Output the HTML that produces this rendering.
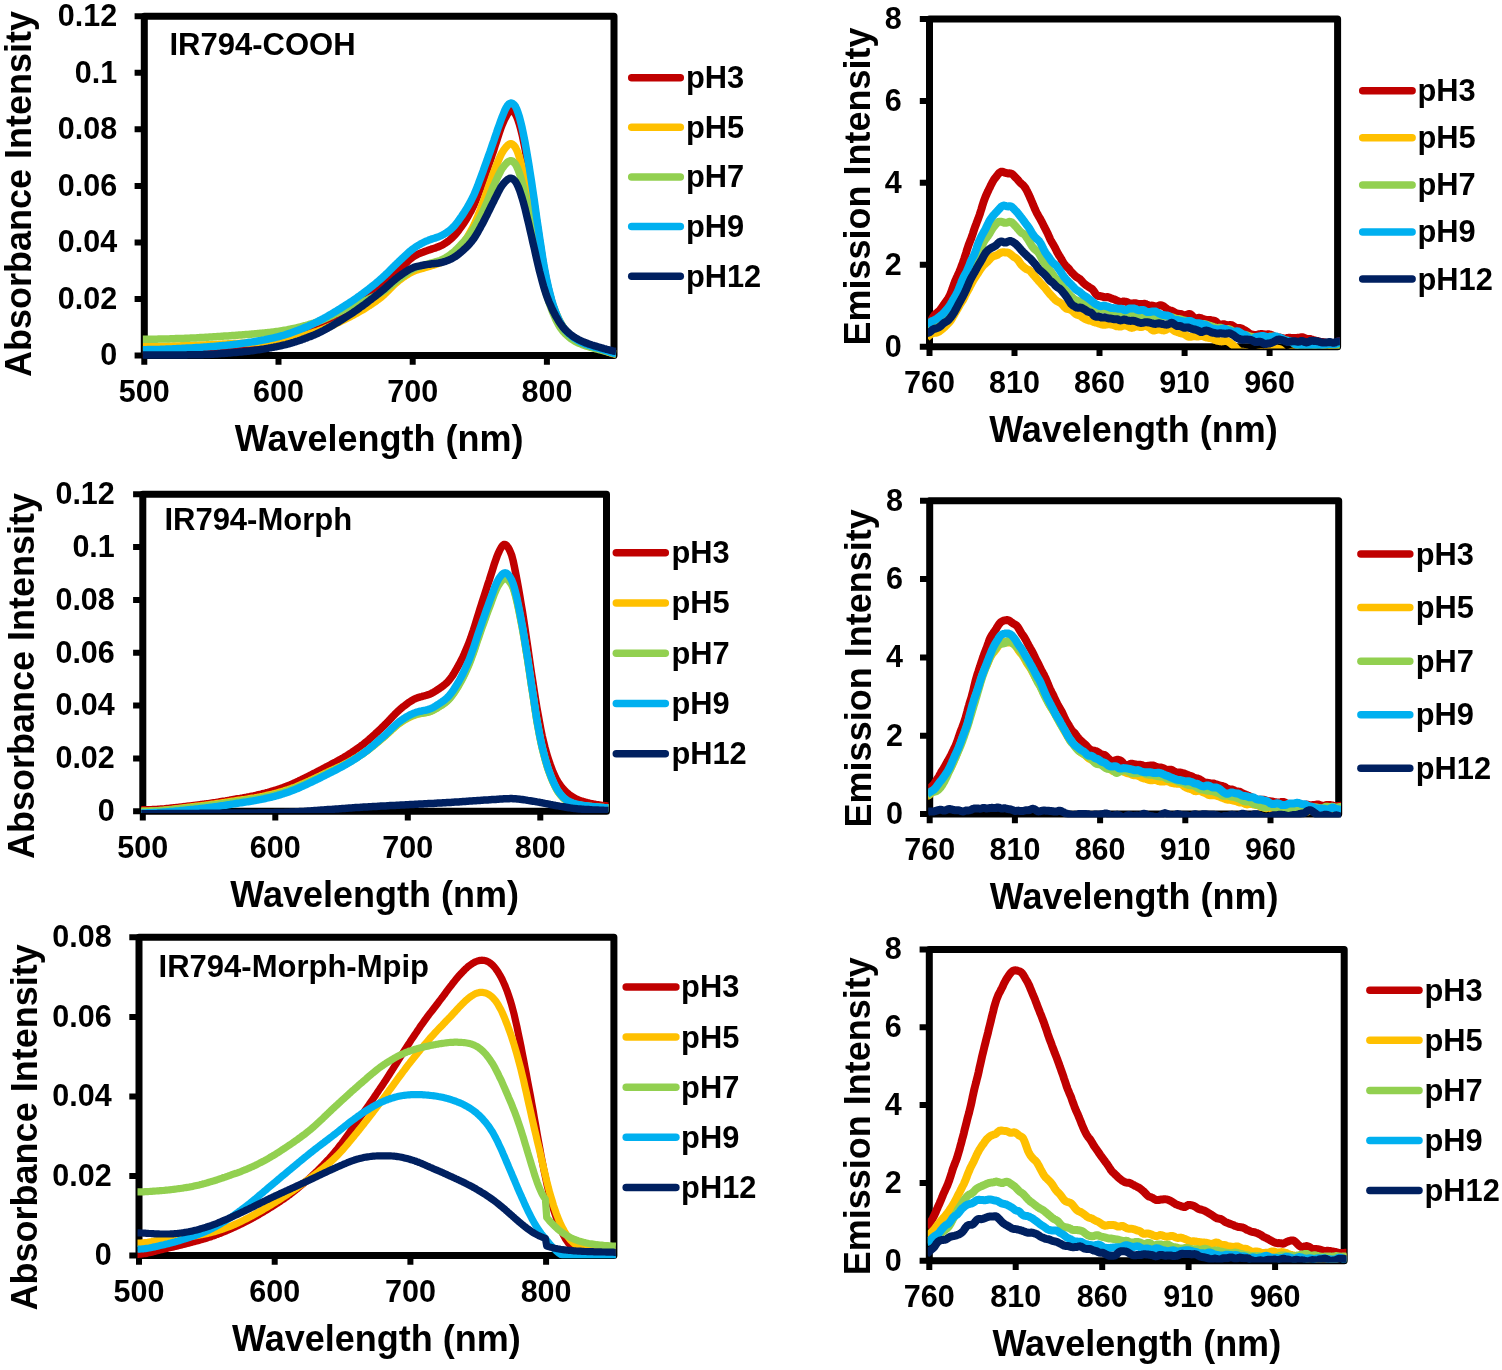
<!DOCTYPE html>
<html lang="en"><head><meta charset="utf-8"><title>Absorbance and emission spectra at different pH</title>
<style>html,body{margin:0;padding:0;background:#fff;}body{width:1502px;height:1370px;overflow:hidden;}svg{display:block;}text{font-family:"Liberation Sans", Arial, Helvetica, sans-serif;font-weight:700;fill:#000;}.tk{font-size:30.5px;}.lg{font-size:30.8px;}.ti{font-size:36px;}.c{fill:none;stroke-linejoin:round;stroke-linecap:butt;}.ax{stroke:#000;fill:none;}</style></head><body>
<svg width="1502" height="1370" viewBox="0 0 1502 1370">
<rect width="1502" height="1370" fill="#fff"/>
<g id="p1">
<rect class="ax" x="144.3" y="16.2" width="469.7" height="339.4" stroke-width="7" stroke-linejoin="round"/>
<path class="ax" stroke-width="6" d="M134.6 355.6H144.3M134.6 299H144.3M134.6 242.5H144.3M134.6 185.9H144.3M134.6 129.3H144.3M134.6 72.8H144.3M134.6 16.2H144.3M144.3 355.6V364.8M278.5 355.6V364.8M412.7 355.6V364.8M546.9 355.6V364.8"/>
<text class="tk" x="117.2" y="365.4" text-anchor="end">0</text>
<text class="tk" x="117.2" y="308.8" text-anchor="end">0.02</text>
<text class="tk" x="117.2" y="252.3" text-anchor="end">0.04</text>
<text class="tk" x="117.2" y="195.7" text-anchor="end">0.06</text>
<text class="tk" x="117.2" y="139.1" text-anchor="end">0.08</text>
<text class="tk" x="117.2" y="82.6" text-anchor="end">0.1</text>
<text class="tk" x="117.2" y="26" text-anchor="end">0.12</text>
<text class="tk" x="144.3" y="401.9" text-anchor="middle">500</text>
<text class="tk" x="278.5" y="401.9" text-anchor="middle">600</text>
<text class="tk" x="412.7" y="401.9" text-anchor="middle">700</text>
<text class="tk" x="546.9" y="401.9" text-anchor="middle">800</text>
<text class="ti" x="379.1" y="450.5" text-anchor="middle">Wavelength (nm)</text>
<text class="ti" transform="translate(31.2 377) rotate(-90)">Absorbance Intensity</text>
<text x="169.5" y="55" style="font-size:31px">IR794-COOH</text>
<clipPath id="clip_p1"><rect x="142.8" y="16.2" width="473.5" height="342.9"/></clipPath>
<g clip-path="url(#clip_p1)">
<path class="c" stroke="#C00000" stroke-width="7.5" d="M142.3,354.2L143.6,354.2 145,354.2 146.3,354.2 147.7,354.2 149,354.2 150.3,354.2 151.7,354.1 153,354.1 154.4,354.1 155.7,354.1 157,354.1 158.4,354 159.7,354 161.1,354 162.4,353.9 163.8,353.9 165.1,353.9 166.4,353.8 167.8,353.8 169.1,353.7 170.5,353.7 171.8,353.6 173.2,353.6 174.5,353.5 175.8,353.5 177.2,353.4 178.5,353.4 179.9,353.3 181.2,353.3 182.5,353.2 183.9,353.2 185.2,353.1 186.6,353 187.9,353 189.3,352.9 190.6,352.8 191.9,352.8 193.3,352.7 194.6,352.7 196,352.6 197.3,352.5 198.7,352.5 200,352.4 201.3,352.3 202.7,352.2 204,352.1 205.4,352 206.7,351.9 208,351.8 209.4,351.7 210.7,351.6 212.1,351.5 213.4,351.4 214.8,351.2 216.1,351.1 217.4,351 218.8,350.8 220.1,350.7 221.5,350.5 222.8,350.4 224.1,350.2 225.5,350.1 226.8,349.9 228.2,349.8 229.5,349.6 230.9,349.4 232.2,349.3 233.5,349.1 234.9,348.9 236.2,348.8 237.6,348.6 238.9,348.4 240.3,348.3 241.6,348.1 242.9,347.9 244.3,347.7 245.6,347.5 247,347.3 248.3,347.1 249.6,346.9 251,346.7 252.3,346.5 253.7,346.3 255,346.1 256.4,345.9 257.7,345.6 259,345.4 260.4,345.2 261.7,344.9 263.1,344.7 264.4,344.4 265.8,344.1 267.1,343.9 268.4,343.6 269.8,343.3 271.1,343.1 272.5,342.8 273.8,342.5 275.1,342.2 276.5,341.9 277.8,341.6 279.2,341.3 280.5,341 281.9,340.6 283.2,340.3 284.5,340 285.9,339.6 287.2,339.2 288.6,338.8 289.9,338.5 291.2,338.1 292.6,337.6 293.9,337.2 295.3,336.8 296.6,336.4 298,335.9 299.3,335.5 300.6,335 302,334.5 303.3,334 304.7,333.5 306,333 307.4,332.5 308.7,332 310,331.5 311.4,331 312.7,330.4 314.1,329.9 315.4,329.3 316.7,328.7 318.1,328.1 319.4,327.5 320.8,326.8 322.1,326.2 323.5,325.5 324.8,324.8 326.1,324.1 327.5,323.4 328.8,322.7 330.2,322 331.5,321.2 332.9,320.5 334.2,319.7 335.5,318.9 336.9,318.1 338.2,317.3 339.6,316.5 340.9,315.7 342.2,314.9 343.6,314.1 344.9,313.2 346.3,312.4 347.6,311.6 349,310.7 350.3,309.8 351.6,308.9 353,308 354.3,307.1 355.7,306.1 357,305.1 358.3,304.1 359.7,303.1 361,302.1 362.4,301.1 363.7,300.1 365.1,299 366.4,297.9 367.7,296.9 369.1,295.8 370.4,294.7 371.8,293.6 373.1,292.5 374.5,291.4 375.8,290.3 377.1,289.2 378.5,288.1 379.8,287 381.2,285.8 382.5,284.7 383.8,283.5 385.2,282.4 386.5,281.2 387.9,280 389.2,278.8 390.6,277.5 391.9,276.3 393.2,275.1 394.6,273.9 395.9,272.6 397.3,271.4 398.6,270.2 400,269 401.3,267.7 402.6,266.4 404,265.1 405.3,263.8 406.7,262.5 408,261.2 409.3,259.9 410.7,258.7 412,257.7 413.4,256.7 414.7,255.8 416.1,255.1 417.4,254.4 418.7,253.8 420.1,253.3 421.4,252.8 422.8,252.3 424.1,251.8 425.4,251.3 426.8,250.8 428.1,250.3 429.5,249.8 430.8,249.4 432.2,248.9 433.5,248.5 434.8,248.1 436.2,247.6 437.5,247.1 438.9,246.6 440.2,246 441.6,245.4 442.9,244.7 444.2,243.9 445.6,243 446.9,242.1 448.3,241.1 449.6,240.1 450.9,238.9 452.3,237.7 453.6,236.3 455,234.9 456.3,233.3 457.7,231.6 459,229.9 460.3,228.1 461.7,226.2 463,224.3 464.4,222.3 465.7,220.2 467.1,218 468.4,215.7 469.7,213.3 471.1,210.8 472.4,208.1 473.8,205.3 475.1,202.2 476.4,199 477.8,195.6 479.1,192 480.5,188.4 481.8,184.7 483.2,181 484.5,177.2 485.8,173.4 487.2,169.5 488.5,165.6 489.9,161.6 491.2,157.7 492.5,153.7 493.9,149.7 495.2,145.5 496.6,141.3 497.9,137.1 499.3,132.9 500.6,129 501.9,125.4 503.3,122.2 504.6,119.3 506,116.7 507.3,114.3 508.7,112.4 510,111.1 511.3,110.7 512.7,111.2 514,112.2 515.4,114 516.7,116.6 518,120 519.4,124.2 520.7,129 522.1,134.6 523.4,140.8 524.8,147.5 526.1,154.7 527.4,162.2 528.8,170.1 530.1,178.3 531.5,186.8 532.8,195.5 534.2,204.4 535.5,213.5 536.8,222.7 538.2,231.7 539.5,240.6 540.9,249.2 542.2,257.5 543.5,265.4 544.9,272.7 546.2,279.3 547.6,285.5 548.9,291.1 550.3,296.3 551.6,301 552.9,305.3 554.3,309.3 555.6,312.8 557,316.1 558.3,319 559.6,321.6 561,324.1 562.3,326.2 563.7,328.2 565,329.9 566.4,331.4 567.7,332.8 569,334.1 570.4,335.3 571.7,336.4 573.1,337.4 574.4,338.4 575.8,339.3 577.1,340.1 578.4,340.8 579.8,341.5 581.1,342.2 582.5,342.8 583.8,343.4 585.1,344 586.5,344.5 587.8,345 589.2,345.5 590.5,345.9 591.9,346.3 593.2,346.8 594.5,347.2 595.9,347.6 597.2,348 598.6,348.4 599.9,348.7 601.3,349.1 602.6,349.5 603.9,349.9 605.3,350.4 606.6,350.8 608,351.2 609.3,351.7 610.6,352.1 612,352.5 613.3,352.9 614.7,353.2 616,353.4"/>
<path class="c" stroke="#FFC000" stroke-width="7.5" d="M142.3,346.8L143.6,346.8 145,346.8 146.3,346.8 147.7,346.8 149,346.8 150.3,346.8 151.7,346.8 153,346.7 154.4,346.7 155.7,346.7 157,346.7 158.4,346.6 159.7,346.6 161.1,346.5 162.4,346.5 163.8,346.5 165.1,346.4 166.4,346.4 167.8,346.3 169.1,346.3 170.5,346.2 171.8,346.2 173.2,346.1 174.5,346.1 175.8,346 177.2,346 178.5,345.9 179.9,345.9 181.2,345.8 182.5,345.8 183.9,345.7 185.2,345.7 186.6,345.6 187.9,345.6 189.3,345.5 190.6,345.5 191.9,345.4 193.3,345.4 194.6,345.3 196,345.3 197.3,345.2 198.7,345.2 200,345.1 201.3,345.1 202.7,345 204,345 205.4,344.9 206.7,344.8 208,344.8 209.4,344.7 210.7,344.7 212.1,344.6 213.4,344.5 214.8,344.5 216.1,344.4 217.4,344.4 218.8,344.3 220.1,344.2 221.5,344.2 222.8,344.1 224.1,344 225.5,344 226.8,343.9 228.2,343.8 229.5,343.8 230.9,343.7 232.2,343.7 233.5,343.6 234.9,343.5 236.2,343.5 237.6,343.4 238.9,343.4 240.3,343.3 241.6,343.2 242.9,343.2 244.3,343.1 245.6,343.1 247,343 248.3,342.9 249.6,342.9 251,342.8 252.3,342.7 253.7,342.7 255,342.6 256.4,342.5 257.7,342.5 259,342.4 260.4,342.3 261.7,342.2 263.1,342.1 264.4,342 265.8,341.9 267.1,341.9 268.4,341.8 269.8,341.6 271.1,341.5 272.5,341.4 273.8,341.3 275.1,341.2 276.5,341.1 277.8,341 279.2,340.8 280.5,340.7 281.9,340.5 283.2,340.3 284.5,340.1 285.9,339.8 287.2,339.6 288.6,339.3 289.9,339 291.2,338.7 292.6,338.4 293.9,338.1 295.3,337.8 296.6,337.4 298,337.1 299.3,336.7 300.6,336.3 302,336 303.3,335.6 304.7,335.2 306,334.8 307.4,334.4 308.7,334 310,333.6 311.4,333.2 312.7,332.8 314.1,332.3 315.4,331.9 316.7,331.5 318.1,331 319.4,330.5 320.8,330 322.1,329.5 323.5,329 324.8,328.5 326.1,327.9 327.5,327.4 328.8,326.8 330.2,326.2 331.5,325.7 332.9,325.1 334.2,324.5 335.5,323.9 336.9,323.2 338.2,322.6 339.6,322 340.9,321.3 342.2,320.7 343.6,320 344.9,319.4 346.3,318.7 347.6,318 349,317.4 350.3,316.7 351.6,316 353,315.3 354.3,314.6 355.7,313.8 357,313.1 358.3,312.3 359.7,311.5 361,310.8 362.4,310 363.7,309.2 365.1,308.3 366.4,307.5 367.7,306.6 369.1,305.8 370.4,304.9 371.8,304 373.1,303.1 374.5,302.2 375.8,301.2 377.1,300.2 378.5,299.3 379.8,298.3 381.2,297.2 382.5,296.1 383.8,294.9 385.2,293.6 386.5,292.3 387.9,291 389.2,289.6 390.6,288.3 391.9,286.9 393.2,285.6 394.6,284.3 395.9,283.1 397.3,281.9 398.6,280.7 400,279.7 401.3,278.7 402.6,277.7 404,276.8 405.3,275.9 406.7,275 408,274.2 409.3,273.4 410.7,272.7 412,272 413.4,271.4 414.7,270.8 416.1,270.3 417.4,269.8 418.7,269.4 420.1,269 421.4,268.7 422.8,268.3 424.1,267.9 425.4,267.5 426.8,267.1 428.1,266.7 429.5,266.3 430.8,265.9 432.2,265.5 433.5,265.1 434.8,264.7 436.2,264.2 437.5,263.7 438.9,263.2 440.2,262.7 441.6,262.1 442.9,261.5 444.2,260.8 445.6,260 446.9,259.2 448.3,258.3 449.6,257.4 450.9,256.4 452.3,255.3 453.6,254.2 455,252.9 456.3,251.6 457.7,250.2 459,248.7 460.3,247.1 461.7,245.4 463,243.6 464.4,241.8 465.7,239.8 467.1,237.7 468.4,235.5 469.7,233.1 471.1,230.7 472.4,228.1 473.8,225.4 475.1,222.5 476.4,219.4 477.8,216.2 479.1,212.8 480.5,209.3 481.8,205.7 483.2,202.1 484.5,198.4 485.8,194.7 487.2,190.8 488.5,186.9 489.9,183 491.2,179.2 492.5,175.5 493.9,172 495.2,168.5 496.6,165 497.9,161.7 499.3,158.5 500.6,155.5 501.9,152.9 503.3,150.7 504.6,148.8 506,147.1 507.3,145.7 508.7,144.5 510,143.8 511.3,143.8 512.7,144.4 514,145.6 515.4,147.4 516.7,149.9 518,153.2 519.4,157.3 520.7,162.1 522.1,167.3 523.4,173 524.8,179.2 526.1,185.9 527.4,192.8 528.8,199.8 530.1,206.8 531.5,213.9 532.8,221 534.2,228.2 535.5,235.3 536.8,242.4 538.2,249.4 539.5,256.2 540.9,262.6 542.2,268.7 543.5,274.5 544.9,280 546.2,285 547.6,289.8 548.9,294.1 550.3,298.2 551.6,302 552.9,305.6 554.3,309 555.6,312.2 557,315.2 558.3,318.1 559.6,320.8 561,323.4 562.3,325.7 563.7,327.8 565,329.6 566.4,331.1 567.7,332.5 569,333.8 570.4,335 571.7,336.1 573.1,337.2 574.4,338.1 575.8,339 577.1,339.9 578.4,340.7 579.8,341.4 581.1,342.1 582.5,342.8 583.8,343.4 585.1,344 586.5,344.6 587.8,345.1 589.2,345.6 590.5,346.1 591.9,346.6 593.2,347 594.5,347.5 595.9,347.9 597.2,348.3 598.6,348.8 599.9,349.2 601.3,349.6 602.6,350 603.9,350.5 605.3,350.9 606.6,351.4 608,351.9 609.3,352.4 610.6,352.8 612,353.3 613.3,353.7 614.7,354 616,354.2"/>
<path class="c" stroke="#92D050" stroke-width="7.5" d="M142.3,339.3L143.6,339.3 145,339.3 146.3,339.3 147.7,339.3 149,339.3 150.3,339.3 151.7,339.3 153,339.2 154.4,339.2 155.7,339.2 157,339.2 158.4,339.1 159.7,339.1 161.1,339.1 162.4,339 163.8,339 165.1,339 166.4,338.9 167.8,338.9 169.1,338.9 170.5,338.8 171.8,338.8 173.2,338.7 174.5,338.7 175.8,338.6 177.2,338.6 178.5,338.6 179.9,338.5 181.2,338.5 182.5,338.4 183.9,338.4 185.2,338.3 186.6,338.3 187.9,338.2 189.3,338.2 190.6,338.1 191.9,338.1 193.3,338 194.6,337.9 196,337.9 197.3,337.8 198.7,337.7 200,337.6 201.3,337.6 202.7,337.5 204,337.4 205.4,337.3 206.7,337.2 208,337.2 209.4,337.1 210.7,337 212.1,336.9 213.4,336.8 214.8,336.7 216.1,336.7 217.4,336.6 218.8,336.5 220.1,336.4 221.5,336.3 222.8,336.2 224.1,336.1 225.5,336 226.8,336 228.2,335.9 229.5,335.8 230.9,335.7 232.2,335.6 233.5,335.5 234.9,335.4 236.2,335.3 237.6,335.2 238.9,335.1 240.3,335 241.6,334.9 242.9,334.8 244.3,334.7 245.6,334.6 247,334.5 248.3,334.4 249.6,334.3 251,334.2 252.3,334 253.7,333.9 255,333.8 256.4,333.7 257.7,333.6 259,333.5 260.4,333.3 261.7,333.2 263.1,333.1 264.4,332.9 265.8,332.8 267.1,332.7 268.4,332.5 269.8,332.4 271.1,332.2 272.5,332.1 273.8,331.9 275.1,331.7 276.5,331.5 277.8,331.4 279.2,331.2 280.5,331 281.9,330.8 283.2,330.5 284.5,330.3 285.9,330.1 287.2,329.8 288.6,329.5 289.9,329.3 291.2,329 292.6,328.7 293.9,328.4 295.3,328.1 296.6,327.8 298,327.5 299.3,327.1 300.6,326.8 302,326.5 303.3,326.1 304.7,325.7 306,325.4 307.4,325 308.7,324.6 310,324.2 311.4,323.8 312.7,323.4 314.1,323 315.4,322.5 316.7,322.1 318.1,321.6 319.4,321.1 320.8,320.5 322.1,320 323.5,319.4 324.8,318.8 326.1,318.2 327.5,317.6 328.8,317 330.2,316.4 331.5,315.8 332.9,315.1 334.2,314.5 335.5,313.8 336.9,313.2 338.2,312.5 339.6,311.9 340.9,311.3 342.2,310.6 343.6,310 344.9,309.4 346.3,308.8 347.6,308.2 349,307.6 350.3,307 351.6,306.4 353,305.8 354.3,305.3 355.7,304.7 357,304.1 358.3,303.6 359.7,303 361,302.5 362.4,301.9 363.7,301.3 365.1,300.7 366.4,300.2 367.7,299.6 369.1,298.9 370.4,298.3 371.8,297.7 373.1,297 374.5,296.4 375.8,295.7 377.1,294.9 378.5,294.2 379.8,293.4 381.2,292.6 382.5,291.7 383.8,290.8 385.2,289.9 386.5,288.8 387.9,287.8 389.2,286.7 390.6,285.7 391.9,284.6 393.2,283.5 394.6,282.4 395.9,281.3 397.3,280.3 398.6,279.2 400,278.2 401.3,277.2 402.6,276.2 404,275.2 405.3,274.2 406.7,273.2 408,272.3 409.3,271.3 410.7,270.4 412,269.6 413.4,268.9 414.7,268.3 416.1,267.7 417.4,267.2 418.7,266.7 420.1,266.3 421.4,265.9 422.8,265.5 424.1,265.1 425.4,264.7 426.8,264.3 428.1,263.9 429.5,263.6 430.8,263.2 432.2,262.8 433.5,262.5 434.8,262.1 436.2,261.7 437.5,261.3 438.9,260.9 440.2,260.4 441.6,259.8 442.9,259.2 444.2,258.5 445.6,257.8 446.9,256.9 448.3,256.1 449.6,255.1 450.9,254.1 452.3,253.1 453.6,252 455,250.8 456.3,249.6 457.7,248.2 459,246.9 460.3,245.4 461.7,244 463,242.5 464.4,241 465.7,239.5 467.1,237.9 468.4,236.2 469.7,234.4 471.1,232.6 472.4,230.7 473.8,228.6 475.1,226.5 476.4,224.1 477.8,221.7 479.1,219.2 480.5,216.5 481.8,213.8 483.2,211 484.5,208 485.8,204.9 487.2,201.6 488.5,198.3 489.9,194.9 491.2,191.6 492.5,188.4 493.9,185.4 495.2,182.4 496.6,179.4 497.9,176.5 499.3,173.7 500.6,171.2 501.9,168.9 503.3,167 504.6,165.3 506,163.8 507.3,162.4 508.7,161.4 510,160.8 511.3,160.7 512.7,161.3 514,162.5 515.4,164.2 516.7,166.5 518,169.5 519.4,173.2 520.7,177.6 522.1,182.4 523.4,187.6 524.8,193.3 526.1,199.3 527.4,205.7 528.8,212.2 530.1,218.8 531.5,225.5 532.8,232.3 534.2,239 535.5,245.7 536.8,252.3 538.2,258.7 539.5,265.1 540.9,271.2 542.2,277.2 543.5,283 544.9,288.5 546.2,293.5 547.6,298 548.9,302.2 550.3,305.9 551.6,309.4 552.9,312.8 554.3,315.9 555.6,319 557,321.8 558.3,324.3 559.6,326.5 561,328.5 562.3,330.3 563.7,332 565,333.4 566.4,334.7 567.7,336 569,337.1 570.4,338.2 571.7,339.2 573.1,340.1 574.4,340.9 575.8,341.7 577.1,342.4 578.4,343 579.8,343.6 581.1,344.1 582.5,344.7 583.8,345.2 585.1,345.6 586.5,346.1 587.8,346.5 589.2,346.9 590.5,347.3 591.9,347.7 593.2,348.1 594.5,348.4 595.9,348.8 597.2,349.1 598.6,349.5 599.9,349.8 601.3,350.1 602.6,350.5 603.9,350.8 605.3,351.2 606.6,351.5 608,351.9 609.3,352.2 610.6,352.6 612,352.9 613.3,353.2 614.7,353.5 616,353.7"/>
<path class="c" stroke="#00B0F0" stroke-width="7.5" d="M142.3,349.7L143.6,349.7 145,349.7 146.3,349.7 147.7,349.6 149,349.6 150.3,349.6 151.7,349.6 153,349.6 154.4,349.5 155.7,349.5 157,349.5 158.4,349.4 159.7,349.4 161.1,349.3 162.4,349.3 163.8,349.2 165.1,349.2 166.4,349.1 167.8,349 169.1,349 170.5,348.9 171.8,348.9 173.2,348.8 174.5,348.7 175.8,348.7 177.2,348.6 178.5,348.5 179.9,348.5 181.2,348.4 182.5,348.3 183.9,348.3 185.2,348.2 186.6,348.1 187.9,348.1 189.3,348 190.6,347.9 191.9,347.9 193.3,347.8 194.6,347.7 196,347.6 197.3,347.5 198.7,347.5 200,347.4 201.3,347.3 202.7,347.2 204,347.1 205.4,347 206.7,346.9 208,346.8 209.4,346.7 210.7,346.6 212.1,346.5 213.4,346.4 214.8,346.3 216.1,346.2 217.4,346.1 218.8,346 220.1,345.8 221.5,345.7 222.8,345.6 224.1,345.5 225.5,345.4 226.8,345.2 228.2,345.1 229.5,344.9 230.9,344.8 232.2,344.7 233.5,344.5 234.9,344.3 236.2,344.2 237.6,344 238.9,343.8 240.3,343.7 241.6,343.5 242.9,343.3 244.3,343.1 245.6,342.9 247,342.7 248.3,342.5 249.6,342.3 251,342.1 252.3,341.9 253.7,341.7 255,341.5 256.4,341.3 257.7,341 259,340.8 260.4,340.6 261.7,340.3 263.1,340.1 264.4,339.8 265.8,339.5 267.1,339.3 268.4,339 269.8,338.7 271.1,338.4 272.5,338.1 273.8,337.8 275.1,337.5 276.5,337.1 277.8,336.8 279.2,336.5 280.5,336.1 281.9,335.7 283.2,335.4 284.5,335 285.9,334.5 287.2,334.1 288.6,333.7 289.9,333.2 291.2,332.8 292.6,332.3 293.9,331.8 295.3,331.3 296.6,330.8 298,330.3 299.3,329.8 300.6,329.2 302,328.7 303.3,328.1 304.7,327.6 306,327 307.4,326.4 308.7,325.9 310,325.2 311.4,324.6 312.7,324 314.1,323.3 315.4,322.7 316.7,322 318.1,321.3 319.4,320.6 320.8,319.9 322.1,319.2 323.5,318.5 324.8,317.7 326.1,317 327.5,316.2 328.8,315.4 330.2,314.7 331.5,313.9 332.9,313.1 334.2,312.3 335.5,311.5 336.9,310.7 338.2,309.8 339.6,309 340.9,308.2 342.2,307.3 343.6,306.5 344.9,305.6 346.3,304.8 347.6,303.9 349,303.1 350.3,302.2 351.6,301.3 353,300.4 354.3,299.5 355.7,298.6 357,297.6 358.3,296.7 359.7,295.7 361,294.7 362.4,293.8 363.7,292.8 365.1,291.7 366.4,290.7 367.7,289.7 369.1,288.7 370.4,287.6 371.8,286.5 373.1,285.5 374.5,284.4 375.8,283.3 377.1,282.2 378.5,281 379.8,279.9 381.2,278.7 382.5,277.5 383.8,276.3 385.2,275 386.5,273.7 387.9,272.4 389.2,271.1 390.6,269.7 391.9,268.4 393.2,267 394.6,265.7 395.9,264.4 397.3,263.1 398.6,261.8 400,260.5 401.3,259.3 402.6,258 404,256.7 405.3,255.5 406.7,254.2 408,253 409.3,251.8 410.7,250.7 412,249.6 413.4,248.6 414.7,247.6 416.1,246.7 417.4,245.9 418.7,245 420.1,244.3 421.4,243.5 422.8,242.8 424.1,242.2 425.4,241.5 426.8,240.9 428.1,240.4 429.5,239.8 430.8,239.4 432.2,238.9 433.5,238.5 434.8,238.1 436.2,237.6 437.5,237.2 438.9,236.7 440.2,236.1 441.6,235.5 442.9,234.8 444.2,234.1 445.6,233.3 446.9,232.4 448.3,231.4 449.6,230.4 450.9,229.3 452.3,228 453.6,226.7 455,225.1 456.3,223.5 457.7,221.7 459,219.9 460.3,218 461.7,216.1 463,214.1 464.4,212 465.7,209.9 467.1,207.7 468.4,205.5 469.7,203.1 471.1,200.6 472.4,197.9 473.8,195.1 475.1,192 476.4,188.8 477.8,185.4 479.1,181.8 480.5,178.1 481.8,174.5 483.2,170.8 484.5,167.1 485.8,163.4 487.2,159.6 488.5,155.8 489.9,152 491.2,148.1 492.5,144.3 493.9,140.4 495.2,136.5 496.6,132.5 497.9,128.5 499.3,124.7 500.6,121 501.9,117.5 503.3,114.1 504.6,110.8 506,108 507.3,105.8 508.7,104.2 510,103.3 511.3,103 512.7,103.5 514,104.6 515.4,106.4 516.7,109.1 518,112.6 519.4,117 520.7,122 522.1,127.7 523.4,134 524.8,140.9 526.1,148.2 527.4,155.9 528.8,164.1 530.1,172.6 531.5,181.4 532.8,190.4 534.2,199.6 535.5,209 536.8,218.4 538.2,227.7 539.5,236.8 540.9,245.9 542.2,254.6 543.5,262.8 544.9,270.4 546.2,277.3 547.6,283.6 548.9,289.5 550.3,294.8 551.6,299.7 552.9,304.1 554.3,308.2 555.6,311.9 557,315.2 558.3,318.3 559.6,321.1 561,323.6 562.3,325.9 563.7,327.8 565,329.6 566.4,331.1 567.7,332.5 569,333.8 570.4,335 571.7,336.1 573.1,337.2 574.4,338.1 575.8,339 577.1,339.9 578.4,340.7 579.8,341.4 581.1,342.1 582.5,342.8 583.8,343.4 585.1,344 586.5,344.5 587.8,345 589.2,345.5 590.5,345.9 591.9,346.3 593.2,346.8 594.5,347.2 595.9,347.6 597.2,347.9 598.6,348.3 599.9,348.7 601.3,349.1 602.6,349.5 603.9,349.9 605.3,350.4 606.6,350.8 608,351.3 609.3,351.8 610.6,352.3 612,352.7 613.3,353.1 614.7,353.5 616,353.7"/>
<path class="c" stroke="#002060" stroke-width="7.5" d="M142.3,355L143.6,355 145,355 146.3,355 147.7,355 149,355 150.3,355 151.7,355 153,355 154.4,355 155.7,355 157,355 158.4,355 159.7,355 161.1,355 162.4,355 163.8,355 165.1,355 166.4,355 167.8,355 169.1,355 170.5,355 171.8,355 173.2,354.9 174.5,354.9 175.8,354.9 177.2,354.9 178.5,354.9 179.9,354.9 181.2,354.9 182.5,354.9 183.9,354.9 185.2,354.9 186.6,354.9 187.9,354.8 189.3,354.8 190.6,354.8 191.9,354.8 193.3,354.8 194.6,354.8 196,354.8 197.3,354.8 198.7,354.7 200,354.7 201.3,354.7 202.7,354.7 204,354.6 205.4,354.6 206.7,354.5 208,354.5 209.4,354.4 210.7,354.3 212.1,354.3 213.4,354.2 214.8,354.1 216.1,354 217.4,353.9 218.8,353.8 220.1,353.7 221.5,353.6 222.8,353.5 224.1,353.4 225.5,353.3 226.8,353.2 228.2,353.1 229.5,353 230.9,352.9 232.2,352.7 233.5,352.6 234.9,352.5 236.2,352.4 237.6,352.3 238.9,352.1 240.3,352 241.6,351.9 242.9,351.8 244.3,351.6 245.6,351.5 247,351.3 248.3,351.2 249.6,351 251,350.8 252.3,350.7 253.7,350.5 255,350.3 256.4,350.1 257.7,349.9 259,349.7 260.4,349.5 261.7,349.3 263.1,349.1 264.4,348.9 265.8,348.6 267.1,348.4 268.4,348.2 269.8,347.9 271.1,347.7 272.5,347.4 273.8,347.2 275.1,346.9 276.5,346.7 277.8,346.4 279.2,346.1 280.5,345.8 281.9,345.5 283.2,345.2 284.5,344.9 285.9,344.6 287.2,344.2 288.6,343.8 289.9,343.5 291.2,343.1 292.6,342.7 293.9,342.3 295.3,341.8 296.6,341.4 298,341 299.3,340.5 300.6,340.1 302,339.6 303.3,339.1 304.7,338.6 306,338.1 307.4,337.6 308.7,337.1 310,336.6 311.4,336.1 312.7,335.5 314.1,335 315.4,334.4 316.7,333.8 318.1,333.2 319.4,332.5 320.8,331.9 322.1,331.2 323.5,330.5 324.8,329.8 326.1,329 327.5,328.3 328.8,327.5 330.2,326.8 331.5,326 332.9,325.2 334.2,324.4 335.5,323.6 336.9,322.8 338.2,322 339.6,321.1 340.9,320.3 342.2,319.5 343.6,318.6 344.9,317.8 346.3,316.9 347.6,316.1 349,315.2 350.3,314.4 351.6,313.5 353,312.6 354.3,311.7 355.7,310.7 357,309.8 358.3,308.9 359.7,307.9 361,306.9 362.4,306 363.7,305 365.1,304 366.4,303 367.7,302 369.1,300.9 370.4,299.9 371.8,298.9 373.1,297.9 374.5,296.8 375.8,295.8 377.1,294.7 378.5,293.7 379.8,292.6 381.2,291.5 382.5,290.4 383.8,289.3 385.2,288.1 386.5,286.9 387.9,285.7 389.2,284.5 390.6,283.3 391.9,282.1 393.2,281 394.6,279.8 395.9,278.7 397.3,277.7 398.6,276.6 400,275.7 401.3,274.7 402.6,273.8 404,272.9 405.3,272 406.7,271.1 408,270.3 409.3,269.5 410.7,268.8 412,268.2 413.4,267.6 414.7,267.1 416.1,266.7 417.4,266.4 418.7,266.1 420.1,265.8 421.4,265.5 422.8,265.3 424.1,265 425.4,264.8 426.8,264.6 428.1,264.4 429.5,264.2 430.8,264 432.2,263.8 433.5,263.7 434.8,263.5 436.2,263.4 437.5,263.2 438.9,263 440.2,262.7 441.6,262.5 442.9,262.1 444.2,261.7 445.6,261.3 446.9,260.8 448.3,260.3 449.6,259.7 450.9,259.1 452.3,258.4 453.6,257.6 455,256.8 456.3,255.9 457.7,254.9 459,253.8 460.3,252.7 461.7,251.6 463,250.4 464.4,249.2 465.7,247.9 467.1,246.6 468.4,245.2 469.7,243.7 471.1,242.1 472.4,240.4 473.8,238.6 475.1,236.6 476.4,234.5 477.8,232.2 479.1,229.8 480.5,227.3 481.8,224.8 483.2,222.3 484.5,219.7 485.8,217.1 487.2,214.4 488.5,211.7 489.9,209 491.2,206.2 492.5,203.6 493.9,200.9 495.2,198.2 496.6,195.5 497.9,192.8 499.3,190.2 500.6,187.8 501.9,185.7 503.3,183.9 504.6,182.3 506,180.9 507.3,179.7 508.7,178.8 510,178.2 511.3,178.2 512.7,178.7 514,179.9 515.4,181.5 516.7,183.6 518,186.3 519.4,189.7 520.7,193.7 522.1,198 523.4,202.6 524.8,207.7 526.1,213.1 527.4,218.7 528.8,224.4 530.1,230.2 531.5,236.2 532.8,242.1 534.2,248 535.5,253.9 536.8,259.8 538.2,265.6 539.5,271.1 540.9,276.4 542.2,281.4 543.5,286.1 544.9,290.5 546.2,294.6 547.6,298.3 548.9,301.7 550.3,304.8 551.6,307.8 552.9,310.6 554.3,313.2 555.6,315.8 557,318.2 558.3,320.5 559.6,322.6 561,324.5 562.3,326.3 563.7,328 565,329.5 566.4,330.8 567.7,332.1 569,333.3 570.4,334.4 571.7,335.4 573.1,336.4 574.4,337.3 575.8,338.1 577.1,338.8 578.4,339.6 579.8,340.2 581.1,340.9 582.5,341.5 583.8,342 585.1,342.6 586.5,343.1 587.8,343.6 589.2,344.1 590.5,344.5 591.9,345 593.2,345.4 594.5,345.8 595.9,346.2 597.2,346.6 598.6,347 599.9,347.4 601.3,347.8 602.6,348.2 603.9,348.6 605.3,348.9 606.6,349.3 608,349.6 609.3,350 610.6,350.3 612,350.7 613.3,351 614.7,351.2 616,351.4"/>
</g>
<path d="M631.7 77.7H680.3" stroke="#C00000" stroke-width="7.5" stroke-linecap="round" fill="none"/>
<text class="lg" x="685.9" y="88.1">pH3</text>
<path d="M631.7 127.3H680.3" stroke="#FFC000" stroke-width="7.5" stroke-linecap="round" fill="none"/>
<text class="lg" x="685.9" y="137.8">pH5</text>
<path d="M631.7 177H680.3" stroke="#92D050" stroke-width="7.5" stroke-linecap="round" fill="none"/>
<text class="lg" x="685.9" y="187.4">pH7</text>
<path d="M631.7 226.6H680.3" stroke="#00B0F0" stroke-width="7.5" stroke-linecap="round" fill="none"/>
<text class="lg" x="685.9" y="237">pH9</text>
<path d="M631.7 276.3H680.3" stroke="#002060" stroke-width="7.5" stroke-linecap="round" fill="none"/>
<text class="lg" x="685.9" y="286.7">pH12</text>
</g>
<g id="p2">
<rect class="ax" x="929.5" y="19" width="408.1" height="327.7" stroke-width="7" stroke-linejoin="round"/>
<path class="ax" stroke-width="6" d="M919.8 346.7H929.5M919.8 264.8H929.5M919.8 182.8H929.5M919.8 100.9H929.5M919.8 19H929.5M929.5 346.7V355.9M1014.5 346.7V355.9M1099.5 346.7V355.9M1184.6 346.7V355.9M1269.6 346.7V355.9"/>
<text class="tk" x="901.7" y="356.5" text-anchor="end">0</text>
<text class="tk" x="901.7" y="274.6" text-anchor="end">2</text>
<text class="tk" x="901.7" y="192.7" text-anchor="end">4</text>
<text class="tk" x="901.7" y="110.7" text-anchor="end">6</text>
<text class="tk" x="901.7" y="28.8" text-anchor="end">8</text>
<text class="tk" x="929.5" y="392.8" text-anchor="middle">760</text>
<text class="tk" x="1014.5" y="392.8" text-anchor="middle">810</text>
<text class="tk" x="1099.5" y="392.8" text-anchor="middle">860</text>
<text class="tk" x="1184.6" y="392.8" text-anchor="middle">910</text>
<text class="tk" x="1269.6" y="392.8" text-anchor="middle">960</text>
<text class="ti" x="1133.5" y="441.8" text-anchor="middle">Wavelength (nm)</text>
<text class="ti" transform="translate(869.9 345.5) rotate(-90)">Emission Intensity</text>
<clipPath id="clip_p2"><rect x="928" y="19" width="411.9" height="329.5"/></clipPath>
<g clip-path="url(#clip_p2)">
<path class="c" stroke="#C00000" stroke-width="8.0" d="M926.9,322.9L927.8,322.6 928.6,322.4 929.5,321.9 930.4,321.2 931.2,320.1 932.1,318.8 932.9,317.3 933.8,316 934.6,314.9 935.5,314 936.3,313.3 937.2,312.6 938,311.9 938.9,311.2 939.7,310.3 940.6,309.2 941.4,308.1 942.3,306.9 943.1,305.7 944,304.5 944.8,303.3 945.7,302 946.5,300.8 947.4,299.6 948.2,298.4 949.1,296.9 949.9,295.2 950.8,293.2 951.6,290.9 952.5,288.5 953.3,286.1 954.2,283.7 955,281.4 955.9,279.4 956.7,277.5 957.6,275.7 958.4,273.9 959.3,272 960.1,269.9 961,267.7 961.8,265.4 962.7,263.1 963.5,260.8 964.4,258.3 965.2,255.7 966.1,252.9 966.9,250.1 967.8,247.4 968.6,245 969.5,242.7 970.3,240.6 971.2,238.4 972,236 972.9,233.5 973.7,230.9 974.6,228.3 975.4,225.9 976.3,223.7 977.1,221.5 978,219.3 978.8,217 979.7,214.5 980.5,211.9 981.4,209.1 982.2,206.3 983.1,203.5 983.9,201 984.8,198.6 985.6,196.5 986.5,194.5 987.3,192.7 988.2,190.8 989,189 989.9,187.3 990.7,185.5 991.6,183.9 992.4,182.2 993.3,180.7 994.1,179.4 995,178.3 995.8,177.2 996.7,176.1 997.5,175 998.4,173.9 999.2,173 1000.1,172.3 1000.9,171.8 1001.8,171.7 1002.6,171.8 1003.5,172.1 1004.3,172.5 1005.2,172.7 1006,173 1006.9,173.2 1007.7,173.4 1008.6,173.4 1009.4,173.3 1010.3,173.4 1011.1,173.6 1012,174 1012.8,174.6 1013.7,175.4 1014.5,176.4 1015.4,177.3 1016.2,178.1 1017.1,179 1017.9,180 1018.8,181 1019.6,182 1020.5,182.9 1021.3,183.7 1022.2,184.4 1023,185.1 1023.9,186 1024.7,187.1 1025.6,188.4 1026.4,189.9 1027.3,191.5 1028.1,193.3 1029,195.1 1029.8,197 1030.7,199 1031.5,200.9 1032.4,202.9 1033.2,204.9 1034.1,207 1034.9,209 1035.8,210.9 1036.6,212.6 1037.5,214.2 1038.3,215.7 1039.2,217.2 1040,218.6 1040.9,220.2 1041.7,221.8 1042.6,223.4 1043.4,225.1 1044.3,226.8 1045.1,228.4 1046,230.1 1046.8,231.7 1047.7,233.5 1048.5,235.4 1049.4,237.4 1050.2,239.3 1051.1,241 1051.9,242.4 1052.8,243.8 1053.6,245.2 1054.5,246.7 1055.3,248.4 1056.2,250.1 1057,251.9 1057.9,253.4 1058.7,254.9 1059.6,256.2 1060.4,257.5 1061.3,259 1062.1,260.5 1063,262 1063.8,263.4 1064.7,264.6 1065.5,265.6 1066.4,266.4 1067.2,267.2 1068.1,268 1068.9,268.9 1069.8,270 1070.6,271.1 1071.5,272.1 1072.3,273 1073.2,273.8 1074,274.7 1074.9,275.5 1075.7,276.3 1076.6,277 1077.4,277.6 1078.3,278.1 1079.1,278.6 1080,279.2 1080.8,280 1081.7,281 1082.5,281.9 1083.4,282.9 1084.2,283.6 1085.1,284.3 1085.9,285 1086.8,285.6 1087.6,286.1 1088.5,286.7 1089.3,287.3 1090.2,287.8 1091,288.3 1091.9,288.9 1092.7,289.7 1093.6,290.8 1094.4,292 1095.3,293.3 1096.1,294.4 1097,295.3 1097.8,295.8 1098.7,296 1099.5,296.1 1100.4,296.1 1101.2,296.3 1102.1,296.5 1102.9,296.8 1103.8,297 1104.6,297.2 1105.5,297.2 1106.3,297.2 1107.2,297.1 1108,297.1 1108.9,297.3 1109.7,297.7 1110.6,298.1 1111.4,298.5 1112.3,298.7 1113.1,299 1114,299.3 1114.8,299.6 1115.7,300 1116.5,300.4 1117.4,300.8 1118.2,301.2 1119.1,301.6 1119.9,301.9 1120.8,302 1121.6,301.9 1122.5,301.7 1123.3,301.5 1124.2,301.5 1125,301.6 1125.9,301.7 1126.7,302 1127.6,302.4 1128.4,302.8 1129.3,303.1 1130.1,303.3 1131,303.5 1131.8,303.5 1132.7,303.4 1133.5,303.3 1134.4,303.2 1135.3,303.2 1136.1,303.4 1137,303.7 1137.8,303.8 1138.7,304 1139.5,304 1140.4,304.1 1141.2,304.1 1142.1,304.1 1142.9,304 1143.8,303.8 1144.6,303.8 1145.5,303.9 1146.3,304.3 1147.2,304.7 1148,305.2 1148.9,305.5 1149.7,305.7 1150.6,305.7 1151.4,305.6 1152.3,305.6 1153.1,305.7 1154,306 1154.8,306.3 1155.7,306.5 1156.5,306.5 1157.4,306.2 1158.2,305.9 1159.1,305.6 1159.9,305.3 1160.8,305.3 1161.6,305.4 1162.5,305.7 1163.3,306.2 1164.2,306.8 1165,307.4 1165.9,308.1 1166.7,308.8 1167.6,309.4 1168.4,309.9 1169.3,310.2 1170.1,310.4 1171,310.6 1171.8,310.9 1172.7,311.2 1173.5,311.7 1174.4,312.2 1175.2,312.8 1176.1,313.2 1176.9,313.5 1177.8,313.7 1178.6,313.8 1179.5,313.9 1180.3,313.9 1181.2,314.1 1182,314.4 1182.9,314.8 1183.7,315.2 1184.6,315.5 1185.4,315.4 1186.3,315.1 1187.1,314.7 1188,314.3 1188.8,314 1189.7,314 1190.5,314.3 1191.4,315 1192.2,315.9 1193.1,316.8 1193.9,317.6 1194.8,318 1195.6,318.3 1196.5,318.2 1197.3,318.1 1198.2,317.9 1199,317.8 1199.9,317.9 1200.7,318.1 1201.6,318.4 1202.4,318.7 1203.3,319 1204.1,319.3 1205,319.6 1205.8,319.9 1206.7,320.1 1207.5,320.1 1208.4,320.1 1209.2,320 1210.1,320 1210.9,320.2 1211.8,320.4 1212.6,320.6 1213.5,320.7 1214.3,320.8 1215.2,321.1 1216,321.6 1216.9,322.4 1217.7,323.3 1218.6,324.2 1219.4,324.7 1220.3,324.9 1221.1,324.8 1222,324.5 1222.8,324.3 1223.7,324.2 1224.5,324.4 1225.4,324.7 1226.2,325.1 1227.1,325.3 1227.9,325.4 1228.8,325.3 1229.6,325.1 1230.5,325 1231.3,325.1 1232.2,325.4 1233,325.9 1233.9,326.5 1234.7,327.1 1235.6,327.6 1236.4,327.9 1237.3,328 1238.1,328.1 1239,328.1 1239.8,328.1 1240.7,328.2 1241.5,328.5 1242.4,328.9 1243.2,329.4 1244.1,329.9 1244.9,330.3 1245.8,330.8 1246.6,331.3 1247.5,332 1248.3,332.7 1249.2,333.4 1250,333.8 1250.9,334.2 1251.7,334.4 1252.6,334.6 1253.4,334.8 1254.3,334.9 1255.1,335 1256,334.9 1256.8,334.8 1257.7,334.6 1258.5,334.4 1259.4,334.2 1260.2,334.1 1261.1,334.1 1261.9,334.1 1262.8,334.2 1263.6,334.3 1264.5,334.4 1265.3,334.4 1266.2,334.4 1267,334.4 1267.9,334.3 1268.7,334.3 1269.6,334.4 1270.4,334.7 1271.3,334.9 1272.1,335.3 1273,335.8 1273.8,336.4 1274.7,337 1275.5,337.4 1276.4,337.6 1277.2,337.6 1278.1,337.5 1278.9,337.4 1279.8,337.4 1280.6,337.6 1281.5,337.8 1282.3,338.1 1283.2,338.3 1284,338.4 1284.9,338.5 1285.7,338.4 1286.6,338.2 1287.4,338 1288.3,337.8 1289.1,337.8 1290,337.8 1290.8,337.9 1291.7,337.9 1292.5,338 1293.4,338 1294.2,338.1 1295.1,338 1295.9,338 1296.8,337.9 1297.6,337.8 1298.5,337.7 1299.3,337.6 1300.2,337.5 1301,337.3 1301.9,337.2 1302.7,337.3 1303.6,337.6 1304.4,338 1305.3,338.4 1306.1,338.6 1307,338.8 1307.8,338.9 1308.7,338.9 1309.5,339 1310.4,339.1 1311.2,339.4 1312.1,339.6 1312.9,339.9 1313.8,340.1 1314.6,340.3 1315.5,340.6 1316.3,340.8 1317.2,341 1318,341.2 1318.9,341.5 1319.7,341.7 1320.6,341.9 1321.4,342 1322.3,342.1 1323.1,342.1 1324,342.3 1324.8,342.5 1325.7,343 1326.5,343.6 1327.4,344 1328.2,344.2 1329.1,344.2 1329.9,344.2 1330.8,344.1 1331.6,344.1 1332.5,344.1 1333.3,344 1334.2,343.6 1335,343.2 1335.9,342.7 1336.7,342.2 1337.6,341.8 1338.5,341.3 1339.3,341 1340.2,340.9"/>
<path class="c" stroke="#FFC000" stroke-width="8.0" d="M926.9,337.4L927.8,336.7 928.6,335.9 929.5,335.2 930.4,334.6 931.2,334 932.1,333.5 932.9,333.2 933.8,332.9 934.6,332.8 935.5,332.8 936.3,332.7 937.2,332.4 938,332.1 938.9,331.7 939.7,331.1 940.6,330.4 941.4,329.8 942.3,329.1 943.1,328.4 944,327.6 944.8,326.8 945.7,325.9 946.5,325.1 947.4,324.2 948.2,323.4 949.1,322.5 949.9,321.5 950.8,320.4 951.6,319.1 952.5,317.7 953.3,316.2 954.2,314.7 955,313.3 955.9,311.8 956.7,310.3 957.6,308.9 958.4,307.4 959.3,305.9 960.1,304.4 961,303 961.8,301.7 962.7,300.4 963.5,299 964.4,297.3 965.2,295.5 966.1,293.8 966.9,292.1 967.8,290.6 968.6,289.1 969.5,287.6 970.3,285.9 971.2,284.3 972,282.6 972.9,281.1 973.7,279.6 974.6,278.3 975.4,277 976.3,275.7 977.1,274.4 978,273.1 978.8,271.8 979.7,270.5 980.5,269.2 981.4,267.9 982.2,266.8 983.1,265.8 983.9,264.9 984.8,264.2 985.6,263.4 986.5,262.7 987.3,261.8 988.2,260.9 989,260 989.9,259 990.7,258.1 991.6,257.4 992.4,256.8 993.3,256.3 994.1,256 995,255.7 995.8,255.5 996.7,255.2 997.5,254.8 998.4,254.2 999.2,253.7 1000.1,253.1 1000.9,252.7 1001.8,252.4 1002.6,252.3 1003.5,252.3 1004.3,252.3 1005.2,252.4 1006,252.4 1006.9,252.5 1007.7,252.5 1008.6,252.8 1009.4,253.3 1010.3,254 1011.1,254.7 1012,255.4 1012.8,256.1 1013.7,256.8 1014.5,257.3 1015.4,257.8 1016.2,258.4 1017.1,259.1 1017.9,260 1018.8,261.2 1019.6,262.5 1020.5,263.8 1021.3,264.8 1022.2,265.7 1023,266.5 1023.9,267.2 1024.7,267.9 1025.6,268.5 1026.4,269 1027.3,269.4 1028.1,269.7 1029,270 1029.8,270.7 1030.7,271.5 1031.5,272.6 1032.4,273.6 1033.2,274.7 1034.1,275.6 1034.9,276.6 1035.8,277.6 1036.6,278.6 1037.5,279.5 1038.3,280.5 1039.2,281.5 1040,282.4 1040.9,283.4 1041.7,284.3 1042.6,285.2 1043.4,286.2 1044.3,287.1 1045.1,288.1 1046,289.2 1046.8,290.3 1047.7,291.4 1048.5,292.5 1049.4,293.4 1050.2,294.4 1051.1,295.3 1051.9,296.2 1052.8,297.2 1053.6,298.1 1054.5,299 1055.3,299.8 1056.2,300.5 1057,301.2 1057.9,301.6 1058.7,302 1059.6,302.4 1060.4,302.8 1061.3,303.5 1062.1,304.3 1063,305.3 1063.8,306.3 1064.7,307.2 1065.5,308 1066.4,308.6 1067.2,308.9 1068.1,309.1 1068.9,309.2 1069.8,309.4 1070.6,309.7 1071.5,310.2 1072.3,310.9 1073.2,311.6 1074,312.4 1074.9,313.2 1075.7,313.9 1076.6,314.4 1077.4,314.8 1078.3,315.1 1079.1,315.3 1080,315.6 1080.8,316.1 1081.7,316.7 1082.5,317.4 1083.4,318 1084.2,318.4 1085.1,318.9 1085.9,319.3 1086.8,319.7 1087.6,320 1088.5,320.3 1089.3,320.5 1090.2,320.6 1091,320.8 1091.9,321.1 1092.7,321.5 1093.6,321.9 1094.4,322.2 1095.3,322.5 1096.1,322.7 1097,322.9 1097.8,323.1 1098.7,323.4 1099.5,323.7 1100.4,324 1101.2,324.3 1102.1,324.5 1102.9,324.7 1103.8,324.8 1104.6,324.8 1105.5,324.7 1106.3,324.5 1107.2,324.3 1108,324.1 1108.9,324.1 1109.7,324.3 1110.6,324.4 1111.4,324.6 1112.3,324.7 1113.1,324.9 1114,325.2 1114.8,325.5 1115.7,325.9 1116.5,326.2 1117.4,326.3 1118.2,326.4 1119.1,326.4 1119.9,326.5 1120.8,326.5 1121.6,326.3 1122.5,326 1123.3,325.7 1124.2,325.5 1125,325.5 1125.9,325.6 1126.7,325.8 1127.6,326.1 1128.4,326.5 1129.3,327 1130.1,327.4 1131,327.7 1131.8,327.9 1132.7,327.7 1133.5,327.4 1134.4,327 1135.3,326.7 1136.1,326.5 1137,326.4 1137.8,326.4 1138.7,326.6 1139.5,326.8 1140.4,327 1141.2,327.1 1142.1,326.9 1142.9,326.5 1143.8,326.1 1144.6,325.9 1145.5,326 1146.3,326.2 1147.2,326.6 1148,326.9 1148.9,327.2 1149.7,327.7 1150.6,328.5 1151.4,329.3 1152.3,330 1153.1,330.4 1154,330.5 1154.8,330.3 1155.7,330 1156.5,329.8 1157.4,329.6 1158.2,329.5 1159.1,329.5 1159.9,329.6 1160.8,329.8 1161.6,330.1 1162.5,330.3 1163.3,330.4 1164.2,330.4 1165,330.2 1165.9,329.8 1166.7,329.3 1167.6,328.8 1168.4,328.5 1169.3,328.3 1170.1,328.3 1171,328.6 1171.8,329.1 1172.7,329.6 1173.5,330.2 1174.4,330.8 1175.2,331.3 1176.1,331.7 1176.9,331.9 1177.8,332.2 1178.6,332.5 1179.5,332.8 1180.3,333.2 1181.2,333.4 1182,333.6 1182.9,333.7 1183.7,333.9 1184.6,334.3 1185.4,334.8 1186.3,335.4 1187.1,336 1188,336.5 1188.8,336.8 1189.7,336.8 1190.5,336.8 1191.4,336.6 1192.2,336.4 1193.1,336.3 1193.9,336.3 1194.8,336.3 1195.6,336.4 1196.5,336.5 1197.3,336.5 1198.2,336.5 1199,336.4 1199.9,336.2 1200.7,336 1201.6,335.9 1202.4,335.9 1203.3,336.2 1204.1,336.6 1205,337 1205.8,337.3 1206.7,337.5 1207.5,337.7 1208.4,337.9 1209.2,338 1210.1,338.1 1210.9,338.2 1211.8,338.4 1212.6,338.7 1213.5,339.1 1214.3,339.6 1215.2,340 1216,340.3 1216.9,340.6 1217.7,340.8 1218.6,340.9 1219.4,341.1 1220.3,341.3 1221.1,341.4 1222,341.4 1222.8,341.3 1223.7,341.1 1224.5,341 1225.4,340.9 1226.2,340.9 1227.1,341.1 1227.9,341.4 1228.8,341.9 1229.6,342.5 1230.5,343.2 1231.3,343.8 1232.2,344.5 1233,345.1 1233.9,345.9 1234.7,346.7 1235.6,347.5 1236.4,348.5 1237.3,349.4 1238.1,350.2 1239,350.8 1239.8,351.2 1240.7,351.5 1241.5,351.6 1242.4,351.7 1243.2,351.8 1244.1,351.9 1244.9,352.1 1245.8,352.2 1246.6,352.4 1247.5,352.7 1248.3,353.1 1249.2,353.4 1250,353.8 1250.9,354.1 1251.7,354.4 1252.6,354.5 1253.4,354.4 1254.3,354.1 1255.1,353.8 1256,353.4 1256.8,353.1 1257.7,352.7 1258.5,352.5 1259.4,352.2 1260.2,352.1 1261.1,352.1 1261.9,352.1 1262.8,352.2 1263.6,352.2 1264.5,352.2 1265.3,352 1266.2,351.8 1267,351.6 1267.9,351.4 1268.7,351.2 1269.6,351.2 1270.4,351.2 1271.3,351.2 1272.1,351.1 1273,350.8 1273.8,350.2 1274.7,349.5 1275.5,349 1276.4,348.7 1277.2,348.6 1278.1,348.8 1278.9,349 1279.8,349.2 1280.6,349.7 1281.5,350.4 1282.3,351.2 1283.2,352.1 1284,352.9 1284.9,353.5 1285.7,353.7 1286.6,353.6 1287.4,353.3 1288.3,352.9 1289.1,352.6 1290,352.4 1290.8,352.2 1291.7,352 1292.5,351.7 1293.4,351.5 1294.2,351.3 1295.1,351.4 1295.9,351.7 1296.8,352.1 1297.6,352.5 1298.5,353 1299.3,353.3 1300.2,353.6 1301,353.8 1301.9,353.7 1302.7,353.4 1303.6,353 1304.4,352.8 1305.3,352.8 1306.1,353.1 1307,353.6 1307.8,354 1308.7,354.2 1309.5,354.2 1310.4,354 1311.2,353.6 1312.1,353.2 1312.9,352.8 1313.8,352.5 1314.6,352.5 1315.5,352.6 1316.3,352.9 1317.2,353.2 1318,353.4 1318.9,353.5 1319.7,353.4 1320.6,353.2 1321.4,352.9 1322.3,352.5 1323.1,352.3 1324,352.2 1324.8,352.2 1325.7,352.3 1326.5,352.5 1327.4,352.5 1328.2,352.4 1329.1,352.2 1329.9,351.8 1330.8,351.4 1331.6,351 1332.5,350.9 1333.3,351 1334.2,351.3 1335,351.6 1335.9,352 1336.7,352.1 1337.6,352.1 1338.5,351.8 1339.3,351.5 1340.2,351.2"/>
<path class="c" stroke="#92D050" stroke-width="8.0" d="M926.9,331.3L927.8,330.8 928.6,330 929.5,329.1 930.4,328.2 931.2,327.3 932.1,326.5 932.9,325.9 933.8,325.2 934.6,324.6 935.5,324 936.3,323.5 937.2,323.1 938,322.8 938.9,322.6 939.7,322.4 940.6,322.1 941.4,321.6 942.3,320.9 943.1,320.2 944,319.4 944.8,318.7 945.7,317.9 946.5,317.3 947.4,316.6 948.2,315.8 949.1,314.8 949.9,313.6 950.8,312 951.6,310.3 952.5,308.5 953.3,306.7 954.2,305.1 955,303.6 955.9,302.2 956.7,300.8 957.6,299.3 958.4,297.7 959.3,296 960.1,294.1 961,292.1 961.8,290.1 962.7,287.9 963.5,285.5 964.4,282.9 965.2,280.3 966.1,277.7 966.9,275.5 967.8,273.5 968.6,271.8 969.5,270.2 970.3,268.5 971.2,266.7 972,264.9 972.9,263.2 973.7,261.4 974.6,259.7 975.4,258.2 976.3,256.8 977.1,255.5 978,254.1 978.8,252.7 979.7,251.1 980.5,249.2 981.4,247.3 982.2,245.2 983.1,243.3 983.9,241.6 984.8,240.1 985.6,238.8 986.5,237.8 987.3,236.7 988.2,235.6 989,234.4 989.9,232.9 990.7,231.4 991.6,229.9 992.4,228.6 993.3,227.4 994.1,226.3 995,225.3 995.8,224.3 996.7,223.3 997.5,222.6 998.4,222 999.2,221.8 1000.1,221.7 1000.9,221.7 1001.8,221.9 1002.6,222.1 1003.5,222.4 1004.3,222.7 1005.2,222.8 1006,222.8 1006.9,222.6 1007.7,222.4 1008.6,222.1 1009.4,221.8 1010.3,221.9 1011.1,222.1 1012,222.6 1012.8,223.3 1013.7,224.2 1014.5,225.1 1015.4,226 1016.2,226.9 1017.1,227.9 1017.9,228.9 1018.8,229.9 1019.6,230.9 1020.5,231.9 1021.3,232.7 1022.2,233.2 1023,233.6 1023.9,234.1 1024.7,234.8 1025.6,235.8 1026.4,237.1 1027.3,238.4 1028.1,239.7 1029,241.1 1029.8,242.5 1030.7,243.9 1031.5,245.3 1032.4,246.6 1033.2,247.7 1034.1,248.6 1034.9,249.4 1035.8,250.1 1036.6,250.7 1037.5,251.5 1038.3,252.5 1039.2,253.8 1040,255.2 1040.9,256.9 1041.7,258.6 1042.6,260.3 1043.4,261.8 1044.3,263.1 1045.1,264.2 1046,265.3 1046.8,266.3 1047.7,267.4 1048.5,268.5 1049.4,269.6 1050.2,270.8 1051.1,272 1051.9,273.2 1052.8,274.6 1053.6,275.9 1054.5,277.2 1055.3,278.3 1056.2,279.1 1057,279.9 1057.9,280.7 1058.7,281.6 1059.6,282.8 1060.4,284.1 1061.3,285.2 1062.1,286.3 1063,287.2 1063.8,288.1 1064.7,289 1065.5,290 1066.4,291.1 1067.2,292.2 1068.1,293.3 1068.9,294.2 1069.8,295.1 1070.6,295.9 1071.5,296.7 1072.3,297.5 1073.2,298.3 1074,299 1074.9,299.6 1075.7,300 1076.6,300.4 1077.4,300.7 1078.3,301.1 1079.1,301.5 1080,301.8 1080.8,302.1 1081.7,302.2 1082.5,302.5 1083.4,302.8 1084.2,303.2 1085.1,303.7 1085.9,304.1 1086.8,304.5 1087.6,304.9 1088.5,305.4 1089.3,306 1090.2,306.7 1091,307.4 1091.9,308 1092.7,308.5 1093.6,308.9 1094.4,309.2 1095.3,309.5 1096.1,309.7 1097,309.8 1097.8,309.9 1098.7,309.9 1099.5,309.9 1100.4,309.8 1101.2,309.7 1102.1,309.5 1102.9,309.3 1103.8,309.3 1104.6,309.3 1105.5,309.4 1106.3,309.6 1107.2,309.7 1108,309.9 1108.9,310.2 1109.7,310.7 1110.6,311.4 1111.4,312.2 1112.3,313 1113.1,313.7 1114,314.2 1114.8,314.5 1115.7,314.7 1116.5,314.7 1117.4,314.6 1118.2,314.5 1119.1,314.3 1119.9,314.2 1120.8,314.3 1121.6,314.4 1122.5,314.5 1123.3,314.7 1124.2,314.9 1125,315 1125.9,315 1126.7,314.9 1127.6,314.8 1128.4,314.7 1129.3,314.7 1130.1,314.6 1131,314.4 1131.8,314.3 1132.7,314.2 1133.5,314.1 1134.4,314.3 1135.3,314.6 1136.1,315.1 1137,315.6 1137.8,316.1 1138.7,316.5 1139.5,316.7 1140.4,316.9 1141.2,317 1142.1,316.9 1142.9,316.7 1143.8,316.3 1144.6,315.7 1145.5,315.3 1146.3,315 1147.2,314.9 1148,315.1 1148.9,315.3 1149.7,315.6 1150.6,315.8 1151.4,316.1 1152.3,316.3 1153.1,316.5 1154,316.6 1154.8,316.6 1155.7,316.6 1156.5,316.6 1157.4,316.6 1158.2,316.6 1159.1,316.6 1159.9,316.7 1160.8,316.8 1161.6,316.8 1162.5,316.8 1163.3,316.6 1164.2,316.3 1165,316 1165.9,315.9 1166.7,316 1167.6,316.3 1168.4,316.8 1169.3,317.1 1170.1,317.2 1171,317.2 1171.8,317.2 1172.7,317.4 1173.5,317.7 1174.4,318.1 1175.2,318.5 1176.1,318.7 1176.9,318.9 1177.8,318.9 1178.6,319 1179.5,319.1 1180.3,319.3 1181.2,319.6 1182,319.9 1182.9,320.1 1183.7,320.3 1184.6,320.5 1185.4,320.6 1186.3,320.8 1187.1,321 1188,321.2 1188.8,321.4 1189.7,321.7 1190.5,322.1 1191.4,322.6 1192.2,323.1 1193.1,323.6 1193.9,323.9 1194.8,324.1 1195.6,324.1 1196.5,324.2 1197.3,324.2 1198.2,324.2 1199,324.3 1199.9,324.3 1200.7,324.4 1201.6,324.3 1202.4,324.2 1203.3,324.1 1204.1,324.1 1205,324.2 1205.8,324.5 1206.7,324.7 1207.5,324.9 1208.4,325.2 1209.2,325.5 1210.1,325.8 1210.9,326.1 1211.8,326.4 1212.6,326.6 1213.5,326.9 1214.3,327.2 1215.2,327.5 1216,327.7 1216.9,327.9 1217.7,328 1218.6,327.9 1219.4,327.7 1220.3,327.7 1221.1,327.9 1222,328.3 1222.8,328.9 1223.7,329.4 1224.5,329.7 1225.4,329.7 1226.2,329.5 1227.1,329.3 1227.9,329.1 1228.8,329.1 1229.6,329.3 1230.5,329.7 1231.3,330.3 1232.2,330.9 1233,331.5 1233.9,332.2 1234.7,332.7 1235.6,332.9 1236.4,333 1237.3,332.9 1238.1,332.8 1239,332.9 1239.8,333.1 1240.7,333.4 1241.5,333.9 1242.4,334.4 1243.2,334.8 1244.1,335 1244.9,335.1 1245.8,335.1 1246.6,335.2 1247.5,335.5 1248.3,335.9 1249.2,336.3 1250,336.6 1250.9,336.7 1251.7,336.8 1252.6,337 1253.4,337.2 1254.3,337.5 1255.1,337.7 1256,337.8 1256.8,337.9 1257.7,338 1258.5,338.2 1259.4,338.2 1260.2,338.2 1261.1,338 1261.9,337.9 1262.8,337.9 1263.6,338.1 1264.5,338.3 1265.3,338.4 1266.2,338.3 1267,337.9 1267.9,337.4 1268.7,337 1269.6,336.7 1270.4,336.5 1271.3,336.6 1272.1,336.6 1273,336.8 1273.8,336.9 1274.7,337.1 1275.5,337.3 1276.4,337.6 1277.2,337.9 1278.1,338.3 1278.9,338.8 1279.8,339.3 1280.6,339.7 1281.5,339.9 1282.3,339.9 1283.2,340 1284,340.1 1284.9,340.2 1285.7,340.4 1286.6,340.6 1287.4,340.8 1288.3,340.9 1289.1,341 1290,341.1 1290.8,341.4 1291.7,341.8 1292.5,342.4 1293.4,342.9 1294.2,343.5 1295.1,343.9 1295.9,344.3 1296.8,344.5 1297.6,344.7 1298.5,345 1299.3,345.3 1300.2,345.6 1301,345.8 1301.9,345.9 1302.7,345.8 1303.6,345.6 1304.4,345.5 1305.3,345.6 1306.1,345.7 1307,345.9 1307.8,346.1 1308.7,346.3 1309.5,346.5 1310.4,346.8 1311.2,347.2 1312.1,347.3 1312.9,347.3 1313.8,347.2 1314.6,347 1315.5,347 1316.3,347.2 1317.2,347.7 1318,348.3 1318.9,348.8 1319.7,349.1 1320.6,349.2 1321.4,349 1322.3,348.8 1323.1,348.6 1324,348.7 1324.8,348.9 1325.7,349.3 1326.5,349.7 1327.4,350.1 1328.2,350.3 1329.1,350.5 1329.9,350.5 1330.8,350.4 1331.6,350.2 1332.5,349.9 1333.3,349.6 1334.2,349.3 1335,349 1335.9,348.8 1336.7,348.8 1337.6,348.9 1338.5,349.2 1339.3,349.6 1340.2,350"/>
<path class="c" stroke="#00B0F0" stroke-width="8.0" d="M926.9,325L927.8,324.3 928.6,323.6 929.5,322.8 930.4,322.1 931.2,321.6 932.1,321.1 932.9,320.8 933.8,320.4 934.6,319.9 935.5,319.4 936.3,318.9 937.2,318.4 938,317.8 938.9,317.2 939.7,316.5 940.6,315.8 941.4,315.1 942.3,314.4 943.1,313.6 944,312.7 944.8,311.8 945.7,310.8 946.5,309.8 947.4,308.7 948.2,307.7 949.1,306.6 949.9,305.3 950.8,304 951.6,302.5 952.5,301 953.3,299.5 954.2,298.1 955,296.7 955.9,295.2 956.7,293.6 957.6,291.9 958.4,290 959.3,287.8 960.1,285.6 961,283.4 961.8,281.2 962.7,279.2 963.5,277.4 964.4,275.7 965.2,274.2 966.1,272.6 966.9,271 967.8,269 968.6,266.9 969.5,264.7 970.3,262.5 971.2,260.5 972,258.8 972.9,257.3 973.7,255.7 974.6,253.8 975.4,251.5 976.3,249 977.1,246.4 978,244 978.8,241.8 979.7,239.9 980.5,238.1 981.4,236.3 982.2,234.7 983.1,233.2 983.9,231.8 984.8,230.3 985.6,228.7 986.5,226.9 987.3,225.1 988.2,223.3 989,221.6 989.9,220.2 990.7,218.8 991.6,217.6 992.4,216.5 993.3,215.5 994.1,214.5 995,213.6 995.8,212.7 996.7,211.8 997.5,210.8 998.4,209.9 999.2,209 1000.1,208 1000.9,207.1 1001.8,206.3 1002.6,205.8 1003.5,205.6 1004.3,205.6 1005.2,205.8 1006,206.1 1006.9,206.3 1007.7,206.4 1008.6,206.4 1009.4,206.2 1010.3,206.2 1011.1,206.5 1012,207 1012.8,207.8 1013.7,208.7 1014.5,209.6 1015.4,210.5 1016.2,211.3 1017.1,212.3 1017.9,213.3 1018.8,214.4 1019.6,215.5 1020.5,216.5 1021.3,217.6 1022.2,218.7 1023,219.8 1023.9,221 1024.7,222.2 1025.6,223.4 1026.4,224.5 1027.3,225.6 1028.1,226.6 1029,227.8 1029.8,229.1 1030.7,230.7 1031.5,232.2 1032.4,233.6 1033.2,234.9 1034.1,236 1034.9,237 1035.8,237.9 1036.6,238.8 1037.5,239.6 1038.3,240.3 1039.2,241.2 1040,242.4 1040.9,243.7 1041.7,245.4 1042.6,247.1 1043.4,248.8 1044.3,250.5 1045.1,252 1046,253.4 1046.8,254.6 1047.7,255.7 1048.5,256.8 1049.4,258 1050.2,259.3 1051.1,260.5 1051.9,261.6 1052.8,262.6 1053.6,263.3 1054.5,264 1055.3,264.8 1056.2,265.6 1057,266.6 1057.9,267.7 1058.7,268.9 1059.6,270.1 1060.4,271.3 1061.3,272.6 1062.1,274 1063,275.3 1063.8,276.5 1064.7,277.6 1065.5,278.6 1066.4,279.5 1067.2,280.5 1068.1,281.4 1068.9,282.4 1069.8,283.2 1070.6,284 1071.5,284.9 1072.3,285.8 1073.2,286.8 1074,287.7 1074.9,288.6 1075.7,289.4 1076.6,290 1077.4,290.5 1078.3,291 1079.1,291.5 1080,292.1 1080.8,292.9 1081.7,293.7 1082.5,294.5 1083.4,295.2 1084.2,295.8 1085.1,296.2 1085.9,296.7 1086.8,297.3 1087.6,297.9 1088.5,298.5 1089.3,299.2 1090.2,299.9 1091,300.5 1091.9,301.2 1092.7,301.9 1093.6,302.6 1094.4,303.3 1095.3,303.8 1096.1,304.3 1097,304.7 1097.8,305.1 1098.7,305.6 1099.5,306 1100.4,306.2 1101.2,306.2 1102.1,306 1102.9,305.7 1103.8,305.6 1104.6,305.7 1105.5,306 1106.3,306.2 1107.2,306.5 1108,306.7 1108.9,307.1 1109.7,307.4 1110.6,307.7 1111.4,308 1112.3,308.1 1113.1,308.1 1114,308.2 1114.8,308.2 1115.7,308.3 1116.5,308.4 1117.4,308.6 1118.2,308.7 1119.1,308.7 1119.9,308.7 1120.8,308.7 1121.6,308.8 1122.5,309 1123.3,309.4 1124.2,309.9 1125,310.2 1125.9,310.2 1126.7,309.8 1127.6,309.3 1128.4,308.8 1129.3,308.5 1130.1,308.4 1131,308.4 1131.8,308.5 1132.7,308.5 1133.5,308.5 1134.4,308.6 1135.3,308.8 1136.1,309.2 1137,309.7 1137.8,310 1138.7,310.3 1139.5,310.3 1140.4,310.2 1141.2,310 1142.1,309.9 1142.9,309.9 1143.8,310.1 1144.6,310.5 1145.5,311.1 1146.3,311.6 1147.2,312 1148,312.1 1148.9,312.1 1149.7,312 1150.6,311.9 1151.4,311.7 1152.3,311.6 1153.1,311.5 1154,311.5 1154.8,311.5 1155.7,311.6 1156.5,311.9 1157.4,312.4 1158.2,312.9 1159.1,313.4 1159.9,313.8 1160.8,314.2 1161.6,314.5 1162.5,314.8 1163.3,315 1164.2,315.2 1165,315.3 1165.9,315.4 1166.7,315.5 1167.6,315.6 1168.4,315.8 1169.3,316.2 1170.1,316.8 1171,317.4 1171.8,318.1 1172.7,318.8 1173.5,319.4 1174.4,319.8 1175.2,320 1176.1,320 1176.9,320 1177.8,320.1 1178.6,320.4 1179.5,320.6 1180.3,320.9 1181.2,321 1182,321.2 1182.9,321.3 1183.7,321.4 1184.6,321.5 1185.4,321.5 1186.3,321.4 1187.1,321.3 1188,321.2 1188.8,321 1189.7,320.9 1190.5,321 1191.4,321.3 1192.2,321.8 1193.1,322.3 1193.9,322.7 1194.8,323 1195.6,323.2 1196.5,323.2 1197.3,323.2 1198.2,323.2 1199,323.3 1199.9,323.4 1200.7,323.6 1201.6,323.9 1202.4,324.2 1203.3,324.4 1204.1,324.5 1205,324.7 1205.8,325 1206.7,325.4 1207.5,325.9 1208.4,326.4 1209.2,327 1210.1,327.6 1210.9,328 1211.8,328.4 1212.6,328.7 1213.5,328.8 1214.3,328.9 1215.2,329.1 1216,329.2 1216.9,329.3 1217.7,329.4 1218.6,329.4 1219.4,329.3 1220.3,329.1 1221.1,328.9 1222,328.7 1222.8,328.6 1223.7,328.6 1224.5,328.8 1225.4,329.1 1226.2,329.4 1227.1,329.7 1227.9,330 1228.8,330.3 1229.6,330.5 1230.5,330.9 1231.3,331.3 1232.2,331.7 1233,331.9 1233.9,331.9 1234.7,331.7 1235.6,331.5 1236.4,331.3 1237.3,331.3 1238.1,331.5 1239,331.9 1239.8,332.4 1240.7,333 1241.5,333.6 1242.4,334 1243.2,334.3 1244.1,334.6 1244.9,334.9 1245.8,335.4 1246.6,336.1 1247.5,336.9 1248.3,337.7 1249.2,338.3 1250,338.7 1250.9,338.9 1251.7,338.9 1252.6,338.7 1253.4,338.3 1254.3,337.8 1255.1,337.4 1256,337 1256.8,336.8 1257.7,336.6 1258.5,336.5 1259.4,336.4 1260.2,336.3 1261.1,336.2 1261.9,336 1262.8,336 1263.6,336 1264.5,336.3 1265.3,336.5 1266.2,336.8 1267,337 1267.9,337 1268.7,337.1 1269.6,337.1 1270.4,337 1271.3,337 1272.1,336.8 1273,336.6 1273.8,336.4 1274.7,336.3 1275.5,336.3 1276.4,336.5 1277.2,336.8 1278.1,337.2 1278.9,337.5 1279.8,337.7 1280.6,337.9 1281.5,338.2 1282.3,338.7 1283.2,339.3 1284,339.8 1284.9,340.2 1285.7,340.5 1286.6,340.6 1287.4,340.7 1288.3,340.8 1289.1,341 1290,341.3 1290.8,341.7 1291.7,342.1 1292.5,342.6 1293.4,343.1 1294.2,343.6 1295.1,344.1 1295.9,344.6 1296.8,345.1 1297.6,345.6 1298.5,346.1 1299.3,346.6 1300.2,347 1301,347.4 1301.9,347.6 1302.7,347.8 1303.6,347.8 1304.4,347.8 1305.3,347.8 1306.1,347.7 1307,347.8 1307.8,347.8 1308.7,347.8 1309.5,347.8 1310.4,347.7 1311.2,347.7 1312.1,347.8 1312.9,348 1313.8,348.2 1314.6,348.3 1315.5,348.2 1316.3,347.9 1317.2,347.4 1318,346.9 1318.9,346.4 1319.7,346 1320.6,345.6 1321.4,345.3 1322.3,345 1323.1,344.8 1324,344.7 1324.8,344.6 1325.7,344.5 1326.5,344.4 1327.4,344.2 1328.2,344.1 1329.1,344 1329.9,344 1330.8,344 1331.6,344.1 1332.5,344.1 1333.3,344.2 1334.2,344.2 1335,344.1 1335.9,343.9 1336.7,343.6 1337.6,343.3 1338.5,343 1339.3,342.8 1340.2,342.6"/>
<path class="c" stroke="#002060" stroke-width="8.0" d="M926.9,333L927.8,332.9 928.6,332.7 929.5,332.3 930.4,331.6 931.2,330.8 932.1,330.1 932.9,329.5 933.8,329.1 934.6,328.7 935.5,328.5 936.3,328.3 937.2,328 938,327.7 938.9,327.3 939.7,326.7 940.6,326.1 941.4,325.3 942.3,324.5 943.1,323.7 944,322.9 944.8,322.4 945.7,321.9 946.5,321.5 947.4,320.9 948.2,320.2 949.1,319.2 949.9,318.3 950.8,317.3 951.6,316.2 952.5,315 953.3,313.7 954.2,312.3 955,310.8 955.9,309.2 956.7,307.6 957.6,306 958.4,304.4 959.3,302.8 960.1,301.3 961,299.7 961.8,298.2 962.7,296.6 963.5,295 964.4,293.3 965.2,291.6 966.1,289.7 966.9,287.8 967.8,285.7 968.6,283.7 969.5,281.7 970.3,279.9 971.2,278.2 972,276.6 972.9,275.2 973.7,273.7 974.6,272.3 975.4,270.7 976.3,269.1 977.1,267.5 978,266 978.8,264.6 979.7,263.2 980.5,261.8 981.4,260.3 982.2,258.8 983.1,257.1 983.9,255.6 984.8,254.2 985.6,252.9 986.5,251.8 987.3,250.9 988.2,250.1 989,249.4 989.9,248.8 990.7,248.3 991.6,247.8 992.4,247.4 993.3,247 994.1,246.6 995,246.1 995.8,245.5 996.7,244.7 997.5,243.8 998.4,242.9 999.2,242.2 1000.1,241.8 1000.9,241.5 1001.8,241.5 1002.6,241.8 1003.5,242.2 1004.3,242.5 1005.2,242.6 1006,242.5 1006.9,242.1 1007.7,241.7 1008.6,241.3 1009.4,241.1 1010.3,241 1011.1,241.2 1012,241.5 1012.8,241.9 1013.7,242.4 1014.5,243.1 1015.4,243.7 1016.2,244.5 1017.1,245.3 1017.9,246.1 1018.8,247.1 1019.6,248.1 1020.5,249.1 1021.3,250.1 1022.2,251 1023,251.9 1023.9,252.7 1024.7,253.6 1025.6,254.4 1026.4,255.2 1027.3,256.1 1028.1,256.9 1029,257.6 1029.8,258.3 1030.7,259.1 1031.5,260 1032.4,261 1033.2,262 1034.1,262.9 1034.9,263.9 1035.8,264.9 1036.6,266.1 1037.5,267.3 1038.3,268.5 1039.2,269.5 1040,270.3 1040.9,271.1 1041.7,271.8 1042.6,272.6 1043.4,273.3 1044.3,274.1 1045.1,274.9 1046,275.8 1046.8,276.8 1047.7,277.9 1048.5,279 1049.4,280 1050.2,280.8 1051.1,281.5 1051.9,282 1052.8,282.7 1053.6,283.4 1054.5,284.4 1055.3,285.4 1056.2,286.3 1057,287 1057.9,287.6 1058.7,288.1 1059.6,288.6 1060.4,289.3 1061.3,290.2 1062.1,291.1 1063,292.2 1063.8,293.2 1064.7,294.3 1065.5,295.4 1066.4,296.6 1067.2,297.8 1068.1,299.1 1068.9,300.5 1069.8,301.9 1070.6,303.2 1071.5,304.2 1072.3,305 1073.2,305.6 1074,306.1 1074.9,306.6 1075.7,307.1 1076.6,307.5 1077.4,307.7 1078.3,307.7 1079.1,307.6 1080,307.5 1080.8,307.6 1081.7,307.9 1082.5,308.3 1083.4,308.8 1084.2,309.3 1085.1,309.8 1085.9,310.4 1086.8,311 1087.6,311.5 1088.5,311.9 1089.3,312.1 1090.2,312.3 1091,312.7 1091.9,313.4 1092.7,314.3 1093.6,315.3 1094.4,316.1 1095.3,316.6 1096.1,316.7 1097,316.7 1097.8,316.6 1098.7,316.6 1099.5,316.8 1100.4,317.1 1101.2,317.4 1102.1,317.5 1102.9,317.5 1103.8,317.4 1104.6,317.3 1105.5,317.4 1106.3,317.7 1107.2,318 1108,318.3 1108.9,318.4 1109.7,318.4 1110.6,318.5 1111.4,318.6 1112.3,318.8 1113.1,319.1 1114,319.2 1114.8,319.3 1115.7,319.2 1116.5,319.2 1117.4,319.3 1118.2,319.6 1119.1,320 1119.9,320.3 1120.8,320.4 1121.6,320.3 1122.5,320 1123.3,319.7 1124.2,319.5 1125,319.6 1125.9,319.9 1126.7,320.2 1127.6,320.5 1128.4,320.7 1129.3,320.8 1130.1,320.9 1131,320.9 1131.8,320.8 1132.7,320.8 1133.5,320.8 1134.4,320.9 1135.3,321.1 1136.1,321.5 1137,321.8 1137.8,322.2 1138.7,322.5 1139.5,322.7 1140.4,322.9 1141.2,322.9 1142.1,322.9 1142.9,322.8 1143.8,322.6 1144.6,322.4 1145.5,322.2 1146.3,322.2 1147.2,322.2 1148,322.4 1148.9,322.5 1149.7,322.7 1150.6,322.9 1151.4,323.1 1152.3,323.3 1153.1,323.6 1154,323.8 1154.8,323.9 1155.7,323.9 1156.5,323.7 1157.4,323.5 1158.2,323.3 1159.1,323.3 1159.9,323.4 1160.8,323.6 1161.6,323.8 1162.5,324 1163.3,324.2 1164.2,324.4 1165,324.5 1165.9,324.6 1166.7,324.7 1167.6,324.5 1168.4,324.2 1169.3,323.8 1170.1,323.3 1171,322.9 1171.8,322.8 1172.7,323.1 1173.5,323.6 1174.4,324.4 1175.2,325.1 1176.1,325.6 1176.9,325.9 1177.8,325.9 1178.6,325.9 1179.5,325.9 1180.3,326.1 1181.2,326.4 1182,326.8 1182.9,327.2 1183.7,327.6 1184.6,327.8 1185.4,327.7 1186.3,327.5 1187.1,327.4 1188,327.4 1188.8,327.6 1189.7,328 1190.5,328.3 1191.4,328.6 1192.2,328.9 1193.1,329.1 1193.9,329.3 1194.8,329.5 1195.6,329.7 1196.5,330 1197.3,330.3 1198.2,330.7 1199,331.1 1199.9,331.6 1200.7,331.9 1201.6,332 1202.4,331.8 1203.3,331.5 1204.1,331.1 1205,330.7 1205.8,330.6 1206.7,330.6 1207.5,330.7 1208.4,331 1209.2,331.3 1210.1,331.7 1210.9,332.2 1211.8,332.5 1212.6,332.7 1213.5,332.8 1214.3,332.9 1215.2,333.1 1216,333.3 1216.9,333.5 1217.7,333.5 1218.6,333.5 1219.4,333.3 1220.3,333.2 1221.1,333.3 1222,333.4 1222.8,333.5 1223.7,333.6 1224.5,333.7 1225.4,333.7 1226.2,333.7 1227.1,333.5 1227.9,333.4 1228.8,333.3 1229.6,333.3 1230.5,333.6 1231.3,334 1232.2,334.5 1233,334.9 1233.9,335.5 1234.7,336.1 1235.6,336.8 1236.4,337.5 1237.3,338 1238.1,338.4 1239,338.7 1239.8,339.1 1240.7,339.4 1241.5,339.7 1242.4,339.9 1243.2,339.8 1244.1,339.7 1244.9,339.5 1245.8,339.4 1246.6,339.5 1247.5,339.5 1248.3,339.6 1249.2,339.7 1250,339.8 1250.9,340 1251.7,340.3 1252.6,340.7 1253.4,341.2 1254.3,341.6 1255.1,341.9 1256,342 1256.8,342 1257.7,341.9 1258.5,341.8 1259.4,341.7 1260.2,341.8 1261.1,342 1261.9,342.4 1262.8,342.9 1263.6,343.4 1264.5,343.8 1265.3,343.9 1266.2,343.9 1267,343.7 1267.9,343.6 1268.7,343.4 1269.6,343.3 1270.4,343.1 1271.3,342.9 1272.1,342.6 1273,342.2 1273.8,341.8 1274.7,341.3 1275.5,340.8 1276.4,340.3 1277.2,339.9 1278.1,339.6 1278.9,339.5 1279.8,339.6 1280.6,339.7 1281.5,340 1282.3,340.1 1283.2,340.4 1284,340.6 1284.9,341 1285.7,341.5 1286.6,341.8 1287.4,342 1288.3,342 1289.1,341.9 1290,341.7 1290.8,341.5 1291.7,341.3 1292.5,341.2 1293.4,341.2 1294.2,341.2 1295.1,341.3 1295.9,341.4 1296.8,341.6 1297.6,341.7 1298.5,341.7 1299.3,341.6 1300.2,341.3 1301,341 1301.9,340.9 1302.7,341.1 1303.6,341.5 1304.4,341.9 1305.3,342.2 1306.1,342.4 1307,342.3 1307.8,342.1 1308.7,341.7 1309.5,341.4 1310.4,341 1311.2,340.8 1312.1,340.8 1312.9,340.8 1313.8,340.9 1314.6,341 1315.5,341 1316.3,341.1 1317.2,341.2 1318,341.4 1318.9,341.6 1319.7,341.9 1320.6,342.1 1321.4,342.3 1322.3,342.4 1323.1,342.4 1324,342.4 1324.8,342.4 1325.7,342.4 1326.5,342.4 1327.4,342.3 1328.2,342.2 1329.1,342.1 1329.9,342.1 1330.8,342.2 1331.6,342.4 1332.5,342.6 1333.3,342.8 1334.2,342.7 1335,342.5 1335.9,342.1 1336.7,341.8 1337.6,341.5 1338.5,341.3 1339.3,341.2 1340.2,341.2"/>
</g>
<path d="M1362.7 90.7H1412.1" stroke="#C00000" stroke-width="7.5" stroke-linecap="round" fill="none"/>
<text class="lg" x="1417.5" y="101.1">pH3</text>
<path d="M1362.7 137.8H1412.1" stroke="#FFC000" stroke-width="7.5" stroke-linecap="round" fill="none"/>
<text class="lg" x="1417.5" y="148.2">pH5</text>
<path d="M1362.7 184.9H1412.1" stroke="#92D050" stroke-width="7.5" stroke-linecap="round" fill="none"/>
<text class="lg" x="1417.5" y="195.3">pH7</text>
<path d="M1362.7 232H1412.1" stroke="#00B0F0" stroke-width="7.5" stroke-linecap="round" fill="none"/>
<text class="lg" x="1417.5" y="242.4">pH9</text>
<path d="M1362.7 279.1H1412.1" stroke="#002060" stroke-width="7.5" stroke-linecap="round" fill="none"/>
<text class="lg" x="1417.5" y="289.5">pH12</text>
</g>
<g id="p3">
<rect class="ax" x="142.8" y="494.3" width="463.7" height="317" stroke-width="7" stroke-linejoin="round"/>
<path class="ax" stroke-width="6" d="M133.1 811.3H142.8M133.1 758.5H142.8M133.1 705.6H142.8M133.1 652.8H142.8M133.1 600H142.8M133.1 547.1H142.8M133.1 494.3H142.8M142.8 811.3V820.5M275.3 811.3V820.5M407.8 811.3V820.5M540.3 811.3V820.5"/>
<text class="tk" x="114.8" y="821.1" text-anchor="end">0</text>
<text class="tk" x="114.8" y="768.3" text-anchor="end">0.02</text>
<text class="tk" x="114.8" y="715.4" text-anchor="end">0.04</text>
<text class="tk" x="114.8" y="662.6" text-anchor="end">0.06</text>
<text class="tk" x="114.8" y="609.8" text-anchor="end">0.08</text>
<text class="tk" x="114.8" y="556.9" text-anchor="end">0.1</text>
<text class="tk" x="114.8" y="504.1" text-anchor="end">0.12</text>
<text class="tk" x="142.8" y="857.5" text-anchor="middle">500</text>
<text class="tk" x="275.3" y="857.5" text-anchor="middle">600</text>
<text class="tk" x="407.8" y="857.5" text-anchor="middle">700</text>
<text class="tk" x="540.3" y="857.5" text-anchor="middle">800</text>
<text class="ti" x="374.6" y="906.8" text-anchor="middle">Wavelength (nm)</text>
<text class="ti" transform="translate(34.4 859) rotate(-90)">Absorbance Intensity</text>
<text x="164.4" y="529.9" style="font-size:31px">IR794-Morph</text>
<clipPath id="clip_p3"><rect x="141.3" y="494.3" width="467.5" height="318.8"/></clipPath>
<g clip-path="url(#clip_p3)">
<path class="c" stroke="#C00000" stroke-width="7.5" d="M140.8,809.8L142.1,809.8 143.5,809.8 144.8,809.8 146.1,809.8 147.4,809.8 148.8,809.7 150.1,809.7 151.4,809.7 152.7,809.6 154.1,809.5 155.4,809.5 156.7,809.4 158,809.3 159.4,809.2 160.7,809.1 162,809 163.3,808.9 164.7,808.8 166,808.6 167.3,808.5 168.6,808.4 170,808.2 171.3,808.1 172.6,808 173.9,807.8 175.3,807.7 176.6,807.5 177.9,807.4 179.2,807.2 180.6,807.1 181.9,806.9 183.2,806.7 184.5,806.6 185.9,806.4 187.2,806.2 188.5,806.1 189.8,805.9 191.2,805.8 192.5,805.6 193.8,805.4 195.1,805.3 196.5,805.1 197.8,804.9 199.1,804.8 200.4,804.6 201.8,804.5 203.1,804.3 204.4,804.1 205.7,804 207.1,803.8 208.4,803.6 209.7,803.4 211,803.2 212.4,803 213.7,802.8 215,802.6 216.3,802.4 217.7,802.2 219,802 220.3,801.7 221.6,801.5 223,801.3 224.3,801.1 225.6,800.9 226.9,800.6 228.3,800.4 229.6,800.2 230.9,799.9 232.2,799.7 233.6,799.5 234.9,799.3 236.2,799 237.5,798.8 238.9,798.6 240.2,798.4 241.5,798.1 242.8,797.9 244.2,797.6 245.5,797.4 246.8,797.2 248.1,796.9 249.5,796.7 250.8,796.4 252.1,796.1 253.4,795.9 254.8,795.6 256.1,795.3 257.4,795 258.7,794.7 260,794.4 261.4,794.1 262.7,793.7 264,793.4 265.3,793.1 266.7,792.7 268,792.4 269.3,792 270.6,791.6 272,791.2 273.3,790.8 274.6,790.4 275.9,790 277.3,789.6 278.6,789.2 279.9,788.7 281.2,788.2 282.6,787.8 283.9,787.3 285.2,786.8 286.5,786.3 287.9,785.7 289.2,785.2 290.5,784.7 291.8,784.1 293.2,783.5 294.5,782.9 295.8,782.3 297.1,781.7 298.5,781.1 299.8,780.4 301.1,779.8 302.4,779.1 303.8,778.5 305.1,777.8 306.4,777.2 307.7,776.5 309.1,775.8 310.4,775.2 311.7,774.5 313,773.8 314.4,773.2 315.7,772.5 317,771.8 318.3,771.1 319.7,770.4 321,769.7 322.3,769 323.6,768.3 325,767.6 326.3,766.9 327.6,766.2 328.9,765.5 330.3,764.8 331.6,764.1 332.9,763.4 334.2,762.7 335.6,762 336.9,761.3 338.2,760.6 339.5,759.8 340.9,759.1 342.2,758.4 343.5,757.6 344.8,756.8 346.2,756 347.5,755.2 348.8,754.3 350.1,753.5 351.5,752.6 352.8,751.7 354.1,750.8 355.4,749.9 356.8,749 358.1,748 359.4,747.1 360.7,746.1 362.1,745.1 363.4,744.1 364.7,743 366,742 367.4,740.9 368.7,739.8 370,738.6 371.3,737.4 372.7,736.3 374,735.1 375.3,733.8 376.6,732.6 378,731.4 379.3,730.1 380.6,728.9 381.9,727.6 383.3,726.3 384.6,725 385.9,723.7 387.2,722.3 388.6,720.9 389.9,719.5 391.2,718.1 392.5,716.7 393.9,715.3 395.2,713.9 396.5,712.6 397.8,711.3 399.2,710.1 400.5,708.9 401.8,707.8 403.1,706.7 404.5,705.7 405.8,704.7 407.1,703.7 408.4,702.7 409.8,701.8 411.1,701 412.4,700.2 413.7,699.4 415.1,698.8 416.4,698.2 417.7,697.7 419,697.3 420.4,696.9 421.7,696.6 423,696.2 424.3,695.9 425.7,695.5 427,695.1 428.3,694.7 429.6,694.2 431,693.6 432.3,692.9 433.6,692.2 434.9,691.4 436.3,690.6 437.6,689.7 438.9,688.8 440.2,687.9 441.6,687 442.9,686 444.2,685 445.5,683.9 446.9,682.7 448.2,681.3 449.5,679.7 450.8,678 452.2,676.1 453.5,674.1 454.8,671.9 456.1,669.6 457.5,667.3 458.8,664.9 460.1,662.5 461.4,659.9 462.8,657.1 464.1,654.3 465.4,651.3 466.7,648.2 468.1,645 469.4,641.6 470.7,638.1 472,634.2 473.4,630.2 474.7,626.1 476,621.8 477.3,617.5 478.7,613.2 480,608.9 481.3,604.8 482.6,600.6 484,596.5 485.3,592.4 486.6,588.3 487.9,584.2 489.3,580.1 490.6,575.9 491.9,571.8 493.2,567.6 494.5,563.4 495.9,559.4 497.2,555.9 498.5,552.8 499.8,550 501.2,547.5 502.5,545.7 503.8,544.6 505.1,544.5 506.5,545.4 507.8,547 509.1,549.2 510.4,552 511.8,555.7 513.1,560.6 514.4,566.7 515.7,573.5 517.1,580.7 518.4,588 519.7,595.5 521,603.3 522.4,611.4 523.7,619.8 525,628.5 526.3,637.5 527.7,646.7 529,656 530.3,665.2 531.6,674.1 533,682.9 534.3,691.5 535.6,699.9 536.9,707.8 538.3,715.4 539.6,722.7 540.9,729.6 542.2,736 543.6,741.9 544.9,747.2 546.2,752 547.5,756.5 548.9,760.6 550.2,764.5 551.5,768.1 552.8,771.5 554.2,774.6 555.5,777.5 556.8,780 558.1,782.2 559.5,784.2 560.8,786 562.1,787.7 563.4,789.2 564.8,790.6 566.1,791.9 567.4,793.1 568.7,794.2 570.1,795.2 571.4,796.1 572.7,797 574,797.8 575.4,798.6 576.7,799.2 578,799.8 579.3,800.3 580.7,800.8 582,801.2 583.3,801.6 584.6,802 586,802.3 587.3,802.7 588.6,803 589.9,803.3 591.3,803.6 592.6,803.8 593.9,804.1 595.2,804.3 596.6,804.6 597.9,804.8 599.2,805 600.5,805.2 601.9,805.4 603.2,805.5 604.5,805.7 605.8,805.8 607.2,806 608.5,806.1"/>
<path class="c" stroke="#FFC000" stroke-width="7.5" d="M140.8,811.3L142.1,811.3 143.5,811.3 144.8,811.3 146.1,811.3 147.4,811.2 148.8,811.2 150.1,811.1 151.4,811.1 152.7,811 154.1,811 155.4,810.9 156.7,810.8 158,810.7 159.4,810.6 160.7,810.5 162,810.4 163.3,810.3 164.7,810.1 166,810 167.3,809.9 168.6,809.7 170,809.6 171.3,809.4 172.6,809.3 173.9,809.1 175.3,809 176.6,808.8 177.9,808.7 179.2,808.5 180.6,808.3 181.9,808.2 183.2,808 184.5,807.8 185.9,807.7 187.2,807.5 188.5,807.3 189.8,807.2 191.2,807 192.5,806.8 193.8,806.7 195.1,806.5 196.5,806.3 197.8,806.2 199.1,806 200.4,805.9 201.8,805.7 203.1,805.6 204.4,805.4 205.7,805.2 207.1,805 208.4,804.9 209.7,804.7 211,804.5 212.4,804.3 213.7,804.1 215,803.9 216.3,803.7 217.7,803.5 219,803.4 220.3,803.2 221.6,803 223,802.8 224.3,802.6 225.6,802.3 226.9,802.1 228.3,801.9 229.6,801.7 230.9,801.5 232.2,801.3 233.6,801.1 234.9,800.9 236.2,800.7 237.5,800.5 238.9,800.3 240.2,800.2 241.5,800 242.8,799.8 244.2,799.6 245.5,799.4 246.8,799.2 248.1,799 249.5,798.7 250.8,798.5 252.1,798.3 253.4,798.1 254.8,797.9 256.1,797.6 257.4,797.4 258.7,797.1 260,796.9 261.4,796.6 262.7,796.4 264,796.1 265.3,795.8 266.7,795.5 268,795.2 269.3,794.9 270.6,794.6 272,794.3 273.3,794 274.6,793.7 275.9,793.3 277.3,793 278.6,792.6 279.9,792.2 281.2,791.8 282.6,791.5 283.9,791.1 285.2,790.6 286.5,790.2 287.9,789.8 289.2,789.3 290.5,788.9 291.8,788.4 293.2,787.9 294.5,787.4 295.8,786.9 297.1,786.3 298.5,785.8 299.8,785.2 301.1,784.6 302.4,784.1 303.8,783.5 305.1,782.9 306.4,782.3 307.7,781.7 309.1,781.1 310.4,780.5 311.7,779.9 313,779.3 314.4,778.7 315.7,778 317,777.4 318.3,776.7 319.7,776.1 321,775.5 322.3,774.8 323.6,774.2 325,773.5 326.3,772.9 327.6,772.3 328.9,771.6 330.3,771 331.6,770.4 332.9,769.8 334.2,769.2 335.6,768.6 336.9,768 338.2,767.4 339.5,766.7 340.9,766.1 342.2,765.5 343.5,764.8 344.8,764.1 346.2,763.4 347.5,762.7 348.8,762 350.1,761.3 351.5,760.5 352.8,759.8 354.1,759 355.4,758.2 356.8,757.4 358.1,756.6 359.4,755.7 360.7,754.9 362.1,754 363.4,753.1 364.7,752.2 366,751.3 367.4,750.4 368.7,749.4 370,748.3 371.3,747.3 372.7,746.3 374,745.2 375.3,744.1 376.6,743 378,741.9 379.3,740.8 380.6,739.7 381.9,738.6 383.3,737.5 384.6,736.3 385.9,735.2 387.2,734 388.6,732.8 389.9,731.6 391.2,730.3 392.5,729.1 393.9,727.9 395.2,726.7 396.5,725.6 397.8,724.5 399.2,723.5 400.5,722.6 401.8,721.7 403.1,720.8 404.5,720 405.8,719.3 407.1,718.5 408.4,717.8 409.8,717.1 411.1,716.5 412.4,715.9 413.7,715.4 415.1,714.9 416.4,714.5 417.7,714.2 419,713.9 420.4,713.6 421.7,713.4 423,713.1 424.3,712.9 425.7,712.6 427,712.3 428.3,712 429.6,711.6 431,711.1 432.3,710.5 433.6,709.8 434.9,709 436.3,708.2 437.6,707.4 438.9,706.6 440.2,705.8 441.6,704.9 442.9,704 444.2,703 445.5,702 446.9,700.8 448.2,699.5 449.5,698.1 450.8,696.5 452.2,694.8 453.5,692.9 454.8,690.9 456.1,688.8 457.5,686.7 458.8,684.4 460.1,682.1 461.4,679.6 462.8,677.1 464.1,674.4 465.4,671.5 466.7,668.6 468.1,665.5 469.4,662.4 470.7,659 472,655.4 473.4,651.6 474.7,647.7 476,643.7 477.3,639.7 478.7,635.8 480,631.9 481.3,628.1 482.6,624.3 484,620.6 485.3,616.9 486.6,613.2 487.9,609.5 489.3,605.9 490.6,602.3 491.9,598.7 493.2,595.1 494.5,591.6 495.9,588.4 497.2,585.5 498.5,583.1 499.8,581.1 501.2,579.3 502.5,577.9 503.8,577 505.1,576.6 506.5,576.9 507.8,577.8 509.1,579.2 510.4,581.1 511.8,583.4 513.1,586.4 514.4,590.4 515.7,595.5 517.1,601.2 518.4,607.4 519.7,613.8 521,620.6 522.4,627.8 523.7,635.3 525,643.1 526.3,651.3 527.7,659.8 529,668.5 530.3,677.3 531.6,686.2 533,695 534.3,703.8 535.6,712.5 536.9,720.8 538.3,728.4 539.6,735.4 540.9,741.9 542.2,747.8 543.6,753.3 544.9,758.3 546.2,762.9 547.5,767.2 548.9,771.2 550.2,774.8 551.5,778.2 552.8,781.4 554.2,784.3 555.5,787 556.8,789.4 558.1,791.6 559.5,793.4 560.8,795.1 562.1,796.6 563.4,798 564.8,799.2 566.1,800.2 567.4,801.1 568.7,801.8 570.1,802.4 571.4,803 572.7,803.4 574,803.9 575.4,804.3 576.7,804.6 578,804.9 579.3,805.1 580.7,805.3 582,805.5 583.3,805.7 584.6,805.9 586,806 587.3,806.2 588.6,806.3 589.9,806.5 591.3,806.6 592.6,806.7 593.9,806.8 595.2,806.9 596.6,807.1 597.9,807.2 599.2,807.3 600.5,807.4 601.9,807.5 603.2,807.6 604.5,807.7 605.8,807.8 607.2,807.9 608.5,808"/>
<path class="c" stroke="#92D050" stroke-width="7.5" d="M140.8,811.3L142.1,811.3 143.5,811.3 144.8,811.3 146.1,811.3 147.4,811.2 148.8,811.2 150.1,811.2 151.4,811.1 152.7,811.1 154.1,811 155.4,810.9 156.7,810.9 158,810.8 159.4,810.7 160.7,810.6 162,810.5 163.3,810.4 164.7,810.3 166,810.2 167.3,810.1 168.6,810 170,809.8 171.3,809.7 172.6,809.6 173.9,809.4 175.3,809.3 176.6,809.2 177.9,809 179.2,808.9 180.6,808.7 181.9,808.6 183.2,808.5 184.5,808.3 185.9,808.2 187.2,808 188.5,807.9 189.8,807.7 191.2,807.6 192.5,807.4 193.8,807.3 195.1,807.1 196.5,807 197.8,806.8 199.1,806.7 200.4,806.6 201.8,806.4 203.1,806.3 204.4,806.1 205.7,806 207.1,805.8 208.4,805.6 209.7,805.5 211,805.3 212.4,805.1 213.7,804.9 215,804.7 216.3,804.6 217.7,804.4 219,804.2 220.3,804 221.6,803.8 223,803.6 224.3,803.4 225.6,803.2 226.9,803 228.3,802.8 229.6,802.6 230.9,802.4 232.2,802.2 233.6,802 234.9,801.8 236.2,801.6 237.5,801.5 238.9,801.3 240.2,801.1 241.5,800.9 242.8,800.7 244.2,800.5 245.5,800.3 246.8,800.1 248.1,799.9 249.5,799.7 250.8,799.5 252.1,799.3 253.4,799.1 254.8,798.8 256.1,798.6 257.4,798.4 258.7,798.1 260,797.9 261.4,797.6 262.7,797.4 264,797.1 265.3,796.8 266.7,796.5 268,796.3 269.3,796 270.6,795.7 272,795.4 273.3,795 274.6,794.7 275.9,794.4 277.3,794 278.6,793.6 279.9,793.3 281.2,792.9 282.6,792.5 283.9,792.1 285.2,791.6 286.5,791.2 287.9,790.8 289.2,790.3 290.5,789.8 291.8,789.4 293.2,788.9 294.5,788.3 295.8,787.8 297.1,787.3 298.5,786.7 299.8,786.1 301.1,785.6 302.4,785 303.8,784.4 305.1,783.8 306.4,783.2 307.7,782.6 309.1,782 310.4,781.4 311.7,780.8 313,780.2 314.4,779.5 315.7,778.9 317,778.2 318.3,777.6 319.7,777 321,776.3 322.3,775.7 323.6,775 325,774.4 326.3,773.7 327.6,773.1 328.9,772.4 330.3,771.8 331.6,771.2 332.9,770.5 334.2,769.9 335.6,769.3 336.9,768.6 338.2,768 339.5,767.4 340.9,766.7 342.2,766 343.5,765.3 344.8,764.6 346.2,763.9 347.5,763.2 348.8,762.4 350.1,761.7 351.5,760.9 352.8,760.1 354.1,759.3 355.4,758.5 356.8,757.7 358.1,756.9 359.4,756 360.7,755.1 362.1,754.3 363.4,753.4 364.7,752.4 366,751.5 367.4,750.5 368.7,749.5 370,748.4 371.3,747.4 372.7,746.3 374,745.2 375.3,744.1 376.6,743 378,741.9 379.3,740.7 380.6,739.6 381.9,738.5 383.3,737.3 384.6,736.2 385.9,735 387.2,733.8 388.6,732.5 389.9,731.3 391.2,730 392.5,728.8 393.9,727.6 395.2,726.4 396.5,725.2 397.8,724.1 399.2,723.1 400.5,722.1 401.8,721.2 403.1,720.4 404.5,719.6 405.8,718.8 407.1,718.1 408.4,717.4 409.8,716.7 411.1,716.1 412.4,715.6 413.7,715.1 415.1,714.6 416.4,714.2 417.7,713.9 419,713.6 420.4,713.4 421.7,713.2 423,713 424.3,712.8 425.7,712.6 427,712.3 428.3,712 429.6,711.6 431,711.2 432.3,710.6 433.6,710 434.9,709.3 436.3,708.5 437.6,707.7 438.9,706.9 440.2,706.1 441.6,705.3 442.9,704.4 444.2,703.5 445.5,702.5 446.9,701.4 448.2,700.1 449.5,698.7 450.8,697.2 452.2,695.4 453.5,693.6 454.8,691.6 456.1,689.6 457.5,687.5 458.8,685.3 460.1,683 461.4,680.6 462.8,678 464.1,675.4 465.4,672.6 466.7,669.7 468.1,666.7 469.4,663.5 470.7,660.2 472,656.6 473.4,652.9 474.7,649 476,645.1 477.3,641.1 478.7,637.2 480,633.3 481.3,629.6 482.6,625.8 484,622.1 485.3,618.4 486.6,614.8 487.9,611.2 489.3,607.6 490.6,604.1 491.9,600.5 493.2,596.9 494.5,593.5 495.9,590.2 497.2,587.4 498.5,585.1 499.8,583.1 501.2,581.3 502.5,579.9 503.8,579 505.1,578.6 506.5,578.9 507.8,579.7 509.1,581 510.4,582.8 511.8,585 513.1,587.8 514.4,591.7 515.7,596.6 517.1,602.3 518.4,608.3 519.7,614.6 521,621.3 522.4,628.4 523.7,635.8 525,643.6 526.3,651.6 527.7,660.1 529,668.8 530.3,677.6 531.6,686.4 533,695.3 534.3,704.1 535.6,712.7 536.9,721 538.3,728.6 539.6,735.7 540.9,742.1 542.2,748 543.6,753.5 544.9,758.5 546.2,763.1 547.5,767.4 548.9,771.4 550.2,775 551.5,778.4 552.8,781.5 554.2,784.5 555.5,787.2 556.8,789.6 558.1,791.7 559.5,793.6 560.8,795.2 562.1,796.7 563.4,798.1 564.8,799.3 566.1,800.4 567.4,801.2 568.7,801.9 570.1,802.5 571.4,803.1 572.7,803.6 574,804 575.4,804.4 576.7,804.7 578,805 579.3,805.2 580.7,805.4 582,805.6 583.3,805.8 584.6,806 586,806.1 587.3,806.3 588.6,806.4 589.9,806.5 591.3,806.6 592.6,806.8 593.9,806.9 595.2,807 596.6,807.1 597.9,807.2 599.2,807.3 600.5,807.4 601.9,807.5 603.2,807.6 604.5,807.7 605.8,807.8 607.2,807.9 608.5,808"/>
<path class="c" stroke="#00B0F0" stroke-width="7.5" d="M140.8,812.9L142.1,812.9 143.5,812.9 144.8,812.9 146.1,812.9 147.4,812.8 148.8,812.8 150.1,812.8 151.4,812.7 152.7,812.7 154.1,812.6 155.4,812.6 156.7,812.5 158,812.4 159.4,812.4 160.7,812.3 162,812.2 163.3,812.1 164.7,812 166,811.9 167.3,811.8 168.6,811.7 170,811.6 171.3,811.5 172.6,811.4 173.9,811.3 175.3,811.1 176.6,811 177.9,810.9 179.2,810.8 180.6,810.6 181.9,810.5 183.2,810.4 184.5,810.2 185.9,810.1 187.2,810 188.5,809.8 189.8,809.7 191.2,809.5 192.5,809.4 193.8,809.3 195.1,809.1 196.5,809 197.8,808.9 199.1,808.7 200.4,808.6 201.8,808.5 203.1,808.3 204.4,808.2 205.7,808 207.1,807.8 208.4,807.7 209.7,807.5 211,807.3 212.4,807.1 213.7,807 215,806.8 216.3,806.6 217.7,806.4 219,806.2 220.3,806 221.6,805.8 223,805.6 224.3,805.4 225.6,805.2 226.9,805 228.3,804.8 229.6,804.6 230.9,804.3 232.2,804.1 233.6,803.9 234.9,803.7 236.2,803.5 237.5,803.3 238.9,803.1 240.2,802.9 241.5,802.7 242.8,802.5 244.2,802.3 245.5,802.1 246.8,801.9 248.1,801.7 249.5,801.5 250.8,801.3 252.1,801.1 253.4,800.8 254.8,800.6 256.1,800.3 257.4,800.1 258.7,799.8 260,799.6 261.4,799.3 262.7,799.1 264,798.8 265.3,798.5 266.7,798.2 268,797.9 269.3,797.6 270.6,797.3 272,797 273.3,796.6 274.6,796.3 275.9,795.9 277.3,795.6 278.6,795.2 279.9,794.8 281.2,794.4 282.6,794 283.9,793.6 285.2,793.1 286.5,792.7 287.9,792.2 289.2,791.8 290.5,791.3 291.8,790.8 293.2,790.3 294.5,789.7 295.8,789.2 297.1,788.6 298.5,788.1 299.8,787.5 301.1,786.9 302.4,786.3 303.8,785.7 305.1,785.1 306.4,784.5 307.7,783.9 309.1,783.2 310.4,782.6 311.7,782 313,781.4 314.4,780.7 315.7,780.1 317,779.4 318.3,778.8 319.7,778.1 321,777.5 322.3,776.8 323.6,776.1 325,775.5 326.3,774.8 327.6,774.1 328.9,773.4 330.3,772.8 331.6,772.1 332.9,771.4 334.2,770.8 335.6,770.1 336.9,769.4 338.2,768.7 339.5,768 340.9,767.3 342.2,766.6 343.5,765.9 344.8,765.1 346.2,764.4 347.5,763.6 348.8,762.8 350.1,762 351.5,761.2 352.8,760.4 354.1,759.5 355.4,758.7 356.8,757.8 358.1,756.9 359.4,756 360.7,755.1 362.1,754.2 363.4,753.2 364.7,752.3 366,751.3 367.4,750.2 368.7,749.2 370,748.1 371.3,747 372.7,745.9 374,744.7 375.3,743.6 376.6,742.4 378,741.3 379.3,740.1 380.6,738.9 381.9,737.8 383.3,736.6 384.6,735.4 385.9,734.2 387.2,732.9 388.6,731.6 389.9,730.3 391.2,729 392.5,727.7 393.9,726.5 395.2,725.2 396.5,724 397.8,722.9 399.2,721.8 400.5,720.8 401.8,719.9 403.1,719 404.5,718.1 405.8,717.3 407.1,716.5 408.4,715.8 409.8,715 411.1,714.4 412.4,713.8 413.7,713.2 415.1,712.7 416.4,712.2 417.7,711.9 419,711.5 420.4,711.2 421.7,711 423,710.7 424.3,710.4 425.7,710.2 427,709.8 428.3,709.5 429.6,709 431,708.5 432.3,707.9 433.6,707.2 434.9,706.4 436.3,705.6 437.6,704.7 438.9,703.9 440.2,703 441.6,702.1 442.9,701.2 444.2,700.2 445.5,699.2 446.9,698 448.2,696.7 449.5,695.2 450.8,693.6 452.2,691.8 453.5,689.9 454.8,687.9 456.1,685.8 457.5,683.6 458.8,681.3 460.1,679 461.4,676.5 462.8,673.9 464.1,671.2 465.4,668.3 466.7,665.4 468.1,662.3 469.4,659.1 470.7,655.7 472,652.1 473.4,648.3 474.7,644.3 476,640.3 477.3,636.3 478.7,632.3 480,628.4 481.3,624.6 482.6,620.8 484,617 485.3,613.3 486.6,609.5 487.9,605.9 489.3,602.2 490.6,598.6 491.9,595 493.2,591.4 494.5,587.8 495.9,584.5 497.2,581.7 498.5,579.3 499.8,577.3 501.2,575.5 502.5,574 503.8,573.1 505.1,572.8 506.5,573.1 507.8,574.2 509.1,575.7 510.4,577.8 511.8,580.4 513.1,583.6 514.4,587.8 515.7,593 517.1,598.9 518.4,605.2 519.7,611.8 521,618.8 522.4,626.1 523.7,633.8 525,641.8 526.3,650.1 527.7,658.6 529,667.4 530.3,676.3 531.6,685.2 533,694 534.3,702.9 535.6,711.5 536.9,719.8 538.3,727.5 539.6,734.5 540.9,741 542.2,746.9 543.6,752.4 544.9,757.5 546.2,762.1 547.5,766.4 548.9,770.4 550.2,774.1 551.5,777.5 552.8,780.6 554.2,783.6 555.5,786.3 556.8,788.8 558.1,790.9 559.5,792.8 560.8,794.5 562.1,796 563.4,797.4 564.8,798.6 566.1,799.7 567.4,800.6 568.7,801.3 570.1,801.9 571.4,802.5 572.7,803 574,803.4 575.4,803.8 576.7,804.2 578,804.5 579.3,804.8 580.7,805 582,805.2 583.3,805.4 584.6,805.6 586,805.8 587.3,806 588.6,806.1 589.9,806.3 591.3,806.4 592.6,806.6 593.9,806.7 595.2,806.8 596.6,806.9 597.9,807.1 599.2,807.2 600.5,807.3 601.9,807.4 603.2,807.6 604.5,807.7 605.8,807.8 607.2,807.9 608.5,807.9"/>
<path class="c" stroke="#002060" stroke-width="7.5" d="M140.8,813.7L142.1,813.7 143.5,813.7 144.8,813.7 146.1,813.7 147.4,813.7 148.8,813.7 150.1,813.7 151.4,813.7 152.7,813.7 154.1,813.7 155.4,813.7 156.7,813.7 158,813.6 159.4,813.6 160.7,813.6 162,813.6 163.3,813.6 164.7,813.6 166,813.6 167.3,813.6 168.6,813.6 170,813.6 171.3,813.6 172.6,813.6 173.9,813.6 175.3,813.5 176.6,813.5 177.9,813.5 179.2,813.5 180.6,813.5 181.9,813.5 183.2,813.5 184.5,813.5 185.9,813.5 187.2,813.5 188.5,813.4 189.8,813.4 191.2,813.4 192.5,813.4 193.8,813.4 195.1,813.4 196.5,813.4 197.8,813.4 199.1,813.4 200.4,813.3 201.8,813.3 203.1,813.3 204.4,813.3 205.7,813.3 207.1,813.3 208.4,813.3 209.7,813.3 211,813.2 212.4,813.2 213.7,813.2 215,813.2 216.3,813.2 217.7,813.2 219,813.2 220.3,813.2 221.6,813.2 223,813.1 224.3,813.1 225.6,813.1 226.9,813.1 228.3,813.1 229.6,813.1 230.9,813.1 232.2,813.1 233.6,813.1 234.9,813.1 236.2,813 237.5,813 238.9,813 240.2,813 241.5,813 242.8,813 244.2,813 245.5,813 246.8,813 248.1,812.9 249.5,812.9 250.8,812.9 252.1,812.9 253.4,812.9 254.8,812.9 256.1,812.9 257.4,812.9 258.7,812.8 260,812.8 261.4,812.8 262.7,812.8 264,812.8 265.3,812.8 266.7,812.7 268,812.7 269.3,812.7 270.6,812.7 272,812.7 273.3,812.7 274.6,812.6 275.9,812.6 277.3,812.6 278.6,812.5 279.9,812.5 281.2,812.5 282.6,812.4 283.9,812.4 285.2,812.3 286.5,812.3 287.9,812.2 289.2,812.2 290.5,812.1 291.8,812.1 293.2,812 294.5,811.9 295.8,811.8 297.1,811.8 298.5,811.7 299.8,811.6 301.1,811.5 302.4,811.4 303.8,811.4 305.1,811.3 306.4,811.2 307.7,811.1 309.1,811 310.4,810.9 311.7,810.8 313,810.7 314.4,810.6 315.7,810.5 317,810.4 318.3,810.3 319.7,810.2 321,810.1 322.3,810 323.6,809.9 325,809.8 326.3,809.7 327.6,809.6 328.9,809.5 330.3,809.5 331.6,809.4 332.9,809.3 334.2,809.2 335.6,809.1 336.9,809 338.2,808.9 339.5,808.8 340.9,808.7 342.2,808.6 343.5,808.5 344.8,808.4 346.2,808.3 347.5,808.2 348.8,808.1 350.1,808 351.5,807.9 352.8,807.8 354.1,807.7 355.4,807.6 356.8,807.6 358.1,807.5 359.4,807.4 360.7,807.3 362.1,807.2 363.4,807.1 364.7,807 366,807 367.4,806.9 368.7,806.8 370,806.7 371.3,806.7 372.7,806.6 374,806.5 375.3,806.4 376.6,806.4 378,806.3 379.3,806.2 380.6,806.1 381.9,806.1 383.3,806 384.6,805.9 385.9,805.9 387.2,805.8 388.6,805.7 389.9,805.6 391.2,805.6 392.5,805.5 393.9,805.4 395.2,805.4 396.5,805.3 397.8,805.2 399.2,805.2 400.5,805.1 401.8,805 403.1,804.9 404.5,804.9 405.8,804.8 407.1,804.7 408.4,804.7 409.8,804.6 411.1,804.5 412.4,804.4 413.7,804.4 415.1,804.3 416.4,804.2 417.7,804.2 419,804.1 420.4,804 421.7,804 423,803.9 424.3,803.8 425.7,803.8 427,803.7 428.3,803.6 429.6,803.6 431,803.5 432.3,803.4 433.6,803.4 434.9,803.3 436.3,803.2 437.6,803.1 438.9,803.1 440.2,803 441.6,802.9 442.9,802.8 444.2,802.8 445.5,802.7 446.9,802.6 448.2,802.5 449.5,802.5 450.8,802.4 452.2,802.3 453.5,802.2 454.8,802.1 456.1,802 457.5,802 458.8,801.9 460.1,801.8 461.4,801.7 462.8,801.6 464.1,801.5 465.4,801.4 466.7,801.3 468.1,801.2 469.4,801.1 470.7,801 472,800.9 473.4,800.8 474.7,800.8 476,800.7 477.3,800.6 478.7,800.5 480,800.4 481.3,800.3 482.6,800.2 484,800.1 485.3,800 486.6,800 487.9,799.9 489.3,799.8 490.6,799.7 491.9,799.6 493.2,799.5 494.5,799.5 495.9,799.4 497.2,799.3 498.5,799.2 499.8,799.1 501.2,799 502.5,798.9 503.8,798.8 505.1,798.8 506.5,798.7 507.8,798.7 509.1,798.7 510.4,798.6 511.8,798.6 513.1,798.7 514.4,798.7 515.7,798.8 517.1,798.9 518.4,799.1 519.7,799.2 521,799.4 522.4,799.5 523.7,799.7 525,799.9 526.3,800.1 527.7,800.4 529,800.6 530.3,800.8 531.6,801 533,801.2 534.3,801.4 535.6,801.6 536.9,801.9 538.3,802.1 539.6,802.3 540.9,802.6 542.2,802.8 543.6,803.1 544.9,803.4 546.2,803.6 547.5,803.9 548.9,804.2 550.2,804.5 551.5,804.7 552.8,805 554.2,805.2 555.5,805.5 556.8,805.7 558.1,805.9 559.5,806.2 560.8,806.4 562.1,806.6 563.4,806.8 564.8,807 566.1,807.3 567.4,807.5 568.7,807.7 570.1,807.9 571.4,808.1 572.7,808.3 574,808.4 575.4,808.6 576.7,808.7 578,808.9 579.3,809 580.7,809.1 582,809.2 583.3,809.3 584.6,809.4 586,809.5 587.3,809.6 588.6,809.6 589.9,809.7 591.3,809.8 592.6,809.9 593.9,809.9 595.2,810 596.6,810.1 597.9,810.1 599.2,810.2 600.5,810.2 601.9,810.3 603.2,810.3 604.5,810.4 605.8,810.4 607.2,810.4 608.5,810.5"/>
</g>
<path d="M616.3 552.8H665.3" stroke="#C00000" stroke-width="7.5" stroke-linecap="round" fill="none"/>
<text class="lg" x="671.4" y="563.2">pH3</text>
<path d="M616.3 603H665.3" stroke="#FFC000" stroke-width="7.5" stroke-linecap="round" fill="none"/>
<text class="lg" x="671.4" y="613.4">pH5</text>
<path d="M616.3 653.3H665.3" stroke="#92D050" stroke-width="7.5" stroke-linecap="round" fill="none"/>
<text class="lg" x="671.4" y="663.7">pH7</text>
<path d="M616.3 703.5H665.3" stroke="#00B0F0" stroke-width="7.5" stroke-linecap="round" fill="none"/>
<text class="lg" x="671.4" y="713.9">pH9</text>
<path d="M616.3 753.8H665.3" stroke="#002060" stroke-width="7.5" stroke-linecap="round" fill="none"/>
<text class="lg" x="671.4" y="764.2">pH12</text>
</g>
<g id="p4">
<rect class="ax" x="929.7" y="500.8" width="409" height="313.2" stroke-width="7" stroke-linejoin="round"/>
<path class="ax" stroke-width="6" d="M920 814H929.7M920 735.7H929.7M920 657.4H929.7M920 579.1H929.7M920 500.8H929.7M929.7 814V823.2M1014.9 814V823.2M1100.1 814V823.2M1185.3 814V823.2M1270.5 814V823.2"/>
<text class="tk" x="903" y="823.8" text-anchor="end">0</text>
<text class="tk" x="903" y="745.5" text-anchor="end">2</text>
<text class="tk" x="903" y="667.2" text-anchor="end">4</text>
<text class="tk" x="903" y="588.9" text-anchor="end">6</text>
<text class="tk" x="903" y="510.6" text-anchor="end">8</text>
<text class="tk" x="929.7" y="860.3" text-anchor="middle">760</text>
<text class="tk" x="1014.9" y="860.3" text-anchor="middle">810</text>
<text class="tk" x="1100.1" y="860.3" text-anchor="middle">860</text>
<text class="tk" x="1185.3" y="860.3" text-anchor="middle">910</text>
<text class="tk" x="1270.5" y="860.3" text-anchor="middle">960</text>
<text class="ti" x="1134.2" y="909.2" text-anchor="middle">Wavelength (nm)</text>
<text class="ti" transform="translate(870.7 827.4) rotate(-90)">Emission Intensity</text>
<clipPath id="clip_p4"><rect x="928.2" y="500.8" width="412.8" height="316.7"/></clipPath>
<g clip-path="url(#clip_p4)">
<path class="c" stroke="#C00000" stroke-width="8.0" d="M927.1,790.1L928,789.5 928.8,788.8 929.7,788.1 930.6,787.4 931.4,786.7 932.3,786 933.1,785.2 934,784.2 934.8,782.9 935.7,781.5 936.5,780.1 937.4,778.8 938.2,777.5 939.1,776.1 939.9,774.5 940.8,773 941.6,771.5 942.5,770.1 943.3,768.9 944.2,767.5 945,766.1 945.9,764.5 946.7,762.9 947.6,761.3 948.4,759.8 949.3,758.4 950.2,756.8 951,755.2 951.9,753.4 952.7,751.5 953.6,749.7 954.4,748 955.3,746.2 956.1,744.3 957,742.2 957.8,739.7 958.7,737.1 959.5,734.6 960.4,732.2 961.2,729.9 962.1,727.7 962.9,725.5 963.8,723.2 964.6,720.7 965.5,717.9 966.3,715 967.2,711.8 968,708.6 968.9,705.6 969.7,702.7 970.6,700 971.5,697.2 972.3,694.1 973.2,690.8 974,687.2 974.9,683.5 975.7,680.1 976.6,677.1 977.4,674.3 978.3,671.7 979.1,669.1 980,666.6 980.8,664 981.7,661.4 982.5,658.9 983.4,656.4 984.2,654 985.1,651.7 985.9,649.6 986.8,647.4 987.6,645 988.5,642.6 989.3,640.2 990.2,638.1 991.1,636.4 991.9,635 992.8,633.7 993.6,632.5 994.5,631.3 995.3,630 996.2,628.7 997,627.3 997.9,626 998.7,624.7 999.6,623.5 1000.4,622.6 1001.3,621.8 1002.1,621.3 1003,620.9 1003.8,620.6 1004.7,620.4 1005.5,620.3 1006.4,620.1 1007.2,620.1 1008.1,620.2 1008.9,620.5 1009.8,621 1010.6,621.6 1011.5,622.3 1012.4,622.9 1013.2,623.5 1014.1,624 1014.9,624.4 1015.8,624.9 1016.6,625.6 1017.5,626.6 1018.3,627.9 1019.2,629.4 1020,630.8 1020.9,632.3 1021.7,633.6 1022.6,634.8 1023.4,636 1024.3,637.3 1025.1,638.7 1026,640.2 1026.8,641.8 1027.7,643.5 1028.5,645.1 1029.4,646.7 1030.2,648.2 1031.1,649.6 1032,651.2 1032.8,652.8 1033.7,654.6 1034.5,656.4 1035.4,658.2 1036.2,659.9 1037.1,661.5 1037.9,663.1 1038.8,664.9 1039.6,666.7 1040.5,668.4 1041.3,670.1 1042.2,671.7 1043,673.2 1043.9,674.8 1044.7,676.5 1045.6,678.3 1046.4,680.2 1047.3,682.3 1048.1,684.4 1049,686.5 1049.8,688.5 1050.7,690.3 1051.5,692 1052.4,693.7 1053.3,695.4 1054.1,697.2 1055,699.1 1055.8,700.9 1056.7,702.6 1057.5,704.3 1058.4,705.8 1059.2,707.3 1060.1,708.8 1060.9,710.2 1061.8,711.8 1062.6,713.5 1063.5,715.4 1064.3,717.3 1065.2,719.1 1066,720.7 1066.9,722.2 1067.7,723.6 1068.6,725 1069.4,726.5 1070.3,727.9 1071.1,729.3 1072,730.5 1072.9,731.5 1073.7,732.3 1074.6,733.1 1075.4,734.1 1076.3,735.3 1077.1,736.5 1078,737.6 1078.8,738.6 1079.7,739.5 1080.5,740.3 1081.4,741.2 1082.2,742 1083.1,742.7 1083.9,743.4 1084.8,744.1 1085.6,744.9 1086.5,745.8 1087.3,746.8 1088.2,747.7 1089,748.6 1089.9,749.3 1090.7,749.8 1091.6,750.2 1092.4,750.4 1093.3,750.6 1094.2,750.7 1095,750.9 1095.9,751.1 1096.7,751.4 1097.6,751.8 1098.4,752.3 1099.3,753 1100.1,753.7 1101,754.2 1101.8,754.5 1102.7,754.7 1103.5,754.8 1104.4,755 1105.2,755.5 1106.1,756.2 1106.9,757.1 1107.8,757.9 1108.6,758.8 1109.5,759.6 1110.3,760.3 1111.2,760.8 1112,761.2 1112.9,761.2 1113.8,761 1114.6,760.6 1115.5,760.2 1116.3,759.9 1117.2,759.8 1118,759.8 1118.9,759.9 1119.7,760.2 1120.6,760.6 1121.4,761.3 1122.3,762.1 1123.1,763.1 1124,764 1124.8,764.7 1125.7,765.3 1126.5,765.5 1127.4,765.4 1128.2,765.1 1129.1,764.6 1129.9,764.1 1130.8,763.8 1131.6,763.7 1132.5,763.8 1133.3,764 1134.2,764.2 1135.1,764.4 1135.9,764.6 1136.8,764.7 1137.6,764.8 1138.5,764.8 1139.3,764.8 1140.2,764.8 1141,764.9 1141.9,765.1 1142.7,765.4 1143.6,765.8 1144.4,766.1 1145.3,766.2 1146.1,766.2 1147,766.1 1147.8,765.9 1148.7,765.7 1149.5,765.6 1150.4,765.5 1151.2,765.4 1152.1,765.4 1152.9,765.5 1153.8,765.7 1154.7,766.1 1155.5,766.5 1156.4,766.8 1157.2,767.1 1158.1,767.3 1158.9,767.4 1159.8,767.4 1160.6,767.4 1161.5,767.6 1162.3,767.8 1163.2,768.2 1164,768.6 1164.9,769.1 1165.7,769.5 1166.6,769.8 1167.4,769.9 1168.3,769.9 1169.1,769.8 1170,769.7 1170.8,769.7 1171.7,769.9 1172.5,770.3 1173.4,770.9 1174.2,771.4 1175.1,772 1176,772.4 1176.8,772.6 1177.7,772.6 1178.5,772.6 1179.4,772.6 1180.2,772.6 1181.1,772.7 1181.9,772.9 1182.8,773.1 1183.6,773.3 1184.5,773.6 1185.3,774 1186.2,774.3 1187,774.7 1187.9,775 1188.7,775.3 1189.6,775.6 1190.4,775.8 1191.3,776.2 1192.1,776.6 1193,777.1 1193.8,777.6 1194.7,778 1195.5,778.2 1196.4,778.3 1197.3,778.5 1198.1,778.7 1199,779 1199.8,779.4 1200.7,779.9 1201.5,780.5 1202.4,781.2 1203.2,781.8 1204.1,782.2 1204.9,782.5 1205.8,782.7 1206.6,782.7 1207.5,782.8 1208.3,782.9 1209.2,783.1 1210,783.3 1210.9,783.4 1211.7,783.5 1212.6,783.5 1213.4,783.5 1214.3,783.7 1215.1,784 1216,784.3 1216.9,784.6 1217.7,784.9 1218.6,785.1 1219.4,785.4 1220.3,785.6 1221.1,785.8 1222,786 1222.8,786.2 1223.7,786.5 1224.5,786.8 1225.4,787.3 1226.2,787.9 1227.1,788.4 1227.9,788.9 1228.8,789.2 1229.6,789.4 1230.5,789.4 1231.3,789.5 1232.2,789.6 1233,789.9 1233.9,790.2 1234.7,790.6 1235.6,791 1236.5,791.3 1237.3,791.4 1238.2,791.5 1239,791.6 1239.9,791.9 1240.7,792.3 1241.6,792.8 1242.4,793.2 1243.3,793.6 1244.1,794 1245,794.3 1245.8,794.7 1246.7,795 1247.5,795.4 1248.4,795.7 1249.2,796.1 1250.1,796.5 1250.9,797 1251.8,797.6 1252.6,798.1 1253.5,798.6 1254.3,799 1255.2,799.3 1256,799.5 1256.9,799.6 1257.8,799.6 1258.6,799.7 1259.5,799.7 1260.3,799.8 1261.2,799.8 1262,799.9 1262.9,799.8 1263.7,799.8 1264.6,799.9 1265.4,800.2 1266.3,800.6 1267.1,801 1268,801.2 1268.8,801.4 1269.7,801.3 1270.5,801.3 1271.4,801.4 1272.2,801.5 1273.1,801.8 1273.9,801.9 1274.8,802.1 1275.6,802.2 1276.5,802.4 1277.3,802.5 1278.2,802.6 1279.1,802.5 1279.9,802.4 1280.8,802.2 1281.6,802 1282.5,801.9 1283.3,802 1284.2,802.2 1285,802.5 1285.9,803 1286.7,803.6 1287.6,804.2 1288.4,804.8 1289.3,805.2 1290.1,805.3 1291,805.4 1291.8,805.4 1292.7,805.5 1293.5,805.5 1294.4,805.5 1295.2,805.4 1296.1,805.3 1296.9,805.2 1297.8,805 1298.7,804.8 1299.5,804.6 1300.4,804.5 1301.2,804.5 1302.1,804.7 1302.9,804.9 1303.8,805 1304.6,804.9 1305.5,804.7 1306.3,804.6 1307.2,804.6 1308,804.7 1308.9,805 1309.7,805.3 1310.6,805.3 1311.4,805.3 1312.3,805.2 1313.1,805 1314,805 1314.8,804.9 1315.7,804.8 1316.5,804.7 1317.4,804.5 1318.2,804.5 1319.1,804.7 1320,805 1320.8,805.4 1321.7,805.7 1322.5,805.8 1323.4,805.8 1324.2,805.6 1325.1,805.4 1325.9,805.2 1326.8,805 1327.6,804.9 1328.5,804.9 1329.3,804.9 1330.2,805 1331,805.1 1331.9,805.3 1332.7,805.5 1333.6,805.8 1334.4,806 1335.3,806.2 1336.1,806.3 1337,806.3 1337.8,806.2 1338.7,806 1339.6,805.9 1340.4,805.8 1341.3,805.9"/>
<path class="c" stroke="#FFC000" stroke-width="8.0" d="M927.1,795.8L928,795.6 928.8,795.2 929.7,794.6 930.6,793.7 931.4,792.8 932.3,791.8 933.1,790.9 934,790.1 934.8,789.3 935.7,788.7 936.5,788 937.4,787.2 938.2,786.2 939.1,785.1 939.9,783.9 940.8,782.8 941.6,781.7 942.5,780.6 943.3,779.5 944.2,778.3 945,777 945.9,775.6 946.7,774.2 947.6,772.9 948.4,771.6 949.3,770.3 950.2,768.9 951,767.3 951.9,765.5 952.7,763.5 953.6,761.5 954.4,759.5 955.3,757.6 956.1,755.7 957,753.6 957.8,751.4 958.7,749 959.5,746.4 960.4,743.9 961.2,741.4 962.1,739.2 962.9,737 963.8,734.9 964.6,732.7 965.5,730.5 966.3,728.1 967.2,725.5 968,722.6 968.9,719.6 969.7,716.6 970.6,713.7 971.5,710.8 972.3,707.9 973.2,704.8 974,701.6 974.9,698.5 975.7,695.7 976.6,693.2 977.4,690.8 978.3,688.3 979.1,685.7 980,683 980.8,680.1 981.7,677.3 982.5,674.7 983.4,672.3 984.2,670.3 985.1,668.5 985.9,666.8 986.8,665.2 987.6,663.3 988.5,661.3 989.3,659.3 990.2,657.5 991.1,655.9 991.9,654.5 992.8,653.2 993.6,652.2 994.5,651.2 995.3,650.1 996.2,649 997,647.8 997.9,646.5 998.7,645.3 999.6,644.2 1000.4,643.3 1001.3,642.7 1002.1,642.4 1003,642.1 1003.8,642 1004.7,642 1005.5,642.1 1006.4,642.2 1007.2,642.3 1008.1,642.4 1008.9,642.5 1009.8,642.6 1010.6,642.6 1011.5,642.8 1012.4,643.1 1013.2,643.5 1014.1,644.2 1014.9,645 1015.8,646.1 1016.6,647.3 1017.5,648.7 1018.3,650 1019.2,651.2 1020,652.2 1020.9,653.2 1021.7,654.2 1022.6,655.3 1023.4,656.7 1024.3,658.2 1025.1,659.8 1026,661.3 1026.8,662.8 1027.7,664.1 1028.5,665.3 1029.4,666.5 1030.2,667.8 1031.1,669.3 1032,670.9 1032.8,672.5 1033.7,674.1 1034.5,675.6 1035.4,677.1 1036.2,678.5 1037.1,679.9 1037.9,681.2 1038.8,682.7 1039.6,684.3 1040.5,686.1 1041.3,688.1 1042.2,690 1043,691.8 1043.9,693.4 1044.7,694.9 1045.6,696.4 1046.4,698 1047.3,699.8 1048.1,701.7 1049,703.5 1049.8,705.2 1050.7,706.8 1051.5,708.2 1052.4,709.6 1053.3,710.9 1054.1,712.2 1055,713.5 1055.8,714.9 1056.7,716.4 1057.5,718 1058.4,719.7 1059.2,721.3 1060.1,722.8 1060.9,724.3 1061.8,725.8 1062.6,727.4 1063.5,729 1064.3,730.7 1065.2,732.2 1066,733.6 1066.9,735 1067.7,736.5 1068.6,737.9 1069.4,739.2 1070.3,740.4 1071.1,741.4 1072,742.3 1072.9,743.2 1073.7,744.1 1074.6,745.1 1075.4,746.1 1076.3,747 1077.1,748 1078,749.1 1078.8,750.1 1079.7,751.1 1080.5,752 1081.4,752.7 1082.2,753.3 1083.1,753.8 1083.9,754.3 1084.8,754.8 1085.6,755.4 1086.5,756.2 1087.3,757.1 1088.2,757.9 1089,758.5 1089.9,759 1090.7,759.4 1091.6,759.8 1092.4,760.2 1093.3,760.7 1094.2,761.2 1095,761.6 1095.9,762.1 1096.7,762.7 1097.6,763.2 1098.4,763.7 1099.3,764 1100.1,764.2 1101,764.4 1101.8,764.7 1102.7,765.2 1103.5,765.8 1104.4,766.3 1105.2,766.8 1106.1,767.2 1106.9,767.5 1107.8,767.8 1108.6,768.2 1109.5,768.6 1110.3,769.2 1111.2,769.8 1112,770.4 1112.9,770.9 1113.8,771.2 1114.6,771.3 1115.5,771.1 1116.3,770.7 1117.2,770.1 1118,769.6 1118.9,769.3 1119.7,769.2 1120.6,769.5 1121.4,770 1122.3,770.6 1123.1,771.2 1124,771.8 1124.8,772.2 1125.7,772.6 1126.5,772.9 1127.4,773.2 1128.2,773.3 1129.1,773.5 1129.9,773.8 1130.8,774.1 1131.6,774.5 1132.5,774.9 1133.3,775.1 1134.2,775.3 1135.1,775.3 1135.9,775.4 1136.8,775.5 1137.6,775.6 1138.5,775.9 1139.3,776.3 1140.2,776.8 1141,777.4 1141.9,777.8 1142.7,778.1 1143.6,778.3 1144.4,778.5 1145.3,778.7 1146.1,778.9 1147,779.3 1147.8,779.6 1148.7,779.8 1149.5,780.1 1150.4,780.2 1151.2,780.3 1152.1,780.2 1152.9,780.2 1153.8,780 1154.7,779.9 1155.5,780 1156.4,780.2 1157.2,780.5 1158.1,780.9 1158.9,781.2 1159.8,781.4 1160.6,781.4 1161.5,781.4 1162.3,781.4 1163.2,781.4 1164,781.4 1164.9,781.4 1165.7,781.3 1166.6,781.3 1167.4,781.4 1168.3,781.5 1169.1,781.8 1170,782.2 1170.8,782.6 1171.7,782.9 1172.5,783.1 1173.4,783.2 1174.2,783.4 1175.1,783.5 1176,783.6 1176.8,783.7 1177.7,783.7 1178.5,783.7 1179.4,783.7 1180.2,783.8 1181.1,784.1 1181.9,784.6 1182.8,785.2 1183.6,786 1184.5,786.6 1185.3,787.1 1186.2,787.6 1187,788 1187.9,788.3 1188.7,788.5 1189.6,788.7 1190.4,789 1191.3,789.2 1192.1,789.6 1193,790.1 1193.8,790.6 1194.7,791 1195.5,791.2 1196.4,791.2 1197.3,791 1198.1,790.7 1199,790.6 1199.8,790.7 1200.7,791 1201.5,791.4 1202.4,791.9 1203.2,792.3 1204.1,792.6 1204.9,792.9 1205.8,793.3 1206.6,793.8 1207.5,794.3 1208.3,794.8 1209.2,795.1 1210,795.2 1210.9,795.2 1211.7,795.1 1212.6,795.1 1213.4,795.2 1214.3,795.3 1215.1,795.4 1216,795.6 1216.9,795.8 1217.7,796 1218.6,796.2 1219.4,796.6 1220.3,796.9 1221.1,797.4 1222,797.7 1222.8,798 1223.7,798.3 1224.5,798.7 1225.4,799 1226.2,799.4 1227.1,799.6 1227.9,799.7 1228.8,799.6 1229.6,799.6 1230.5,799.8 1231.3,800 1232.2,800.3 1233,800.6 1233.9,800.7 1234.7,800.8 1235.6,801 1236.5,801.2 1237.3,801.6 1238.2,802 1239,802.3 1239.9,802.5 1240.7,802.5 1241.6,802.4 1242.4,802.6 1243.3,802.9 1244.1,803.3 1245,803.8 1245.8,804.2 1246.7,804.4 1247.5,804.4 1248.4,804.2 1249.2,804 1250.1,803.9 1250.9,803.9 1251.8,804 1252.6,804.2 1253.5,804.5 1254.3,804.7 1255.2,804.9 1256,805 1256.9,805 1257.8,805.2 1258.6,805.5 1259.5,806 1260.3,806.5 1261.2,806.9 1262,807.2 1262.9,807.4 1263.7,807.6 1264.6,807.8 1265.4,808.1 1266.3,808.2 1267.1,808.1 1268,807.9 1268.8,807.7 1269.7,807.6 1270.5,807.9 1271.4,808.5 1272.2,809.4 1273.1,810.3 1273.9,811 1274.8,811.4 1275.6,811.3 1276.5,811 1277.3,810.5 1278.2,810.2 1279.1,809.9 1279.9,809.9 1280.8,809.9 1281.6,810.1 1282.5,810.2 1283.3,810.2 1284.2,810.2 1285,810.1 1285.9,809.9 1286.7,809.8 1287.6,809.8 1288.4,810 1289.3,810.3 1290.1,810.7 1291,811.1 1291.8,811.4 1292.7,811.7 1293.5,812.1 1294.4,812.4 1295.2,812.7 1296.1,812.7 1296.9,812.5 1297.8,812.1 1298.7,811.7 1299.5,811.2 1300.4,810.7 1301.2,810.4 1302.1,810.2 1302.9,810.4 1303.8,810.6 1304.6,811 1305.5,811.3 1306.3,811.5 1307.2,811.5 1308,811.3 1308.9,811.1 1309.7,810.8 1310.6,810.4 1311.4,809.9 1312.3,809.4 1313.1,809.1 1314,809 1314.8,809 1315.7,809.1 1316.5,809.3 1317.4,809.5 1318.2,809.5 1319.1,809.4 1320,809.3 1320.8,809.1 1321.7,808.9 1322.5,808.9 1323.4,809.2 1324.2,809.6 1325.1,810 1325.9,810.3 1326.8,810.4 1327.6,810.4 1328.5,810.3 1329.3,810.3 1330.2,810.2 1331,810.1 1331.9,810 1332.7,809.9 1333.6,809.8 1334.4,809.7 1335.3,809.6 1336.1,809.6 1337,809.6 1337.8,809.6 1338.7,809.7 1339.6,809.8 1340.4,810 1341.3,810.3"/>
<path class="c" stroke="#92D050" stroke-width="8.0" d="M927.1,796.4L928,795.5 928.8,794.6 929.7,793.7 930.6,793 931.4,792.5 932.3,792.1 933.1,791.9 934,791.8 934.8,791.6 935.7,791.4 936.5,791 937.4,790.6 938.2,789.9 939.1,789.1 939.9,788.2 940.8,787.1 941.6,786 942.5,784.7 943.3,783.2 944.2,781.7 945,780 945.9,778.4 946.7,776.7 947.6,774.8 948.4,772.9 949.3,771 950.2,769.1 951,767.3 951.9,765.4 952.7,763.6 953.6,761.7 954.4,759.8 955.3,757.9 956.1,755.9 957,753.9 957.8,751.9 958.7,750 959.5,748.1 960.4,746.1 961.2,744 962.1,741.8 962.9,739.4 963.8,737 964.6,734.5 965.5,732.1 966.3,729.7 967.2,727.2 968,724.6 968.9,721.9 969.7,719 970.6,716.1 971.5,713.2 972.3,710.4 973.2,707.5 974,704.7 974.9,701.8 975.7,699 976.6,696.1 977.4,693.2 978.3,690.2 979.1,687.2 980,684.3 980.8,681.4 981.7,678.7 982.5,676.2 983.4,673.8 984.2,671.4 985.1,669.2 985.9,667.1 986.8,664.9 987.6,662.8 988.5,660.6 989.3,658.5 990.2,656.6 991.1,654.9 991.9,653.4 992.8,652 993.6,650.8 994.5,649.7 995.3,648.6 996.2,647.4 997,646.4 997.9,645.5 998.7,644.8 999.6,644.3 1000.4,644 1001.3,643.9 1002.1,643.7 1003,643.5 1003.8,643.3 1004.7,643.1 1005.5,642.7 1006.4,642.2 1007.2,641.5 1008.1,640.9 1008.9,640.7 1009.8,640.9 1010.6,641.4 1011.5,642.1 1012.4,642.9 1013.2,643.7 1014.1,644.3 1014.9,645 1015.8,645.8 1016.6,646.7 1017.5,647.6 1018.3,648.5 1019.2,649.4 1020,650.3 1020.9,651.5 1021.7,652.9 1022.6,654.3 1023.4,655.7 1024.3,657 1025.1,658.2 1026,659.4 1026.8,660.7 1027.7,662.1 1028.5,663.6 1029.4,665.2 1030.2,666.8 1031.1,668.4 1032,670 1032.8,671.7 1033.7,673.4 1034.5,675.3 1035.4,677.3 1036.2,679.2 1037.1,680.9 1037.9,682.5 1038.8,683.9 1039.6,685.3 1040.5,686.8 1041.3,688.5 1042.2,690.3 1043,692.2 1043.9,694.1 1044.7,695.9 1045.6,697.6 1046.4,699.3 1047.3,700.9 1048.1,702.4 1049,703.9 1049.8,705.2 1050.7,706.5 1051.5,707.7 1052.4,709.1 1053.3,710.6 1054.1,712.2 1055,713.8 1055.8,715.5 1056.7,717.1 1057.5,718.7 1058.4,720.2 1059.2,721.8 1060.1,723.3 1060.9,724.8 1061.8,726.3 1062.6,727.6 1063.5,728.8 1064.3,730 1065.2,731.2 1066,732.5 1066.9,734.1 1067.7,735.9 1068.6,737.7 1069.4,739.4 1070.3,740.9 1071.1,742 1072,743 1072.9,743.9 1073.7,745 1074.6,746.1 1075.4,747.2 1076.3,748.3 1077.1,749.2 1078,750.1 1078.8,750.9 1079.7,751.5 1080.5,751.9 1081.4,752.3 1082.2,752.7 1083.1,753.2 1083.9,753.8 1084.8,754.6 1085.6,755.2 1086.5,755.8 1087.3,756.3 1088.2,756.7 1089,757.1 1089.9,757.6 1090.7,758.2 1091.6,759 1092.4,760 1093.3,761 1094.2,762 1095,762.9 1095.9,763.5 1096.7,763.9 1097.6,764.1 1098.4,764.2 1099.3,764.2 1100.1,764.4 1101,764.7 1101.8,765.1 1102.7,765.8 1103.5,766.5 1104.4,767.2 1105.2,767.8 1106.1,768.3 1106.9,768.6 1107.8,768.9 1108.6,769 1109.5,769.1 1110.3,769.1 1111.2,769.3 1112,769.6 1112.9,770.1 1113.8,770.8 1114.6,771.6 1115.5,772.5 1116.3,772.9 1117.2,772.9 1118,772.5 1118.9,772 1119.7,771.6 1120.6,771.2 1121.4,771 1122.3,770.7 1123.1,770.6 1124,770.5 1124.8,770.5 1125.7,770.5 1126.5,770.7 1127.4,771 1128.2,771.4 1129.1,771.8 1129.9,772.3 1130.8,772.7 1131.6,773 1132.5,773.2 1133.3,773.2 1134.2,773.2 1135.1,773.2 1135.9,773.3 1136.8,773.3 1137.6,773.2 1138.5,773 1139.3,772.7 1140.2,772.4 1141,772.2 1141.9,772.2 1142.7,772.4 1143.6,772.7 1144.4,773.2 1145.3,773.7 1146.1,774.1 1147,774.4 1147.8,774.6 1148.7,774.7 1149.5,774.7 1150.4,774.6 1151.2,774.7 1152.1,774.7 1152.9,774.9 1153.8,775.1 1154.7,775.4 1155.5,775.7 1156.4,775.9 1157.2,776.1 1158.1,776.3 1158.9,776.4 1159.8,776.4 1160.6,776.5 1161.5,776.5 1162.3,776.6 1163.2,776.7 1164,777 1164.9,777.4 1165.7,777.9 1166.6,778.5 1167.4,778.9 1168.3,779.1 1169.1,779.1 1170,779.2 1170.8,779.2 1171.7,779.4 1172.5,779.5 1173.4,779.6 1174.2,779.7 1175.1,779.9 1176,780.2 1176.8,780.7 1177.7,781.1 1178.5,781.6 1179.4,781.9 1180.2,782.1 1181.1,782.2 1181.9,782.4 1182.8,782.6 1183.6,782.9 1184.5,783.3 1185.3,783.7 1186.2,784.2 1187,784.5 1187.9,784.8 1188.7,785 1189.6,785.1 1190.4,785.2 1191.3,785.2 1192.1,785.2 1193,785.3 1193.8,785.5 1194.7,785.9 1195.5,786.4 1196.4,787 1197.3,787.7 1198.1,788.2 1199,788.6 1199.8,788.9 1200.7,789.1 1201.5,789.4 1202.4,789.5 1203.2,789.7 1204.1,789.8 1204.9,790 1205.8,790.3 1206.6,790.5 1207.5,790.7 1208.3,790.8 1209.2,790.8 1210,790.8 1210.9,790.9 1211.7,791 1212.6,791.1 1213.4,791.3 1214.3,791.5 1215.1,791.9 1216,792.2 1216.9,792.6 1217.7,792.8 1218.6,793.1 1219.4,793.4 1220.3,793.9 1221.1,794.6 1222,795.2 1222.8,795.6 1223.7,795.8 1224.5,795.8 1225.4,795.6 1226.2,795.4 1227.1,795.4 1227.9,795.5 1228.8,795.7 1229.6,796.1 1230.5,796.4 1231.3,796.6 1232.2,796.7 1233,796.8 1233.9,796.9 1234.7,797.1 1235.6,797.4 1236.5,797.8 1237.3,798.1 1238.2,798.3 1239,798.6 1239.9,799 1240.7,799.4 1241.6,799.9 1242.4,800.4 1243.3,800.8 1244.1,801.2 1245,801.4 1245.8,801.6 1246.7,801.6 1247.5,801.6 1248.4,801.6 1249.2,801.6 1250.1,801.8 1250.9,802.2 1251.8,802.7 1252.6,803.2 1253.5,803.8 1254.3,804.2 1255.2,804.4 1256,804.6 1256.9,804.8 1257.8,805 1258.6,805.2 1259.5,805.5 1260.3,805.9 1261.2,806.3 1262,806.7 1262.9,807 1263.7,807.3 1264.6,807.4 1265.4,807.4 1266.3,807.3 1267.1,807.2 1268,807 1268.8,806.7 1269.7,806.5 1270.5,806.4 1271.4,806.5 1272.2,806.6 1273.1,806.9 1273.9,807.3 1274.8,807.7 1275.6,808.2 1276.5,808.6 1277.3,809 1278.2,809.2 1279.1,809.3 1279.9,809.4 1280.8,809.4 1281.6,809.4 1282.5,809.4 1283.3,809.5 1284.2,809.7 1285,809.9 1285.9,810 1286.7,810 1287.6,809.9 1288.4,809.5 1289.3,809 1290.1,808.4 1291,807.9 1291.8,807.6 1292.7,807.4 1293.5,807.2 1294.4,807.1 1295.2,807 1296.1,807 1296.9,807 1297.8,807.1 1298.7,807.4 1299.5,807.7 1300.4,807.9 1301.2,808.1 1302.1,808 1302.9,807.8 1303.8,807.3 1304.6,806.9 1305.5,806.5 1306.3,806.3 1307.2,806.2 1308,806.3 1308.9,806.5 1309.7,806.7 1310.6,806.9 1311.4,807 1312.3,807.1 1313.1,807.1 1314,807.2 1314.8,807.3 1315.7,807.3 1316.5,807.4 1317.4,807.6 1318.2,807.8 1319.1,808 1320,808.2 1320.8,808.4 1321.7,808.4 1322.5,808.3 1323.4,808 1324.2,807.6 1325.1,807.1 1325.9,806.8 1326.8,806.7 1327.6,806.8 1328.5,806.9 1329.3,807 1330.2,807 1331,806.9 1331.9,806.8 1332.7,806.8 1333.6,807 1334.4,807.2 1335.3,807.4 1336.1,807.5 1337,807.5 1337.8,807.4 1338.7,807.2 1339.6,807.1 1340.4,806.9 1341.3,806.9"/>
<path class="c" stroke="#00B0F0" stroke-width="8.0" d="M927.1,793.9L928,793.3 928.8,792.7 929.7,792.2 930.6,791.6 931.4,791.2 932.3,790.7 933.1,790.2 934,789.6 934.8,788.7 935.7,787.8 936.5,786.6 937.4,785.4 938.2,784.2 939.1,783.1 939.9,781.9 940.8,780.9 941.6,779.9 942.5,778.8 943.3,777.7 944.2,776.5 945,775.2 945.9,774 946.7,772.7 947.6,771.3 948.4,769.8 949.3,768.2 950.2,766.4 951,764.5 951.9,762.6 952.7,760.6 953.6,758.7 954.4,756.7 955.3,754.9 956.1,753.1 957,751.3 957.8,749.4 958.7,747.4 959.5,745.2 960.4,742.9 961.2,740.6 962.1,738.3 962.9,736 963.8,733.7 964.6,731.5 965.5,729.2 966.3,726.9 967.2,724.4 968,721.5 968.9,718.2 969.7,714.9 970.6,711.5 971.5,708.2 972.3,705.2 973.2,702.4 974,699.7 974.9,697.2 975.7,694.8 976.6,692.4 977.4,689.8 978.3,687.2 979.1,684.4 980,681.6 980.8,678.9 981.7,676.4 982.5,674.1 983.4,672 984.2,669.8 985.1,667.6 985.9,665.4 986.8,663.1 987.6,660.9 988.5,658.7 989.3,656.6 990.2,654.5 991.1,652.4 991.9,650.3 992.8,648.4 993.6,646.6 994.5,645 995.3,643.6 996.2,642.2 997,640.8 997.9,639.5 998.7,638.1 999.6,636.8 1000.4,635.8 1001.3,635 1002.1,634.5 1003,634.1 1003.8,633.8 1004.7,633.6 1005.5,633.4 1006.4,633.4 1007.2,633.4 1008.1,633.5 1008.9,633.7 1009.8,634 1010.6,634.5 1011.5,635.1 1012.4,635.9 1013.2,636.9 1014.1,638 1014.9,639.1 1015.8,640.3 1016.6,641.7 1017.5,643.2 1018.3,644.5 1019.2,645.8 1020,646.9 1020.9,648 1021.7,649.3 1022.6,650.7 1023.4,652.1 1024.3,653.6 1025.1,655.1 1026,656.5 1026.8,657.9 1027.7,659.2 1028.5,660.6 1029.4,662.1 1030.2,663.6 1031.1,665.2 1032,666.8 1032.8,668.4 1033.7,669.9 1034.5,671.6 1035.4,673.2 1036.2,674.9 1037.1,676.4 1037.9,677.9 1038.8,679.2 1039.6,680.7 1040.5,682.4 1041.3,684.3 1042.2,686.4 1043,688.5 1043.9,690.5 1044.7,692.5 1045.6,694.4 1046.4,696.2 1047.3,698 1048.1,699.6 1049,701.3 1049.8,702.9 1050.7,704.5 1051.5,706.1 1052.4,707.8 1053.3,709.5 1054.1,711.3 1055,713 1055.8,714.7 1056.7,716.1 1057.5,717.4 1058.4,718.7 1059.2,720.1 1060.1,721.6 1060.9,723.2 1061.8,724.7 1062.6,726.2 1063.5,727.7 1064.3,729.3 1065.2,730.9 1066,732.6 1066.9,734.1 1067.7,735.6 1068.6,736.9 1069.4,738.1 1070.3,739.3 1071.1,740.5 1072,741.7 1072.9,743 1073.7,744.1 1074.6,745 1075.4,745.7 1076.3,746.4 1077.1,746.9 1078,747.5 1078.8,748.2 1079.7,749 1080.5,749.6 1081.4,750.2 1082.2,750.7 1083.1,751.1 1083.9,751.6 1084.8,752.3 1085.6,753.2 1086.5,754.1 1087.3,754.9 1088.2,755.5 1089,755.7 1089.9,755.8 1090.7,755.7 1091.6,755.9 1092.4,756.3 1093.3,756.9 1094.2,757.6 1095,758.2 1095.9,758.5 1096.7,758.8 1097.6,759 1098.4,759.4 1099.3,760 1100.1,760.7 1101,761.3 1101.8,761.8 1102.7,762.2 1103.5,762.4 1104.4,762.7 1105.2,763.1 1106.1,763.7 1106.9,764.4 1107.8,765.1 1108.6,765.7 1109.5,766.1 1110.3,766.4 1111.2,766.6 1112,766.6 1112.9,766.5 1113.8,766.3 1114.6,766.2 1115.5,766.2 1116.3,766.6 1117.2,767.1 1118,767.8 1118.9,768.3 1119.7,768.6 1120.6,768.6 1121.4,768.5 1122.3,768.3 1123.1,768.2 1124,768.1 1124.8,768.2 1125.7,768.3 1126.5,768.4 1127.4,768.5 1128.2,768.6 1129.1,768.8 1129.9,769 1130.8,769.2 1131.6,769.4 1132.5,769.6 1133.3,769.9 1134.2,770.2 1135.1,770.3 1135.9,770.3 1136.8,770.2 1137.6,770.1 1138.5,770.2 1139.3,770.5 1140.2,771 1141,771.4 1141.9,771.7 1142.7,771.9 1143.6,772.1 1144.4,772.2 1145.3,772.3 1146.1,772.4 1147,772.3 1147.8,772.3 1148.7,772.2 1149.5,772.2 1150.4,772.3 1151.2,772.4 1152.1,772.7 1152.9,772.9 1153.8,773.1 1154.7,773.1 1155.5,773.1 1156.4,773 1157.2,772.8 1158.1,772.8 1158.9,772.8 1159.8,772.9 1160.6,773.2 1161.5,773.4 1162.3,773.8 1163.2,774.2 1164,774.6 1164.9,775.1 1165.7,775.4 1166.6,775.7 1167.4,775.9 1168.3,776.2 1169.1,776.6 1170,777 1170.8,777.4 1171.7,777.7 1172.5,778 1173.4,778.4 1174.2,778.7 1175.1,779.1 1176,779.4 1176.8,779.7 1177.7,779.9 1178.5,780 1179.4,780.1 1180.2,780.1 1181.1,780.3 1181.9,780.5 1182.8,780.7 1183.6,781 1184.5,781.2 1185.3,781.4 1186.2,781.4 1187,781.3 1187.9,781.3 1188.7,781.3 1189.6,781.4 1190.4,781.6 1191.3,781.8 1192.1,782.2 1193,782.6 1193.8,783.1 1194.7,783.4 1195.5,783.6 1196.4,783.7 1197.3,783.8 1198.1,784.2 1199,784.7 1199.8,785.2 1200.7,785.6 1201.5,786 1202.4,786.3 1203.2,786.4 1204.1,786.4 1204.9,786.2 1205.8,785.8 1206.6,785.5 1207.5,785.4 1208.3,785.5 1209.2,785.8 1210,786.2 1210.9,786.7 1211.7,787.2 1212.6,787.5 1213.4,787.6 1214.3,787.6 1215.1,787.5 1216,787.5 1216.9,787.7 1217.7,788 1218.6,788.3 1219.4,788.8 1220.3,789.5 1221.1,790.2 1222,791 1222.8,791.7 1223.7,792.3 1224.5,792.8 1225.4,793.3 1226.2,793.7 1227.1,793.8 1227.9,793.7 1228.8,793.4 1229.6,793 1230.5,792.7 1231.3,792.5 1232.2,792.5 1233,792.7 1233.9,792.9 1234.7,793.1 1235.6,793.3 1236.5,793.4 1237.3,793.5 1238.2,793.6 1239,794 1239.9,794.4 1240.7,794.9 1241.6,795.3 1242.4,795.7 1243.3,795.9 1244.1,795.9 1245,796 1245.8,796.1 1246.7,796.3 1247.5,796.5 1248.4,796.9 1249.2,797.2 1250.1,797.3 1250.9,797.3 1251.8,797.2 1252.6,797.2 1253.5,797.4 1254.3,797.8 1255.2,798.4 1256,799 1256.9,799.4 1257.8,799.6 1258.6,799.7 1259.5,799.6 1260.3,799.6 1261.2,799.7 1262,799.9 1262.9,800.2 1263.7,800.5 1264.6,800.7 1265.4,800.8 1266.3,801 1267.1,801.3 1268,801.8 1268.8,802.4 1269.7,803 1270.5,803.5 1271.4,803.8 1272.2,804 1273.1,804 1273.9,804 1274.8,803.9 1275.6,803.7 1276.5,803.4 1277.3,803.3 1278.2,803.4 1279.1,803.7 1279.9,804.1 1280.8,804.6 1281.6,804.9 1282.5,805 1283.3,805.1 1284.2,805.1 1285,805.1 1285.9,804.9 1286.7,804.6 1287.6,804.2 1288.4,803.8 1289.3,803.5 1290.1,803.4 1291,803.4 1291.8,803.5 1292.7,803.6 1293.5,803.5 1294.4,803.3 1295.2,803.1 1296.1,802.9 1296.9,802.8 1297.8,802.8 1298.7,803 1299.5,803.3 1300.4,803.6 1301.2,803.9 1302.1,804.1 1302.9,804.2 1303.8,804.2 1304.6,804.2 1305.5,804.4 1306.3,804.8 1307.2,805.4 1308,805.9 1308.9,806.3 1309.7,806.5 1310.6,806.5 1311.4,806.6 1312.3,806.8 1313.1,807.2 1314,807.6 1314.8,808 1315.7,808.3 1316.5,808.5 1317.4,808.5 1318.2,808.5 1319.1,808.4 1320,808.4 1320.8,808.4 1321.7,808.5 1322.5,808.6 1323.4,808.7 1324.2,808.7 1325.1,808.9 1325.9,809.1 1326.8,809.3 1327.6,809.4 1328.5,809.4 1329.3,809.1 1330.2,808.6 1331,808 1331.9,807.7 1332.7,807.5 1333.6,807.7 1334.4,808.1 1335.3,808.5 1336.1,808.8 1337,809.1 1337.8,809.2 1338.7,809.4 1339.6,809.7 1340.4,809.9 1341.3,810.1"/>
<path class="c" stroke="#002060" stroke-width="8.0" d="M927.1,812.5L928,812 928.8,811.6 929.7,811.4 930.6,811.4 931.4,811.5 932.3,811.6 933.1,811.5 934,811.4 934.8,811.2 935.7,810.9 936.5,810.6 937.4,810.4 938.2,810.1 939.1,809.9 939.9,809.8 940.8,809.8 941.6,809.9 942.5,810.2 943.3,810.5 944.2,810.6 945,810.5 945.9,810.2 946.7,809.8 947.6,809.4 948.4,809.2 949.3,809.1 950.2,809.1 951,809.3 951.9,809.5 952.7,809.8 953.6,810 954.4,810.2 955.3,810.3 956.1,810.3 957,810.3 957.8,810.2 958.7,810.2 959.5,810.5 960.4,810.8 961.2,811.2 962.1,811.4 962.9,811.5 963.8,811.3 964.6,811 965.5,810.7 966.3,810.5 967.2,810.4 968,810.4 968.9,810.4 969.7,810.3 970.6,810 971.5,809.6 972.3,809.1 973.2,808.8 974,808.6 974.9,808.5 975.7,808.5 976.6,808.4 977.4,808.4 978.3,808.5 979.1,808.6 980,808.7 980.8,808.6 981.7,808.4 982.5,808.2 983.4,808 984.2,808 985.1,808.2 985.9,808.4 986.8,808.5 987.6,808.4 988.5,808.3 989.3,808.2 990.2,808 991.1,807.9 991.9,807.8 992.8,807.9 993.6,808 994.5,808.1 995.3,808 996.2,807.9 997,807.6 997.9,807.5 998.7,807.6 999.6,807.9 1000.4,808.2 1001.3,808.5 1002.1,808.5 1003,808.4 1003.8,808.3 1004.7,808.2 1005.5,808.4 1006.4,808.6 1007.2,808.8 1008.1,809.1 1008.9,809.2 1009.8,809.3 1010.6,809.4 1011.5,809.7 1012.4,810 1013.2,810.3 1014.1,810.7 1014.9,811 1015.8,811 1016.6,810.9 1017.5,810.7 1018.3,810.6 1019.2,810.8 1020,811 1020.9,811.1 1021.7,811.1 1022.6,811 1023.4,810.8 1024.3,810.6 1025.1,810.4 1026,810.3 1026.8,810.3 1027.7,810.3 1028.5,810.3 1029.4,810.1 1030.2,809.7 1031.1,809.3 1032,808.9 1032.8,808.8 1033.7,808.9 1034.5,809.3 1035.4,809.8 1036.2,810.4 1037.1,810.9 1037.9,811.3 1038.8,811.4 1039.6,811.3 1040.5,811.1 1041.3,810.9 1042.2,810.8 1043,810.6 1043.9,810.6 1044.7,810.6 1045.6,810.7 1046.4,810.7 1047.3,810.7 1048.1,810.7 1049,810.8 1049.8,811 1050.7,811.1 1051.5,811.1 1052.4,811.2 1053.3,811.3 1054.1,811.5 1055,811.6 1055.8,811.6 1056.7,811.5 1057.5,811.2 1058.4,810.9 1059.2,810.7 1060.1,810.8 1060.9,811 1061.8,811.4 1062.6,811.8 1063.5,812.2 1064.3,812.7 1065.2,813.1 1066,813.5 1066.9,813.7 1067.7,813.9 1068.6,814.1 1069.4,814.3 1070.3,814.7 1071.1,814.9 1072,815.1 1072.9,815.1 1073.7,815 1074.6,814.8 1075.4,814.8 1076.3,814.7 1077.1,814.6 1078,814.4 1078.8,814.1 1079.7,814 1080.5,813.9 1081.4,813.9 1082.2,813.9 1083.1,814 1083.9,814 1084.8,814.1 1085.6,814.1 1086.5,814.1 1087.3,814.2 1088.2,814.3 1089,814.6 1089.9,814.8 1090.7,815 1091.6,815.1 1092.4,815 1093.3,814.8 1094.2,814.6 1095,814.5 1095.9,814.6 1096.7,814.6 1097.6,814.7 1098.4,814.6 1099.3,814.5 1100.1,814.4 1101,814.3 1101.8,814.2 1102.7,814 1103.5,813.8 1104.4,813.6 1105.2,813.4 1106.1,813.4 1106.9,813.6 1107.8,814 1108.6,814.6 1109.5,815.1 1110.3,815.5 1111.2,815.8 1112,815.8 1112.9,815.7 1113.8,815.5 1114.6,815.3 1115.5,815 1116.3,814.9 1117.2,814.8 1118,814.9 1118.9,815.2 1119.7,815.6 1120.6,816.2 1121.4,816.7 1122.3,817.1 1123.1,817.3 1124,817.3 1124.8,816.9 1125.7,816.3 1126.5,815.8 1127.4,815.3 1128.2,815.1 1129.1,815.1 1129.9,815.3 1130.8,815.5 1131.6,815.8 1132.5,815.9 1133.3,815.9 1134.2,815.9 1135.1,815.7 1135.9,815.6 1136.8,815.5 1137.6,815.6 1138.5,815.7 1139.3,815.8 1140.2,815.6 1141,815.3 1141.9,814.7 1142.7,814.1 1143.6,813.7 1144.4,813.7 1145.3,814 1146.1,814.5 1147,815.1 1147.8,815.5 1148.7,815.7 1149.5,815.9 1150.4,816 1151.2,816.1 1152.1,816.2 1152.9,816.4 1153.8,816.6 1154.7,816.8 1155.5,816.9 1156.4,817 1157.2,817 1158.1,816.9 1158.9,816.7 1159.8,816.2 1160.6,815.6 1161.5,814.9 1162.3,814.2 1163.2,813.7 1164,813.3 1164.9,813.1 1165.7,813.3 1166.6,813.7 1167.4,814.1 1168.3,814.4 1169.1,814.7 1170,815 1170.8,815.3 1171.7,815.5 1172.5,815.5 1173.4,815.3 1174.2,815.1 1175.1,814.8 1176,814.5 1176.8,814.2 1177.7,814.1 1178.5,814.3 1179.4,814.5 1180.2,814.8 1181.1,815 1181.9,815.2 1182.8,815.3 1183.6,815.3 1184.5,815.3 1185.3,815.3 1186.2,815.3 1187,815.4 1187.9,815.7 1188.7,816 1189.6,816.3 1190.4,816.4 1191.3,816.2 1192.1,815.7 1193,815.1 1193.8,814.5 1194.7,814.2 1195.5,814.3 1196.4,814.6 1197.3,815.2 1198.1,815.6 1199,815.7 1199.8,815.5 1200.7,815.1 1201.5,814.7 1202.4,814.4 1203.2,814.2 1204.1,814.2 1204.9,814.2 1205.8,814.3 1206.6,814.4 1207.5,814.5 1208.3,814.6 1209.2,814.7 1210,814.8 1210.9,814.8 1211.7,814.8 1212.6,814.7 1213.4,814.8 1214.3,814.8 1215.1,815 1216,815.2 1216.9,815.4 1217.7,815.7 1218.6,816.1 1219.4,816.5 1220.3,816.8 1221.1,816.9 1222,816.8 1222.8,816.5 1223.7,816.2 1224.5,816 1225.4,815.9 1226.2,815.9 1227.1,816 1227.9,815.9 1228.8,815.6 1229.6,815.3 1230.5,815 1231.3,814.8 1232.2,814.8 1233,814.9 1233.9,815 1234.7,815.3 1235.6,815.5 1236.5,815.8 1237.3,815.9 1238.2,815.8 1239,815.5 1239.9,815 1240.7,814.4 1241.6,813.9 1242.4,813.7 1243.3,813.7 1244.1,814 1245,814.3 1245.8,814.7 1246.7,815 1247.5,815.3 1248.4,815.6 1249.2,815.7 1250.1,815.7 1250.9,815.5 1251.8,815.2 1252.6,814.9 1253.5,814.6 1254.3,814.3 1255.2,814.2 1256,814.2 1256.9,814.3 1257.8,814.6 1258.6,814.9 1259.5,815.3 1260.3,815.6 1261.2,816 1262,816.3 1262.9,816.6 1263.7,816.8 1264.6,816.9 1265.4,816.9 1266.3,816.9 1267.1,816.9 1268,816.8 1268.8,816.6 1269.7,816.3 1270.5,816 1271.4,815.7 1272.2,815.4 1273.1,815.3 1273.9,815.2 1274.8,815.2 1275.6,815.2 1276.5,815.2 1277.3,815.1 1278.2,814.9 1279.1,814.8 1279.9,814.8 1280.8,814.8 1281.6,814.8 1282.5,814.9 1283.3,815 1284.2,815.1 1285,815.2 1285.9,815.5 1286.7,815.7 1287.6,815.9 1288.4,815.9 1289.3,815.9 1290.1,815.7 1291,815.5 1291.8,815.3 1292.7,815.1 1293.5,815.1 1294.4,815.1 1295.2,815.1 1296.1,815 1296.9,814.9 1297.8,814.6 1298.7,814.3 1299.5,814 1300.4,813.8 1301.2,813.7 1302.1,813.6 1302.9,813.5 1303.8,813.2 1304.6,812.8 1305.5,812.3 1306.3,811.7 1307.2,811.1 1308,810.7 1308.9,810.3 1309.7,810.2 1310.6,810.3 1311.4,810.7 1312.3,811.2 1313.1,811.8 1314,812.4 1314.8,813.1 1315.7,813.7 1316.5,814.3 1317.4,814.9 1318.2,815.3 1319.1,815.6 1320,815.7 1320.8,815.7 1321.7,815.5 1322.5,815.3 1323.4,815.1 1324.2,814.9 1325.1,814.7 1325.9,814.7 1326.8,814.8 1327.6,815 1328.5,815.3 1329.3,815.6 1330.2,815.9 1331,816.2 1331.9,816.3 1332.7,816.3 1333.6,816.2 1334.4,815.8 1335.3,815.5 1336.1,815.3 1337,815.4 1337.8,815.6 1338.7,816 1339.6,816.3 1340.4,816.4 1341.3,816.4"/>
</g>
<path d="M1360.9 554.1H1409.8" stroke="#C00000" stroke-width="7.5" stroke-linecap="round" fill="none"/>
<text class="lg" x="1415.8" y="564.5">pH3</text>
<path d="M1360.9 607.6H1409.8" stroke="#FFC000" stroke-width="7.5" stroke-linecap="round" fill="none"/>
<text class="lg" x="1415.8" y="618">pH5</text>
<path d="M1360.9 661.2H1409.8" stroke="#92D050" stroke-width="7.5" stroke-linecap="round" fill="none"/>
<text class="lg" x="1415.8" y="671.6">pH7</text>
<path d="M1360.9 714.8H1409.8" stroke="#00B0F0" stroke-width="7.5" stroke-linecap="round" fill="none"/>
<text class="lg" x="1415.8" y="725.1">pH9</text>
<path d="M1360.9 768.3H1409.8" stroke="#002060" stroke-width="7.5" stroke-linecap="round" fill="none"/>
<text class="lg" x="1415.8" y="778.7">pH12</text>
</g>
<g id="p5">
<rect class="ax" x="139" y="937.3" width="474.9" height="318.3" stroke-width="7" stroke-linejoin="round"/>
<path class="ax" stroke-width="6" d="M129.3 1255.6H139M129.3 1176H139M129.3 1096.4H139M129.3 1016.9H139M129.3 937.3H139M139 1255.6V1264.8M274.7 1255.6V1264.8M410.4 1255.6V1264.8M546.1 1255.6V1264.8"/>
<text class="tk" x="111.7" y="1265.4" text-anchor="end">0</text>
<text class="tk" x="111.7" y="1185.8" text-anchor="end">0.02</text>
<text class="tk" x="111.7" y="1106.2" text-anchor="end">0.04</text>
<text class="tk" x="111.7" y="1026.7" text-anchor="end">0.06</text>
<text class="tk" x="111.7" y="947.1" text-anchor="end">0.08</text>
<text class="tk" x="139" y="1301.5" text-anchor="middle">500</text>
<text class="tk" x="274.7" y="1301.5" text-anchor="middle">600</text>
<text class="tk" x="410.4" y="1301.5" text-anchor="middle">700</text>
<text class="tk" x="546.1" y="1301.5" text-anchor="middle">800</text>
<text class="ti" x="376.4" y="1350.8" text-anchor="middle">Wavelength (nm)</text>
<text class="ti" transform="translate(36.9 1310.4) rotate(-90)">Absorbance Intensity</text>
<text x="158.6" y="977" style="font-size:31px">IR794-Morph-Mpip</text>
<clipPath id="clip_p5"><rect x="137.5" y="937.3" width="478.7" height="320.9"/></clipPath>
<g clip-path="url(#clip_p5)">
<path class="c" stroke="#C00000" stroke-width="7.2" d="M137,1254.3L138.3,1254.3 139.7,1254.2 141,1254.1 142.4,1254 143.7,1253.8 145.1,1253.6 146.5,1253.4 147.8,1253.1 149.2,1252.8 150.5,1252.5 151.9,1252.2 153.2,1251.8 154.6,1251.5 156,1251.1 157.3,1250.8 158.7,1250.4 160,1250.1 161.4,1249.8 162.7,1249.4 164.1,1249.1 165.5,1248.8 166.8,1248.5 168.2,1248.1 169.5,1247.8 170.9,1247.5 172.2,1247.2 173.6,1246.9 175,1246.6 176.3,1246.2 177.7,1245.9 179,1245.6 180.4,1245.2 181.7,1244.9 183.1,1244.6 184.5,1244.2 185.8,1243.9 187.2,1243.5 188.5,1243.2 189.9,1242.8 191.2,1242.5 192.6,1242.1 194,1241.8 195.3,1241.4 196.7,1241 198,1240.7 199.4,1240.3 200.7,1239.9 202.1,1239.5 203.5,1239.1 204.8,1238.7 206.2,1238.3 207.5,1237.8 208.9,1237.4 210.2,1237 211.6,1236.5 212.9,1236 214.3,1235.5 215.7,1235 217,1234.5 218.4,1234 219.7,1233.5 221.1,1233 222.4,1232.4 223.8,1231.9 225.2,1231.3 226.5,1230.8 227.9,1230.2 229.2,1229.6 230.6,1229 231.9,1228.4 233.3,1227.8 234.7,1227.2 236,1226.6 237.4,1225.9 238.7,1225.3 240.1,1224.6 241.4,1224 242.8,1223.3 244.2,1222.6 245.5,1221.9 246.9,1221.2 248.2,1220.5 249.6,1219.8 250.9,1219.1 252.3,1218.3 253.7,1217.6 255,1216.8 256.4,1216.1 257.7,1215.3 259.1,1214.5 260.4,1213.7 261.8,1212.9 263.2,1212.1 264.5,1211.3 265.9,1210.4 267.2,1209.6 268.6,1208.8 269.9,1207.9 271.3,1207.1 272.7,1206.2 274,1205.4 275.4,1204.5 276.7,1203.6 278.1,1202.8 279.4,1201.9 280.8,1201 282.1,1200 283.5,1199.1 284.9,1198.2 286.2,1197.2 287.6,1196.2 288.9,1195.2 290.3,1194.2 291.6,1193.2 293,1192.1 294.4,1191.1 295.7,1190 297.1,1188.9 298.4,1187.8 299.8,1186.6 301.1,1185.5 302.5,1184.3 303.9,1183.2 305.2,1182 306.6,1180.8 307.9,1179.6 309.3,1178.3 310.6,1177.1 312,1175.8 313.4,1174.6 314.7,1173.3 316.1,1172 317.4,1170.7 318.8,1169.3 320.1,1168 321.5,1166.6 322.9,1165.2 324.2,1163.8 325.6,1162.4 326.9,1160.9 328.3,1159.5 329.6,1158 331,1156.4 332.4,1154.9 333.7,1153.3 335.1,1151.7 336.4,1150 337.8,1148.4 339.1,1146.6 340.5,1144.9 341.9,1143.1 343.2,1141.3 344.6,1139.4 345.9,1137.6 347.3,1135.7 348.6,1133.8 350,1131.9 351.3,1129.9 352.7,1128 354.1,1126.1 355.4,1124.1 356.8,1122.2 358.1,1120.2 359.5,1118.3 360.8,1116.4 362.2,1114.4 363.6,1112.5 364.9,1110.6 366.3,1108.6 367.6,1106.7 369,1104.8 370.3,1102.8 371.7,1100.8 373.1,1098.9 374.4,1096.9 375.8,1094.9 377.1,1092.9 378.5,1090.9 379.8,1088.9 381.2,1086.9 382.6,1084.9 383.9,1082.8 385.3,1080.7 386.6,1078.7 388,1076.6 389.3,1074.5 390.7,1072.3 392.1,1070.2 393.4,1068.1 394.8,1065.9 396.1,1063.8 397.5,1061.6 398.8,1059.4 400.2,1057.3 401.6,1055.1 402.9,1053 404.3,1050.8 405.6,1048.7 407,1046.6 408.3,1044.5 409.7,1042.4 411,1040.3 412.4,1038.3 413.8,1036.2 415.1,1034.2 416.5,1032.2 417.8,1030.2 419.2,1028.2 420.5,1026.2 421.9,1024.3 423.3,1022.4 424.6,1020.5 426,1018.6 427.3,1016.8 428.7,1015 430,1013.2 431.4,1011.5 432.8,1009.7 434.1,1008 435.5,1006.2 436.8,1004.5 438.2,1002.7 439.5,1000.9 440.9,999.1 442.3,997.3 443.6,995.5 445,993.7 446.3,991.8 447.7,990 449,988.2 450.4,986.4 451.8,984.7 453.1,982.9 454.5,981.2 455.8,979.6 457.2,977.9 458.5,976.3 459.9,974.8 461.3,973.3 462.6,971.8 464,970.5 465.3,969.1 466.7,967.9 468,966.7 469.4,965.6 470.8,964.6 472.1,963.7 473.5,962.9 474.8,962.1 476.2,961.5 477.5,961 478.9,960.6 480.2,960.4 481.6,960.2 483,960.3 484.3,960.4 485.7,960.8 487,961.2 488.4,961.9 489.7,962.7 491.1,963.8 492.5,965 493.8,966.4 495.2,968 496.5,969.8 497.9,971.8 499.2,974 500.6,976.4 502,979 503.3,981.9 504.7,984.9 506,988.2 507.4,991.8 508.7,995.7 510.1,999.9 511.5,1004.5 512.8,1009.4 514.2,1014.7 515.5,1020.5 516.9,1026.5 518.2,1032.9 519.6,1039.5 521,1046.3 522.3,1053.2 523.7,1060.2 525,1067.2 526.4,1074.3 527.7,1081.4 529.1,1088.6 530.5,1095.9 531.8,1103.3 533.2,1110.9 534.5,1118.5 535.9,1126.2 537.2,1133.9 538.6,1141.6 540,1149.1 541.3,1156.5 542.7,1163.7 544,1170.6 545.4,1177.1 546.7,1183.3 548.1,1189.2 549.4,1194.7 550.8,1199.9 552.2,1204.7 553.5,1209.3 554.9,1213.5 556.2,1217.5 557.6,1221.3 558.9,1224.9 560.3,1228.2 561.7,1231.4 563,1234.3 564.4,1236.9 565.7,1239.3 567.1,1241.3 568.4,1243.1 569.8,1244.7 571.2,1246 572.5,1247.1 573.9,1248 575.2,1248.8 576.6,1249.4 577.9,1249.9 579.3,1250.3 580.7,1250.6 582,1250.8 583.4,1251 584.7,1251.2 586.1,1251.3 587.4,1251.5 588.8,1251.6 590.2,1251.7 591.5,1251.7 592.9,1251.8 594.2,1251.9 595.6,1252 596.9,1252 598.3,1252.1 599.7,1252.2 601,1252.2 602.4,1252.3 603.7,1252.4 605.1,1252.4 606.4,1252.5 607.8,1252.5 609.2,1252.6 610.5,1252.6 611.9,1252.7 613.2,1252.7 614.6,1252.7 615.9,1252.7"/>
<path class="c" stroke="#FFC000" stroke-width="7.2" d="M137,1243.2L138.3,1243.2 139.7,1243.1 141,1243 142.4,1242.9 143.7,1242.8 145.1,1242.6 146.5,1242.5 147.8,1242.3 149.2,1242 150.5,1241.8 151.9,1241.6 153.2,1241.3 154.6,1241.1 156,1240.9 157.3,1240.6 158.7,1240.4 160,1240.2 161.4,1240 162.7,1239.8 164.1,1239.6 165.5,1239.4 166.8,1239.3 168.2,1239.1 169.5,1239 170.9,1238.8 172.2,1238.7 173.6,1238.5 175,1238.4 176.3,1238.3 177.7,1238.1 179,1238 180.4,1237.8 181.7,1237.7 183.1,1237.5 184.5,1237.3 185.8,1237.2 187.2,1237 188.5,1236.8 189.9,1236.6 191.2,1236.4 192.6,1236.2 194,1236 195.3,1235.8 196.7,1235.6 198,1235.3 199.4,1235.1 200.7,1234.8 202.1,1234.6 203.5,1234.3 204.8,1234 206.2,1233.7 207.5,1233.4 208.9,1233.1 210.2,1232.7 211.6,1232.4 212.9,1232 214.3,1231.7 215.7,1231.3 217,1230.9 218.4,1230.5 219.7,1230 221.1,1229.6 222.4,1229.1 223.8,1228.7 225.2,1228.2 226.5,1227.7 227.9,1227.2 229.2,1226.7 230.6,1226.1 231.9,1225.6 233.3,1225 234.7,1224.4 236,1223.8 237.4,1223.2 238.7,1222.6 240.1,1221.9 241.4,1221.3 242.8,1220.6 244.2,1219.9 245.5,1219.2 246.9,1218.5 248.2,1217.8 249.6,1217.1 250.9,1216.4 252.3,1215.7 253.7,1214.9 255,1214.2 256.4,1213.4 257.7,1212.7 259.1,1211.9 260.4,1211.1 261.8,1210.3 263.2,1209.5 264.5,1208.7 265.9,1207.9 267.2,1207.1 268.6,1206.3 269.9,1205.5 271.3,1204.7 272.7,1203.8 274,1203 275.4,1202.1 276.7,1201.3 278.1,1200.4 279.4,1199.6 280.8,1198.7 282.1,1197.8 283.5,1196.9 284.9,1196.1 286.2,1195.2 287.6,1194.2 288.9,1193.3 290.3,1192.4 291.6,1191.5 293,1190.6 294.4,1189.6 295.7,1188.7 297.1,1187.7 298.4,1186.7 299.8,1185.8 301.1,1184.8 302.5,1183.8 303.9,1182.8 305.2,1181.8 306.6,1180.8 307.9,1179.8 309.3,1178.8 310.6,1177.8 312,1176.8 313.4,1175.7 314.7,1174.7 316.1,1173.7 317.4,1172.6 318.8,1171.6 320.1,1170.5 321.5,1169.5 322.9,1168.4 324.2,1167.3 325.6,1166.2 326.9,1165.1 328.3,1163.9 329.6,1162.7 331,1161.5 332.4,1160.3 333.7,1159 335.1,1157.7 336.4,1156.4 337.8,1155 339.1,1153.6 340.5,1152.1 341.9,1150.6 343.2,1149.1 344.6,1147.5 345.9,1146 347.3,1144.4 348.6,1142.7 350,1141.1 351.3,1139.5 352.7,1137.8 354.1,1136.1 355.4,1134.4 356.8,1132.8 358.1,1131.1 359.5,1129.4 360.8,1127.7 362.2,1126 363.6,1124.3 364.9,1122.5 366.3,1120.8 367.6,1119.1 369,1117.3 370.3,1115.6 371.7,1113.8 373.1,1112 374.4,1110.2 375.8,1108.5 377.1,1106.7 378.5,1104.9 379.8,1103.1 381.2,1101.3 382.6,1099.5 383.9,1097.7 385.3,1095.8 386.6,1094 388,1092.2 389.3,1090.3 390.7,1088.5 392.1,1086.6 393.4,1084.8 394.8,1082.9 396.1,1081.1 397.5,1079.2 398.8,1077.4 400.2,1075.5 401.6,1073.7 402.9,1071.9 404.3,1070.1 405.6,1068.3 407,1066.5 408.3,1064.7 409.7,1063 411,1061.3 412.4,1059.6 413.8,1057.8 415.1,1056.2 416.5,1054.5 417.8,1052.8 419.2,1051.1 420.5,1049.5 421.9,1047.9 423.3,1046.2 424.6,1044.6 426,1043 427.3,1041.5 428.7,1039.9 430,1038.3 431.4,1036.8 432.8,1035.3 434.1,1033.8 435.5,1032.3 436.8,1030.9 438.2,1029.4 439.5,1028 440.9,1026.6 442.3,1025.2 443.6,1023.8 445,1022.4 446.3,1020.9 447.7,1019.5 449,1018.1 450.4,1016.7 451.8,1015.2 453.1,1013.8 454.5,1012.3 455.8,1010.8 457.2,1009.4 458.5,1007.9 459.9,1006.4 461.3,1005 462.6,1003.6 464,1002.3 465.3,1001 466.7,999.8 468,998.6 469.4,997.5 470.8,996.5 472.1,995.6 473.5,994.8 474.8,994 476.2,993.4 477.5,993 478.9,992.6 480.2,992.4 481.6,992.4 483,992.4 484.3,992.7 485.7,993 487,993.6 488.4,994.3 489.7,995.1 491.1,996.1 492.5,997.4 493.8,998.8 495.2,1000.4 496.5,1002.2 497.9,1004.3 499.2,1006.7 500.6,1009.2 502,1012 503.3,1015 504.7,1018.2 506,1021.6 507.4,1025.1 508.7,1028.8 510.1,1032.6 511.5,1036.6 512.8,1040.7 514.2,1045 515.5,1049.5 516.9,1054.3 518.2,1059.2 519.6,1064.4 521,1069.7 522.3,1075.3 523.7,1081 525,1086.9 526.4,1092.9 527.7,1099 529.1,1105.1 530.5,1111.2 531.8,1117.3 533.2,1123.3 534.5,1129.1 535.9,1134.9 537.2,1140.7 538.6,1146.4 540,1152.2 541.3,1158 542.7,1163.8 544,1169.6 545.4,1175.3 546.7,1180.9 548.1,1186.3 549.4,1191.4 550.8,1196.3 552.2,1200.9 553.5,1205.3 554.9,1209.4 556.2,1213.2 557.6,1216.8 558.9,1220.2 560.3,1223.3 561.7,1226.2 563,1228.8 564.4,1231.3 565.7,1233.5 567.1,1235.6 568.4,1237.5 569.8,1239.2 571.2,1240.7 572.5,1242 573.9,1243.2 575.2,1244.3 576.6,1245.2 577.9,1246 579.3,1246.7 580.7,1247.3 582,1247.8 583.4,1248.3 584.7,1248.6 586.1,1249 587.4,1249.3 588.8,1249.5 590.2,1249.7 591.5,1249.9 592.9,1250 594.2,1250.2 595.6,1250.3 596.9,1250.4 598.3,1250.5 599.7,1250.6 601,1250.7 602.4,1250.7 603.7,1250.8 605.1,1250.9 606.4,1250.9 607.8,1251 609.2,1251.1 610.5,1251.1 611.9,1251.2 613.2,1251.2 614.6,1251.3 615.9,1251.3"/>
<path class="c" stroke="#92D050" stroke-width="7.2" d="M137,1191.9L138.3,1191.9 139.7,1191.9 141,1191.9 142.4,1191.8 143.7,1191.8 145.1,1191.7 146.5,1191.7 147.8,1191.6 149.2,1191.5 150.5,1191.4 151.9,1191.3 153.2,1191.2 154.6,1191.1 156,1191 157.3,1190.9 158.7,1190.8 160,1190.7 161.4,1190.6 162.7,1190.5 164.1,1190.4 165.5,1190.2 166.8,1190.1 168.2,1190 169.5,1189.8 170.9,1189.7 172.2,1189.5 173.6,1189.3 175,1189.2 176.3,1189 177.7,1188.8 179,1188.6 180.4,1188.5 181.7,1188.3 183.1,1188.1 184.5,1187.8 185.8,1187.6 187.2,1187.4 188.5,1187.2 189.9,1186.9 191.2,1186.7 192.6,1186.4 194,1186.1 195.3,1185.8 196.7,1185.5 198,1185.2 199.4,1184.9 200.7,1184.5 202.1,1184.2 203.5,1183.8 204.8,1183.5 206.2,1183.1 207.5,1182.7 208.9,1182.3 210.2,1181.9 211.6,1181.5 212.9,1181.1 214.3,1180.7 215.7,1180.3 217,1179.8 218.4,1179.4 219.7,1178.9 221.1,1178.5 222.4,1178 223.8,1177.5 225.2,1177.1 226.5,1176.6 227.9,1176.1 229.2,1175.6 230.6,1175.2 231.9,1174.7 233.3,1174.2 234.7,1173.7 236,1173.3 237.4,1172.8 238.7,1172.3 240.1,1171.8 241.4,1171.3 242.8,1170.7 244.2,1170.2 245.5,1169.7 246.9,1169.1 248.2,1168.5 249.6,1167.9 250.9,1167.3 252.3,1166.7 253.7,1166.1 255,1165.5 256.4,1164.8 257.7,1164.1 259.1,1163.4 260.4,1162.7 261.8,1162 263.2,1161.3 264.5,1160.6 265.9,1159.8 267.2,1159.1 268.6,1158.3 269.9,1157.5 271.3,1156.7 272.7,1155.9 274,1155.1 275.4,1154.3 276.7,1153.4 278.1,1152.6 279.4,1151.7 280.8,1150.8 282.1,1149.9 283.5,1149 284.9,1148.1 286.2,1147.2 287.6,1146.3 288.9,1145.4 290.3,1144.5 291.6,1143.6 293,1142.6 294.4,1141.7 295.7,1140.7 297.1,1139.8 298.4,1138.8 299.8,1137.8 301.1,1136.8 302.5,1135.8 303.9,1134.8 305.2,1133.8 306.6,1132.7 307.9,1131.6 309.3,1130.5 310.6,1129.4 312,1128.2 313.4,1127.1 314.7,1125.9 316.1,1124.6 317.4,1123.4 318.8,1122.1 320.1,1120.9 321.5,1119.6 322.9,1118.3 324.2,1117 325.6,1115.7 326.9,1114.4 328.3,1113.1 329.6,1111.8 331,1110.5 332.4,1109.2 333.7,1108 335.1,1106.7 336.4,1105.4 337.8,1104.2 339.1,1102.9 340.5,1101.7 341.9,1100.4 343.2,1099.2 344.6,1098 345.9,1096.7 347.3,1095.5 348.6,1094.3 350,1093.1 351.3,1091.8 352.7,1090.6 354.1,1089.4 355.4,1088.2 356.8,1087 358.1,1085.8 359.5,1084.6 360.8,1083.4 362.2,1082.3 363.6,1081.1 364.9,1079.9 366.3,1078.7 367.6,1077.5 369,1076.3 370.3,1075.2 371.7,1074 373.1,1072.9 374.4,1071.8 375.8,1070.7 377.1,1069.6 378.5,1068.5 379.8,1067.5 381.2,1066.5 382.6,1065.6 383.9,1064.6 385.3,1063.7 386.6,1062.8 388,1062 389.3,1061.1 390.7,1060.3 392.1,1059.5 393.4,1058.7 394.8,1057.9 396.1,1057.2 397.5,1056.4 398.8,1055.7 400.2,1055 401.6,1054.4 402.9,1053.8 404.3,1053.2 405.6,1052.6 407,1052 408.3,1051.5 409.7,1051 411,1050.6 412.4,1050.1 413.8,1049.7 415.1,1049.3 416.5,1048.9 417.8,1048.5 419.2,1048.1 420.5,1047.8 421.9,1047.4 423.3,1047.1 424.6,1046.8 426,1046.5 427.3,1046.2 428.7,1045.9 430,1045.6 431.4,1045.3 432.8,1045.1 434.1,1044.8 435.5,1044.6 436.8,1044.3 438.2,1044.1 439.5,1043.8 440.9,1043.6 442.3,1043.4 443.6,1043.2 445,1043 446.3,1042.8 447.7,1042.7 449,1042.5 450.4,1042.4 451.8,1042.3 453.1,1042.3 454.5,1042.2 455.8,1042.2 457.2,1042.2 458.5,1042.3 459.9,1042.3 461.3,1042.4 462.6,1042.5 464,1042.6 465.3,1042.8 466.7,1043 468,1043.2 469.4,1043.5 470.8,1043.9 472.1,1044.3 473.5,1044.8 474.8,1045.4 476.2,1046.1 477.5,1046.9 478.9,1047.8 480.2,1048.8 481.6,1050 483,1051.2 484.3,1052.6 485.7,1054.1 487,1055.7 488.4,1057.5 489.7,1059.3 491.1,1061.4 492.5,1063.5 493.8,1065.8 495.2,1068.3 496.5,1070.8 497.9,1073.5 499.2,1076.3 500.6,1079.1 502,1082.1 503.3,1085.1 504.7,1088.2 506,1091.3 507.4,1094.4 508.7,1097.6 510.1,1100.8 511.5,1104 512.8,1107.4 514.2,1110.8 515.5,1114.3 516.9,1118 518.2,1121.9 519.6,1125.9 521,1130.1 522.3,1134.3 523.7,1138.7 525,1143.2 526.4,1147.7 527.7,1152.3 529.1,1156.8 530.5,1161.4 531.8,1165.8 533.2,1170.2 534.5,1174.5 535.9,1178.6 537.2,1182.4 538.6,1186.1 540,1189.4 541.3,1192.3 542.7,1195 544,1197.3 545.4,1199.3 546.7,1217.5 548.1,1219.1 549.4,1220.7 550.8,1222.2 552.2,1223.6 553.5,1225 554.9,1226.4 556.2,1227.6 557.6,1228.9 558.9,1230 560.3,1231.1 561.7,1232.1 563,1233.1 564.4,1234 565.7,1234.9 567.1,1235.7 568.4,1236.5 569.8,1237.2 571.2,1237.9 572.5,1238.5 573.9,1239.1 575.2,1239.6 576.6,1240.2 577.9,1240.7 579.3,1241.1 580.7,1241.5 582,1241.9 583.4,1242.3 584.7,1242.6 586.1,1242.9 587.4,1243.2 588.8,1243.5 590.2,1243.7 591.5,1243.9 592.9,1244.1 594.2,1244.3 595.6,1244.5 596.9,1244.7 598.3,1244.8 599.7,1245 601,1245.1 602.4,1245.2 603.7,1245.4 605.1,1245.5 606.4,1245.6 607.8,1245.7 609.2,1245.8 610.5,1245.9 611.9,1246 613.2,1246.1 614.6,1246.1 615.9,1246.2"/>
<path class="c" stroke="#00B0F0" stroke-width="7.2" d="M137,1249.2L138.3,1249.1 139.7,1249.1 141,1249 142.4,1248.9 143.7,1248.8 145.1,1248.6 146.5,1248.4 147.8,1248.2 149.2,1248 150.5,1247.7 151.9,1247.4 153.2,1247.1 154.6,1246.9 156,1246.6 157.3,1246.2 158.7,1245.9 160,1245.6 161.4,1245.3 162.7,1245 164.1,1244.7 165.5,1244.3 166.8,1244 168.2,1243.7 169.5,1243.3 170.9,1243 172.2,1242.6 173.6,1242.2 175,1241.9 176.3,1241.5 177.7,1241.1 179,1240.7 180.4,1240.3 181.7,1239.9 183.1,1239.4 184.5,1239 185.8,1238.6 187.2,1238.2 188.5,1237.7 189.9,1237.3 191.2,1236.9 192.6,1236.4 194,1235.9 195.3,1235.5 196.7,1235 198,1234.5 199.4,1234 200.7,1233.5 202.1,1233 203.5,1232.4 204.8,1231.9 206.2,1231.3 207.5,1230.7 208.9,1230.1 210.2,1229.4 211.6,1228.8 212.9,1228.1 214.3,1227.4 215.7,1226.6 217,1225.9 218.4,1225.1 219.7,1224.3 221.1,1223.5 222.4,1222.7 223.8,1221.9 225.2,1221 226.5,1220.2 227.9,1219.3 229.2,1218.4 230.6,1217.5 231.9,1216.6 233.3,1215.7 234.7,1214.7 236,1213.8 237.4,1212.8 238.7,1211.8 240.1,1210.8 241.4,1209.8 242.8,1208.8 244.2,1207.8 245.5,1206.7 246.9,1205.7 248.2,1204.6 249.6,1203.5 250.9,1202.4 252.3,1201.3 253.7,1200.2 255,1199.1 256.4,1198 257.7,1196.8 259.1,1195.7 260.4,1194.5 261.8,1193.4 263.2,1192.2 264.5,1191.1 265.9,1189.9 267.2,1188.8 268.6,1187.6 269.9,1186.5 271.3,1185.3 272.7,1184.2 274,1183.1 275.4,1181.9 276.7,1180.8 278.1,1179.7 279.4,1178.5 280.8,1177.4 282.1,1176.2 283.5,1175.1 284.9,1174 286.2,1172.8 287.6,1171.7 288.9,1170.6 290.3,1169.4 291.6,1168.3 293,1167.2 294.4,1166 295.7,1164.9 297.1,1163.8 298.4,1162.6 299.8,1161.5 301.1,1160.4 302.5,1159.3 303.9,1158.2 305.2,1157.1 306.6,1156 307.9,1154.9 309.3,1153.8 310.6,1152.7 312,1151.7 313.4,1150.6 314.7,1149.5 316.1,1148.5 317.4,1147.4 318.8,1146.4 320.1,1145.4 321.5,1144.3 322.9,1143.3 324.2,1142.3 325.6,1141.3 326.9,1140.2 328.3,1139.2 329.6,1138.2 331,1137.1 332.4,1136.1 333.7,1135 335.1,1134 336.4,1132.9 337.8,1131.9 339.1,1130.8 340.5,1129.7 341.9,1128.6 343.2,1127.5 344.6,1126.4 345.9,1125.4 347.3,1124.3 348.6,1123.2 350,1122.1 351.3,1121.1 352.7,1120.1 354.1,1119.1 355.4,1118.1 356.8,1117.1 358.1,1116.1 359.5,1115.2 360.8,1114.3 362.2,1113.3 363.6,1112.4 364.9,1111.5 366.3,1110.7 367.6,1109.8 369,1109 370.3,1108.1 371.7,1107.3 373.1,1106.5 374.4,1105.7 375.8,1105 377.1,1104.3 378.5,1103.6 379.8,1102.9 381.2,1102.3 382.6,1101.7 383.9,1101.1 385.3,1100.5 386.6,1100 388,1099.5 389.3,1099 390.7,1098.5 392.1,1098.1 393.4,1097.7 394.8,1097.3 396.1,1096.9 397.5,1096.6 398.8,1096.3 400.2,1096 401.6,1095.7 402.9,1095.5 404.3,1095.3 405.6,1095.2 407,1095 408.3,1094.9 409.7,1094.8 411,1094.7 412.4,1094.7 413.8,1094.6 415.1,1094.6 416.5,1094.6 417.8,1094.6 419.2,1094.6 420.5,1094.7 421.9,1094.7 423.3,1094.8 424.6,1094.9 426,1095 427.3,1095.1 428.7,1095.2 430,1095.4 431.4,1095.5 432.8,1095.7 434.1,1095.8 435.5,1096 436.8,1096.2 438.2,1096.5 439.5,1096.7 440.9,1097 442.3,1097.3 443.6,1097.6 445,1097.9 446.3,1098.3 447.7,1098.6 449,1099 450.4,1099.4 451.8,1099.9 453.1,1100.3 454.5,1100.8 455.8,1101.2 457.2,1101.8 458.5,1102.3 459.9,1102.9 461.3,1103.5 462.6,1104.1 464,1104.8 465.3,1105.5 466.7,1106.2 468,1107 469.4,1107.8 470.8,1108.7 472.1,1109.6 473.5,1110.6 474.8,1111.6 476.2,1112.7 477.5,1113.9 478.9,1115.1 480.2,1116.4 481.6,1117.8 483,1119.3 484.3,1120.8 485.7,1122.4 487,1124.1 488.4,1125.9 489.7,1127.8 491.1,1129.9 492.5,1132 493.8,1134.4 495.2,1136.9 496.5,1139.5 497.9,1142.2 499.2,1145.1 500.6,1148.1 502,1151.1 503.3,1154.2 504.7,1157.3 506,1160.5 507.4,1163.7 508.7,1166.9 510.1,1170.1 511.5,1173.3 512.8,1176.5 514.2,1179.7 515.5,1182.9 516.9,1186.1 518.2,1189.3 519.6,1192.4 521,1195.5 522.3,1198.6 523.7,1201.6 525,1204.6 526.4,1207.5 527.7,1210.4 529.1,1213.2 530.5,1215.9 531.8,1218.5 533.2,1221 534.5,1223.4 535.9,1225.7 537.2,1227.9 538.6,1229.9 540,1231.9 541.3,1233.7 542.7,1235.4 544,1237.1 545.4,1238.7 546.7,1240.3 548.1,1241.9 549.4,1243.5 550.8,1245.1 552.2,1246.6 553.5,1248.1 554.9,1249.5 556.2,1250.9 557.6,1252.1 558.9,1253.1 560.3,1254 561.7,1254.8 563,1255.4 564.4,1255.9 565.7,1256.2 567.1,1256.5 568.4,1256.6 569.8,1256.8 571.2,1256.9 572.5,1256.9 573.9,1257 575.2,1257 576.6,1257.1 577.9,1257.1 579.3,1257.1 580.7,1257.2 582,1257.2 583.4,1257.2 584.7,1257.2 586.1,1257.2 587.4,1257.2 588.8,1257.2 590.2,1257.2 591.5,1257.2 592.9,1257.2 594.2,1257.2 595.6,1257.2 596.9,1257.2 598.3,1257.2 599.7,1257.2 601,1257.2 602.4,1257.2 603.7,1257.2 605.1,1257.2 606.4,1257.2 607.8,1257.2 609.2,1257.2 610.5,1257.2 611.9,1257.2 613.2,1257.2 614.6,1257.2 615.9,1257.2"/>
<path class="c" stroke="#002060" stroke-width="7.2" d="M137,1232.8L138.3,1232.9 139.7,1232.9 141,1233 142.4,1233 143.7,1233.1 145.1,1233.2 146.5,1233.3 147.8,1233.4 149.2,1233.5 150.5,1233.5 151.9,1233.6 153.2,1233.7 154.6,1233.8 156,1233.8 157.3,1233.9 158.7,1233.9 160,1234 161.4,1234 162.7,1234 164.1,1234 165.5,1234 166.8,1234 168.2,1234 169.5,1234 170.9,1233.9 172.2,1233.9 173.6,1233.8 175,1233.6 176.3,1233.5 177.7,1233.4 179,1233.2 180.4,1233 181.7,1232.9 183.1,1232.7 184.5,1232.4 185.8,1232.2 187.2,1232 188.5,1231.8 189.9,1231.5 191.2,1231.2 192.6,1230.9 194,1230.6 195.3,1230.3 196.7,1230 198,1229.6 199.4,1229.2 200.7,1228.8 202.1,1228.4 203.5,1228 204.8,1227.6 206.2,1227.2 207.5,1226.7 208.9,1226.3 210.2,1225.8 211.6,1225.3 212.9,1224.8 214.3,1224.3 215.7,1223.8 217,1223.3 218.4,1222.7 219.7,1222.2 221.1,1221.6 222.4,1221 223.8,1220.4 225.2,1219.9 226.5,1219.3 227.9,1218.7 229.2,1218.1 230.6,1217.5 231.9,1216.9 233.3,1216.3 234.7,1215.6 236,1215 237.4,1214.4 238.7,1213.8 240.1,1213.1 241.4,1212.5 242.8,1211.8 244.2,1211.2 245.5,1210.5 246.9,1209.8 248.2,1209.2 249.6,1208.5 250.9,1207.8 252.3,1207.2 253.7,1206.5 255,1205.8 256.4,1205.1 257.7,1204.5 259.1,1203.8 260.4,1203.1 261.8,1202.4 263.2,1201.7 264.5,1201.1 265.9,1200.4 267.2,1199.7 268.6,1199.1 269.9,1198.4 271.3,1197.8 272.7,1197.1 274,1196.5 275.4,1195.8 276.7,1195.2 278.1,1194.6 279.4,1194 280.8,1193.3 282.1,1192.7 283.5,1192.1 284.9,1191.4 286.2,1190.8 287.6,1190.2 288.9,1189.6 290.3,1189 291.6,1188.3 293,1187.7 294.4,1187.1 295.7,1186.5 297.1,1185.8 298.4,1185.2 299.8,1184.6 301.1,1184 302.5,1183.3 303.9,1182.7 305.2,1182.1 306.6,1181.4 307.9,1180.8 309.3,1180.2 310.6,1179.5 312,1178.9 313.4,1178.2 314.7,1177.6 316.1,1176.9 317.4,1176.3 318.8,1175.6 320.1,1175 321.5,1174.3 322.9,1173.7 324.2,1173 325.6,1172.4 326.9,1171.8 328.3,1171.1 329.6,1170.5 331,1169.9 332.4,1169.3 333.7,1168.6 335.1,1168 336.4,1167.4 337.8,1166.8 339.1,1166.2 340.5,1165.6 341.9,1165 343.2,1164.4 344.6,1163.8 345.9,1163.3 347.3,1162.7 348.6,1162.2 350,1161.6 351.3,1161.1 352.7,1160.6 354.1,1160.2 355.4,1159.7 356.8,1159.3 358.1,1158.9 359.5,1158.6 360.8,1158.2 362.2,1157.9 363.6,1157.6 364.9,1157.3 366.3,1157.1 367.6,1156.9 369,1156.7 370.3,1156.5 371.7,1156.3 373.1,1156.2 374.4,1156.1 375.8,1156 377.1,1155.9 378.5,1155.9 379.8,1155.8 381.2,1155.8 382.6,1155.8 383.9,1155.8 385.3,1155.8 386.6,1155.8 388,1155.8 389.3,1155.8 390.7,1155.9 392.1,1156 393.4,1156.1 394.8,1156.2 396.1,1156.4 397.5,1156.6 398.8,1156.8 400.2,1157 401.6,1157.3 402.9,1157.6 404.3,1157.9 405.6,1158.2 407,1158.5 408.3,1158.9 409.7,1159.3 411,1159.7 412.4,1160.1 413.8,1160.5 415.1,1161 416.5,1161.5 417.8,1162 419.2,1162.5 420.5,1163 421.9,1163.6 423.3,1164.2 424.6,1164.8 426,1165.4 427.3,1166 428.7,1166.6 430,1167.2 431.4,1167.8 432.8,1168.4 434.1,1169 435.5,1169.6 436.8,1170.1 438.2,1170.7 439.5,1171.3 440.9,1171.9 442.3,1172.5 443.6,1173.1 445,1173.7 446.3,1174.3 447.7,1175 449,1175.6 450.4,1176.2 451.8,1176.8 453.1,1177.4 454.5,1178.1 455.8,1178.7 457.2,1179.3 458.5,1179.9 459.9,1180.6 461.3,1181.2 462.6,1181.9 464,1182.5 465.3,1183.2 466.7,1183.9 468,1184.6 469.4,1185.3 470.8,1186 472.1,1186.7 473.5,1187.5 474.8,1188.2 476.2,1189 477.5,1189.8 478.9,1190.6 480.2,1191.4 481.6,1192.3 483,1193.1 484.3,1193.9 485.7,1194.8 487,1195.7 488.4,1196.6 489.7,1197.5 491.1,1198.5 492.5,1199.5 493.8,1200.4 495.2,1201.5 496.5,1202.5 497.9,1203.6 499.2,1204.7 500.6,1205.8 502,1206.9 503.3,1208.1 504.7,1209.2 506,1210.4 507.4,1211.6 508.7,1212.8 510.1,1214 511.5,1215.2 512.8,1216.4 514.2,1217.6 515.5,1218.8 516.9,1220 518.2,1221.2 519.6,1222.3 521,1223.5 522.3,1224.6 523.7,1225.7 525,1226.8 526.4,1227.8 527.7,1228.8 529.1,1229.8 530.5,1230.8 531.8,1231.7 533.2,1232.6 534.5,1233.4 535.9,1234.2 537.2,1234.9 538.6,1235.6 540,1236.2 541.3,1236.8 542.7,1237.4 544,1237.9 545.4,1238.4 546.7,1246.1 548.1,1246.5 549.4,1246.9 550.8,1247.3 552.2,1247.6 553.5,1248 554.9,1248.3 556.2,1248.5 557.6,1248.8 558.9,1249 560.3,1249.3 561.7,1249.5 563,1249.7 564.4,1249.8 565.7,1250 567.1,1250.1 568.4,1250.3 569.8,1250.4 571.2,1250.5 572.5,1250.7 573.9,1250.8 575.2,1250.9 576.6,1251 577.9,1251.1 579.3,1251.2 580.7,1251.2 582,1251.3 583.4,1251.4 584.7,1251.5 586.1,1251.5 587.4,1251.6 588.8,1251.6 590.2,1251.7 591.5,1251.7 592.9,1251.7 594.2,1251.8 595.6,1251.8 596.9,1251.9 598.3,1251.9 599.7,1251.9 601,1251.9 602.4,1252 603.7,1252 605.1,1252 606.4,1252.1 607.8,1252.1 609.2,1252.1 610.5,1252.2 611.9,1252.2 613.2,1252.2 614.6,1252.3 615.9,1252.3"/>
</g>
<path d="M626.2 987H675.9" stroke="#C00000" stroke-width="7.5" stroke-linecap="round" fill="none"/>
<text class="lg" x="681.1" y="997.4">pH3</text>
<path d="M626.2 1037.1H675.9" stroke="#FFC000" stroke-width="7.5" stroke-linecap="round" fill="none"/>
<text class="lg" x="681.1" y="1047.5">pH5</text>
<path d="M626.2 1087.2H675.9" stroke="#92D050" stroke-width="7.5" stroke-linecap="round" fill="none"/>
<text class="lg" x="681.1" y="1097.6">pH7</text>
<path d="M626.2 1137.3H675.9" stroke="#00B0F0" stroke-width="7.5" stroke-linecap="round" fill="none"/>
<text class="lg" x="681.1" y="1147.7">pH9</text>
<path d="M626.2 1187.4H675.9" stroke="#002060" stroke-width="7.5" stroke-linecap="round" fill="none"/>
<text class="lg" x="681.1" y="1197.8">pH12</text>
</g>
<g id="p6">
<rect class="ax" x="929.3" y="949.4" width="414.9" height="311.4" stroke-width="7" stroke-linejoin="round"/>
<path class="ax" stroke-width="6" d="M919.6 1260.8H929.3M919.6 1183H929.3M919.6 1105.1H929.3M919.6 1027.2H929.3M919.6 949.4H929.3M929.3 1260.8V1270M1015.7 1260.8V1270M1102.2 1260.8V1270M1188.6 1260.8V1270M1275.1 1260.8V1270"/>
<text class="tk" x="901.7" y="1270.6" text-anchor="end">0</text>
<text class="tk" x="901.7" y="1192.8" text-anchor="end">2</text>
<text class="tk" x="901.7" y="1114.9" text-anchor="end">4</text>
<text class="tk" x="901.7" y="1037" text-anchor="end">6</text>
<text class="tk" x="901.7" y="959.2" text-anchor="end">8</text>
<text class="tk" x="929.3" y="1307.4" text-anchor="middle">760</text>
<text class="tk" x="1015.7" y="1307.4" text-anchor="middle">810</text>
<text class="tk" x="1102.2" y="1307.4" text-anchor="middle">860</text>
<text class="tk" x="1188.6" y="1307.4" text-anchor="middle">910</text>
<text class="tk" x="1275.1" y="1307.4" text-anchor="middle">960</text>
<text class="ti" x="1136.8" y="1355.8" text-anchor="middle">Wavelength (nm)</text>
<text class="ti" transform="translate(869.9 1275.3) rotate(-90)">Emission Intensity</text>
<clipPath id="clip_p6"><rect x="927.8" y="949.4" width="418.7" height="313.1"/></clipPath>
<g clip-path="url(#clip_p6)">
<path class="c" stroke="#C00000" stroke-width="8.0" d="M926.7,1227.2L927.6,1226.1 928.4,1225 929.3,1223.8 930.2,1222.6 931,1221.2 931.9,1219.8 932.8,1218.3 933.6,1216.6 934.5,1214.9 935.4,1212.9 936.2,1210.9 937.1,1208.9 937.9,1206.9 938.8,1205 939.7,1203.1 940.5,1201.1 941.4,1199 942.3,1196.8 943.1,1194.6 944,1192.6 944.9,1190.7 945.7,1188.9 946.6,1187 947.5,1185 948.3,1182.8 949.2,1180.5 950,1177.9 950.9,1175.2 951.8,1172.4 952.6,1169.6 953.5,1167.1 954.4,1164.8 955.2,1162.6 956.1,1160.4 957,1157.9 957.8,1155.2 958.7,1152.2 959.6,1149.1 960.4,1145.9 961.3,1142.8 962.1,1139.5 963,1136.3 963.9,1132.9 964.7,1129.4 965.6,1125.9 966.5,1122.4 967.3,1119.1 968.2,1115.8 969.1,1112.6 969.9,1109.2 970.8,1105.5 971.7,1101.5 972.5,1097.4 973.4,1093.4 974.2,1089.7 975.1,1086.1 976,1082.8 976.8,1079.4 977.7,1075.9 978.6,1072.1 979.4,1068.2 980.3,1064.3 981.2,1060.4 982,1056.6 982.9,1053 983.8,1049.4 984.6,1045.9 985.5,1042.4 986.3,1039.1 987.2,1035.7 988.1,1032.2 988.9,1028.7 989.8,1025.1 990.7,1021.6 991.5,1018 992.4,1014.4 993.3,1010.9 994.1,1007.4 995,1004.3 995.9,1001.4 996.7,998.9 997.6,996.7 998.4,994.7 999.3,993 1000.2,991.3 1001,989.7 1001.9,988 1002.8,986.2 1003.6,984.3 1004.5,982.5 1005.4,980.9 1006.2,979.4 1007.1,978 1008,976.6 1008.8,975.3 1009.7,974.1 1010.6,973 1011.4,972.1 1012.3,971.4 1013.1,970.8 1014,970.5 1014.9,970.3 1015.7,970.3 1016.6,970.5 1017.5,970.7 1018.3,971 1019.2,971.3 1020.1,971.6 1020.9,972.1 1021.8,972.9 1022.7,974 1023.5,975.2 1024.4,976.7 1025.2,978.2 1026.1,979.7 1027,981.2 1027.8,982.7 1028.7,984.5 1029.6,986.5 1030.4,988.6 1031.3,990.7 1032.2,992.8 1033,994.9 1033.9,996.9 1034.8,999 1035.6,1001.2 1036.5,1003.4 1037.3,1005.7 1038.2,1008 1039.1,1010.2 1039.9,1012.4 1040.8,1014.6 1041.7,1016.8 1042.5,1019 1043.4,1021.3 1044.3,1023.7 1045.1,1026.2 1046,1028.7 1046.9,1031.3 1047.7,1033.8 1048.6,1036.3 1049.4,1038.7 1050.3,1041 1051.2,1043.3 1052,1045.6 1052.9,1048 1053.8,1050.3 1054.6,1052.6 1055.5,1054.8 1056.4,1057 1057.2,1059.2 1058.1,1061.6 1059,1064 1059.8,1066.4 1060.7,1068.8 1061.5,1071.2 1062.4,1073.7 1063.3,1076.1 1064.1,1078.7 1065,1081.3 1065.9,1084 1066.7,1086.5 1067.6,1088.9 1068.5,1091.1 1069.3,1093.1 1070.2,1095.1 1071.1,1097.2 1071.9,1099.6 1072.8,1102.1 1073.7,1104.5 1074.5,1106.8 1075.4,1108.9 1076.2,1110.9 1077.1,1112.9 1078,1114.8 1078.8,1116.9 1079.7,1119 1080.6,1121.2 1081.4,1123.4 1082.3,1125.5 1083.2,1127.6 1084,1129.5 1084.9,1131.4 1085.8,1133.2 1086.6,1134.7 1087.5,1136 1088.3,1137.2 1089.2,1138.3 1090.1,1139.4 1090.9,1140.7 1091.8,1142.1 1092.7,1143.6 1093.5,1145.1 1094.4,1146.4 1095.3,1147.7 1096.1,1148.9 1097,1150.1 1097.9,1151.3 1098.7,1152.6 1099.6,1153.9 1100.4,1155.2 1101.3,1156.4 1102.2,1157.5 1103,1158.6 1103.9,1159.8 1104.8,1161 1105.6,1162.2 1106.5,1163.3 1107.4,1164.5 1108.2,1165.8 1109.1,1167.2 1110,1168.5 1110.8,1169.9 1111.7,1171 1112.5,1172 1113.4,1172.8 1114.3,1173.6 1115.1,1174.4 1116,1175.3 1116.9,1176.1 1117.7,1176.9 1118.6,1177.7 1119.5,1178.5 1120.3,1179.2 1121.2,1179.9 1122.1,1180.6 1122.9,1181.1 1123.8,1181.6 1124.6,1182 1125.5,1182.4 1126.4,1182.6 1127.2,1182.7 1128.1,1182.7 1129,1182.8 1129.8,1183.1 1130.7,1183.4 1131.6,1183.9 1132.4,1184.4 1133.3,1184.8 1134.2,1185.3 1135,1185.8 1135.9,1186.2 1136.8,1186.6 1137.6,1187.1 1138.5,1187.5 1139.3,1188.1 1140.2,1188.6 1141.1,1189.3 1141.9,1190 1142.8,1190.8 1143.7,1191.5 1144.5,1192.4 1145.4,1193.3 1146.3,1194.3 1147.1,1195.2 1148,1195.9 1148.9,1196.4 1149.7,1196.7 1150.6,1197 1151.4,1197.4 1152.3,1197.8 1153.2,1198.3 1154,1198.8 1154.9,1199.4 1155.8,1199.8 1156.6,1200 1157.5,1200 1158.4,1200 1159.2,1199.8 1160.1,1199.7 1161,1199.6 1161.8,1199.5 1162.7,1199.4 1163.5,1199.3 1164.4,1199.3 1165.3,1199.3 1166.1,1199.4 1167,1199.5 1167.9,1199.8 1168.7,1200.1 1169.6,1200.5 1170.5,1200.9 1171.3,1201.3 1172.2,1201.9 1173.1,1202.5 1173.9,1203.1 1174.8,1203.6 1175.6,1204.1 1176.5,1204.5 1177.4,1204.8 1178.2,1205.2 1179.1,1205.5 1180,1205.8 1180.8,1206.1 1181.7,1206.4 1182.6,1206.7 1183.4,1206.9 1184.3,1207 1185.2,1206.9 1186,1206.4 1186.9,1205.8 1187.7,1205.2 1188.6,1204.9 1189.5,1204.9 1190.3,1205.1 1191.2,1205.2 1192.1,1205.4 1192.9,1205.6 1193.8,1206 1194.7,1206.4 1195.5,1206.9 1196.4,1207.5 1197.3,1208.1 1198.1,1208.6 1199,1209 1199.8,1209.3 1200.7,1209.5 1201.6,1209.7 1202.4,1210 1203.3,1210.3 1204.2,1210.6 1205,1211 1205.9,1211.4 1206.8,1211.9 1207.6,1212.4 1208.5,1212.9 1209.4,1213.4 1210.2,1214 1211.1,1214.5 1212,1215.1 1212.8,1215.6 1213.7,1216.3 1214.5,1216.9 1215.4,1217.5 1216.3,1217.9 1217.1,1218.3 1218,1218.5 1218.9,1218.7 1219.7,1218.8 1220.6,1219 1221.5,1219.4 1222.3,1219.9 1223.2,1220.5 1224.1,1221.1 1224.9,1221.7 1225.8,1222.2 1226.6,1222.5 1227.5,1222.9 1228.4,1223.2 1229.2,1223.6 1230.1,1223.9 1231,1224.2 1231.8,1224.5 1232.7,1224.8 1233.6,1225.2 1234.4,1225.6 1235.3,1226 1236.2,1226.3 1237,1226.6 1237.9,1226.8 1238.7,1227 1239.6,1227.1 1240.5,1227.2 1241.3,1227.3 1242.2,1227.4 1243.1,1227.7 1243.9,1228.1 1244.8,1228.6 1245.7,1229.1 1246.5,1229.6 1247.4,1230 1248.3,1230.3 1249.1,1230.7 1250,1231.1 1250.8,1231.5 1251.7,1231.8 1252.6,1231.9 1253.4,1232.1 1254.3,1232.2 1255.2,1232.4 1256,1232.7 1256.9,1233 1257.8,1233.4 1258.6,1233.7 1259.5,1234.2 1260.4,1234.7 1261.2,1235.2 1262.1,1235.8 1262.9,1236.4 1263.8,1236.9 1264.7,1237.3 1265.5,1237.7 1266.4,1238.1 1267.3,1238.5 1268.1,1239 1269,1239.5 1269.9,1240 1270.7,1240.5 1271.6,1241 1272.5,1241.4 1273.3,1241.9 1274.2,1242.3 1275.1,1242.6 1275.9,1242.9 1276.8,1243.1 1277.6,1243.2 1278.5,1243.1 1279.4,1243.1 1280.2,1243.2 1281.1,1243.3 1282,1243.6 1282.8,1243.7 1283.7,1243.6 1284.6,1243.2 1285.4,1242.7 1286.3,1242.1 1287.2,1241.7 1288,1241.4 1288.9,1241.1 1289.7,1240.9 1290.6,1240.7 1291.5,1240.5 1292.3,1240.5 1293.2,1240.6 1294.1,1240.9 1294.9,1241.5 1295.8,1242.3 1296.7,1243.2 1297.5,1244.1 1298.4,1245 1299.3,1245.8 1300.1,1246.4 1301,1246.8 1301.8,1246.9 1302.7,1246.9 1303.6,1246.8 1304.4,1246.5 1305.3,1246.3 1306.2,1246.1 1307,1246.1 1307.9,1246.3 1308.8,1246.7 1309.6,1247.2 1310.5,1247.8 1311.4,1248.3 1312.2,1248.7 1313.1,1248.9 1313.9,1249 1314.8,1249 1315.7,1249.1 1316.5,1249.1 1317.4,1249.2 1318.3,1249.3 1319.1,1249.4 1320,1249.6 1320.9,1249.8 1321.7,1250.2 1322.6,1250.5 1323.5,1250.9 1324.3,1251 1325.2,1251 1326,1250.9 1326.9,1250.8 1327.8,1250.8 1328.6,1250.9 1329.5,1251 1330.4,1251.1 1331.2,1251.3 1332.1,1251.4 1333,1251.5 1333.8,1251.6 1334.7,1251.8 1335.6,1252 1336.4,1252.3 1337.3,1252.5 1338.1,1252.8 1339,1252.9 1339.9,1253 1340.7,1253 1341.6,1253 1342.5,1253 1343.3,1253 1344.2,1252.9 1345.1,1252.8 1345.9,1252.8 1346.8,1252.8"/>
<path class="c" stroke="#FFC000" stroke-width="8.0" d="M926.7,1237L927.6,1236 928.4,1235.1 929.3,1234.2 930.2,1233.4 931,1232.6 931.9,1231.9 932.8,1231.1 933.6,1230.2 934.5,1229.2 935.4,1228 936.2,1226.9 937.1,1225.7 937.9,1224.6 938.8,1223.5 939.7,1222.4 940.5,1221.3 941.4,1220.3 942.3,1219.2 943.1,1218.2 944,1217.3 944.9,1216.2 945.7,1215.2 946.6,1214.1 947.5,1213 948.3,1211.8 949.2,1210.6 950,1209.3 950.9,1208 951.8,1206.7 952.6,1205.4 953.5,1204 954.4,1202.4 955.2,1200.8 956.1,1199.1 957,1197.4 957.8,1195.6 958.7,1193.9 959.6,1192.3 960.4,1190.6 961.3,1188.9 962.1,1187.2 963,1185.5 963.9,1183.8 964.7,1181.9 965.6,1179.8 966.5,1177.6 967.3,1175.3 968.2,1173.1 969.1,1170.9 969.9,1168.9 970.8,1167 971.7,1165.3 972.5,1163.7 973.4,1162.1 974.2,1160.3 975.1,1158.4 976,1156.4 976.8,1154.5 977.7,1152.8 978.6,1151.2 979.4,1149.7 980.3,1148.3 981.2,1147 982,1145.7 982.9,1144.5 983.8,1143.3 984.6,1142 985.5,1140.8 986.3,1139.7 987.2,1138.7 988.1,1137.9 988.9,1137.2 989.8,1136.5 990.7,1135.9 991.5,1135.5 992.4,1135.1 993.3,1134.8 994.1,1134.5 995,1134.2 995.9,1133.7 996.7,1133.1 997.6,1132.3 998.4,1131.6 999.3,1130.9 1000.2,1130.6 1001,1130.5 1001.9,1130.6 1002.8,1130.8 1003.6,1130.9 1004.5,1131 1005.4,1131 1006.2,1131 1007.1,1131.3 1008,1131.7 1008.8,1132.2 1009.7,1132.6 1010.6,1132.8 1011.4,1132.8 1012.3,1132.6 1013.1,1132.4 1014,1132.3 1014.9,1132.4 1015.7,1132.8 1016.6,1133.4 1017.5,1134.1 1018.3,1134.8 1019.2,1135.5 1020.1,1136 1020.9,1136.4 1021.8,1136.9 1022.7,1137.7 1023.5,1139.1 1024.4,1141 1025.2,1143.2 1026.1,1145.7 1027,1148.2 1027.8,1150.5 1028.7,1152.4 1029.6,1154 1030.4,1155.3 1031.3,1156.5 1032.2,1157.6 1033,1158.6 1033.9,1159.4 1034.8,1160.1 1035.6,1160.9 1036.5,1161.9 1037.3,1163.2 1038.2,1164.7 1039.1,1166.3 1039.9,1167.9 1040.8,1169.6 1041.7,1171.2 1042.5,1172.8 1043.4,1174.4 1044.3,1175.7 1045.1,1176.9 1046,1177.8 1046.9,1178.6 1047.7,1179.4 1048.6,1180.2 1049.4,1181.1 1050.3,1182 1051.2,1183 1052,1184.1 1052.9,1185.4 1053.8,1186.8 1054.6,1188.2 1055.5,1189.5 1056.4,1190.7 1057.2,1191.6 1058.1,1192.5 1059,1193.3 1059.8,1194.2 1060.7,1195.3 1061.5,1196.4 1062.4,1197.6 1063.3,1198.8 1064.1,1199.9 1065,1200.7 1065.9,1201.3 1066.7,1201.7 1067.6,1202 1068.5,1202.2 1069.3,1202.5 1070.2,1202.8 1071.1,1203.4 1071.9,1204.2 1072.8,1205.1 1073.7,1206.2 1074.5,1207.4 1075.4,1208.5 1076.2,1209.4 1077.1,1210.2 1078,1210.8 1078.8,1211.3 1079.7,1211.6 1080.6,1212 1081.4,1212.5 1082.3,1213 1083.2,1213.6 1084,1214.2 1084.9,1214.9 1085.8,1215.6 1086.6,1216.3 1087.5,1216.9 1088.3,1217.4 1089.2,1217.7 1090.1,1218 1090.9,1218.2 1091.8,1218.5 1092.7,1218.9 1093.5,1219.5 1094.4,1220 1095.3,1220.5 1096.1,1220.9 1097,1221.2 1097.9,1221.6 1098.7,1222 1099.6,1222.6 1100.4,1223.2 1101.3,1223.8 1102.2,1224.4 1103,1225 1103.9,1225.4 1104.8,1225.7 1105.6,1225.7 1106.5,1225.5 1107.4,1225.3 1108.2,1225.1 1109.1,1225 1110,1225.1 1110.8,1225.1 1111.7,1225.1 1112.5,1225.1 1113.4,1225.1 1114.3,1225.2 1115.1,1225.4 1116,1225.8 1116.9,1226.2 1117.7,1226.5 1118.6,1226.6 1119.5,1226.5 1120.3,1226.3 1121.2,1226 1122.1,1225.9 1122.9,1226 1123.8,1226.5 1124.6,1227 1125.5,1227.6 1126.4,1228.1 1127.2,1228.4 1128.1,1228.6 1129,1228.7 1129.8,1228.7 1130.7,1228.8 1131.6,1228.8 1132.4,1228.9 1133.3,1229.1 1134.2,1229.3 1135,1229.6 1135.9,1229.9 1136.8,1230.3 1137.6,1230.5 1138.5,1230.7 1139.3,1231 1140.2,1231.4 1141.1,1232 1141.9,1232.8 1142.8,1233.4 1143.7,1233.8 1144.5,1233.8 1145.4,1233.7 1146.3,1233.6 1147.1,1233.5 1148,1233.6 1148.9,1233.7 1149.7,1233.9 1150.6,1234.2 1151.4,1234.5 1152.3,1234.9 1153.2,1235.3 1154,1235.7 1154.9,1235.9 1155.8,1236 1156.6,1236 1157.5,1235.8 1158.4,1235.6 1159.2,1235.4 1160.1,1235.1 1161,1235.1 1161.8,1235.2 1162.7,1235.5 1163.5,1235.9 1164.4,1236.2 1165.3,1236.5 1166.1,1236.7 1167,1236.7 1167.9,1236.7 1168.7,1236.5 1169.6,1236.3 1170.5,1236 1171.3,1235.9 1172.2,1235.9 1173.1,1236.1 1173.9,1236.5 1174.8,1236.9 1175.6,1237.3 1176.5,1237.7 1177.4,1237.9 1178.2,1237.9 1179.1,1237.8 1180,1237.7 1180.8,1237.6 1181.7,1237.8 1182.6,1238.1 1183.4,1238.5 1184.3,1238.8 1185.2,1239.1 1186,1239.4 1186.9,1239.8 1187.7,1240.2 1188.6,1240.7 1189.5,1241.1 1190.3,1241.3 1191.2,1241.4 1192.1,1241.4 1192.9,1241.3 1193.8,1241.3 1194.7,1241.4 1195.5,1241.5 1196.4,1241.7 1197.3,1241.9 1198.1,1242 1199,1242.1 1199.8,1242.2 1200.7,1242.3 1201.6,1242.4 1202.4,1242.5 1203.3,1242.5 1204.2,1242.5 1205,1242.6 1205.9,1242.7 1206.8,1242.9 1207.6,1243.1 1208.5,1243.4 1209.4,1243.7 1210.2,1243.9 1211.1,1244 1212,1243.9 1212.8,1243.7 1213.7,1243.4 1214.5,1243.1 1215.4,1242.7 1216.3,1242.5 1217.1,1242.6 1218,1242.9 1218.9,1243.5 1219.7,1244.1 1220.6,1244.6 1221.5,1244.9 1222.3,1245 1223.2,1245 1224.1,1244.9 1224.9,1245.1 1225.8,1245.4 1226.6,1245.8 1227.5,1246.1 1228.4,1246.3 1229.2,1246.4 1230.1,1246.5 1231,1246.7 1231.8,1246.8 1232.7,1246.9 1233.6,1246.9 1234.4,1246.8 1235.3,1246.7 1236.2,1246.5 1237,1246.5 1237.9,1246.6 1238.7,1246.9 1239.6,1247.3 1240.5,1247.8 1241.3,1248.3 1242.2,1248.6 1243.1,1248.7 1243.9,1248.7 1244.8,1248.7 1245.7,1248.8 1246.5,1249 1247.4,1249.4 1248.3,1249.8 1249.1,1250.3 1250,1250.8 1250.8,1251.2 1251.7,1251.5 1252.6,1251.7 1253.4,1251.7 1254.3,1251.7 1255.2,1251.6 1256,1251.5 1256.9,1251.6 1257.8,1251.7 1258.6,1251.8 1259.5,1252.1 1260.4,1252.5 1261.2,1252.8 1262.1,1253 1262.9,1253 1263.8,1253 1264.7,1252.9 1265.5,1252.8 1266.4,1252.8 1267.3,1252.8 1268.1,1252.7 1269,1252.5 1269.9,1252.2 1270.7,1251.8 1271.6,1251.5 1272.5,1251.4 1273.3,1251.4 1274.2,1251.6 1275.1,1251.9 1275.9,1252.2 1276.8,1252.5 1277.6,1252.7 1278.5,1252.6 1279.4,1252.5 1280.2,1252.3 1281.1,1252.2 1282,1252.1 1282.8,1252.2 1283.7,1252.4 1284.6,1252.6 1285.4,1252.8 1286.3,1253 1287.2,1253.4 1288,1253.8 1288.9,1254.2 1289.7,1254.6 1290.6,1254.8 1291.5,1254.9 1292.3,1255.1 1293.2,1255.3 1294.1,1255.6 1294.9,1255.8 1295.8,1256 1296.7,1256.1 1297.5,1256.2 1298.4,1256.4 1299.3,1256.6 1300.1,1256.8 1301,1256.9 1301.8,1257 1302.7,1257.1 1303.6,1257.3 1304.4,1257.5 1305.3,1257.8 1306.2,1258.2 1307,1258.4 1307.9,1258.6 1308.8,1258.6 1309.6,1258.4 1310.5,1258.1 1311.4,1257.8 1312.2,1257.6 1313.1,1257.6 1313.9,1257.7 1314.8,1258 1315.7,1258.3 1316.5,1258.7 1317.4,1259.1 1318.3,1259.3 1319.1,1259.5 1320,1259.6 1320.9,1259.6 1321.7,1259.5 1322.6,1259.5 1323.5,1259.5 1324.3,1259.4 1325.2,1259.3 1326,1259 1326.9,1258.7 1327.8,1258.5 1328.6,1258.5 1329.5,1258.6 1330.4,1258.9 1331.2,1259.2 1332.1,1259.5 1333,1259.7 1333.8,1259.7 1334.7,1259.6 1335.6,1259.4 1336.4,1259 1337.3,1258.7 1338.1,1258.4 1339,1258.2 1339.9,1258.1 1340.7,1258.1 1341.6,1258.1 1342.5,1258 1343.3,1257.9 1344.2,1257.8 1345.1,1257.7 1345.9,1257.7 1346.8,1257.8"/>
<path class="c" stroke="#92D050" stroke-width="8.0" d="M926.7,1242.2L927.6,1241.6 928.4,1241.1 929.3,1240.7 930.2,1240.2 931,1239.7 931.9,1239 932.8,1238.3 933.6,1237.5 934.5,1236.8 935.4,1236.2 936.2,1235.6 937.1,1235.2 937.9,1234.7 938.8,1234.3 939.7,1233.7 940.5,1233.2 941.4,1232.6 942.3,1232.1 943.1,1231.6 944,1230.9 944.9,1230.2 945.7,1229.5 946.6,1228.7 947.5,1227.9 948.3,1227 949.2,1226 950,1224.7 950.9,1223.2 951.8,1221.5 952.6,1219.9 953.5,1218.3 954.4,1216.6 955.2,1214.9 956.1,1213.2 957,1211.5 957.8,1209.9 958.7,1208.5 959.6,1207.2 960.4,1205.9 961.3,1204.6 962.1,1203.2 963,1201.8 963.9,1200.5 964.7,1199.2 965.6,1198.1 966.5,1197 967.3,1196.1 968.2,1195.3 969.1,1194.7 969.9,1194.2 970.8,1193.9 971.7,1193.4 972.5,1192.8 973.4,1192 974.2,1191.1 975.1,1190.1 976,1189.3 976.8,1188.6 977.7,1188 978.6,1187.5 979.4,1187.1 980.3,1186.7 981.2,1186.3 982,1185.9 982.9,1185.6 983.8,1185.2 984.6,1184.8 985.5,1184.4 986.3,1184 987.2,1183.6 988.1,1183.3 988.9,1183 989.8,1182.8 990.7,1182.6 991.5,1182.5 992.4,1182.4 993.3,1182.3 994.1,1182.1 995,1181.8 995.9,1181.6 996.7,1181.6 997.6,1181.8 998.4,1182.1 999.3,1182.4 1000.2,1182.7 1001,1182.9 1001.9,1183 1002.8,1182.9 1003.6,1182.6 1004.5,1182.3 1005.4,1182 1006.2,1181.8 1007.1,1181.7 1008,1182 1008.8,1182.4 1009.7,1183 1010.6,1183.6 1011.4,1184.2 1012.3,1184.8 1013.1,1185.4 1014,1186 1014.9,1186.7 1015.7,1187.5 1016.6,1188.4 1017.5,1189.3 1018.3,1190.3 1019.2,1191.1 1020.1,1191.8 1020.9,1192.4 1021.8,1193 1022.7,1193.6 1023.5,1194.4 1024.4,1195.3 1025.2,1196.2 1026.1,1197.3 1027,1198.3 1027.8,1199.2 1028.7,1200 1029.6,1200.8 1030.4,1201.6 1031.3,1202.2 1032.2,1202.8 1033,1203.4 1033.9,1204.1 1034.8,1204.8 1035.6,1205.5 1036.5,1206.2 1037.3,1206.8 1038.2,1207.4 1039.1,1208 1039.9,1208.5 1040.8,1208.9 1041.7,1209.3 1042.5,1209.8 1043.4,1210.4 1044.3,1211.1 1045.1,1211.8 1046,1212.5 1046.9,1213.3 1047.7,1214 1048.6,1214.7 1049.4,1215.4 1050.3,1216.1 1051.2,1216.9 1052,1217.6 1052.9,1218.3 1053.8,1218.9 1054.6,1219.3 1055.5,1219.7 1056.4,1220.2 1057.2,1220.8 1058.1,1221.5 1059,1222.5 1059.8,1223.5 1060.7,1224.5 1061.5,1225.3 1062.4,1226 1063.3,1226.6 1064.1,1227 1065,1227.2 1065.9,1227.3 1066.7,1227.5 1067.6,1227.6 1068.5,1227.8 1069.3,1228.2 1070.2,1228.6 1071.1,1229.1 1071.9,1229.6 1072.8,1229.9 1073.7,1230.1 1074.5,1230.1 1075.4,1230 1076.2,1230 1077.1,1230.1 1078,1230.2 1078.8,1230.3 1079.7,1230.4 1080.6,1230.6 1081.4,1230.8 1082.3,1231.2 1083.2,1231.7 1084,1232.4 1084.9,1233.1 1085.8,1233.8 1086.6,1234.4 1087.5,1235 1088.3,1235.5 1089.2,1235.8 1090.1,1236 1090.9,1236.2 1091.8,1236.2 1092.7,1236.2 1093.5,1236.1 1094.4,1235.8 1095.3,1235.5 1096.1,1235.3 1097,1235.2 1097.9,1235.3 1098.7,1235.6 1099.6,1236 1100.4,1236.3 1101.3,1236.6 1102.2,1236.8 1103,1237 1103.9,1237.2 1104.8,1237.4 1105.6,1237.6 1106.5,1237.9 1107.4,1238.1 1108.2,1238.3 1109.1,1238.5 1110,1238.5 1110.8,1238.6 1111.7,1238.6 1112.5,1238.8 1113.4,1238.9 1114.3,1239.1 1115.1,1239.2 1116,1239.4 1116.9,1239.5 1117.7,1239.7 1118.6,1239.8 1119.5,1240.1 1120.3,1240.3 1121.2,1240.6 1122.1,1240.9 1122.9,1241 1123.8,1241.1 1124.6,1241 1125.5,1240.8 1126.4,1240.8 1127.2,1241 1128.1,1241.4 1129,1241.8 1129.8,1242.2 1130.7,1242.4 1131.6,1242.6 1132.4,1242.6 1133.3,1242.5 1134.2,1242.3 1135,1242.1 1135.9,1242 1136.8,1241.9 1137.6,1242 1138.5,1242.1 1139.3,1242.3 1140.2,1242.6 1141.1,1243 1141.9,1243.4 1142.8,1243.7 1143.7,1243.9 1144.5,1244 1145.4,1243.8 1146.3,1243.5 1147.1,1243.2 1148,1242.9 1148.9,1242.9 1149.7,1243.1 1150.6,1243.6 1151.4,1244.3 1152.3,1244.9 1153.2,1245.3 1154,1245.4 1154.9,1245.3 1155.8,1245 1156.6,1244.7 1157.5,1244.5 1158.4,1244.4 1159.2,1244.4 1160.1,1244.4 1161,1244.5 1161.8,1244.7 1162.7,1244.9 1163.5,1245 1164.4,1245.1 1165.3,1245 1166.1,1244.9 1167,1244.8 1167.9,1244.8 1168.7,1245 1169.6,1245.4 1170.5,1245.8 1171.3,1246.4 1172.2,1246.8 1173.1,1247.1 1173.9,1247.2 1174.8,1247.3 1175.6,1247.3 1176.5,1247.5 1177.4,1247.8 1178.2,1248.1 1179.1,1248.4 1180,1248.6 1180.8,1248.6 1181.7,1248.6 1182.6,1248.6 1183.4,1248.4 1184.3,1248.2 1185.2,1248 1186,1247.9 1186.9,1248 1187.7,1248.2 1188.6,1248.4 1189.5,1248.6 1190.3,1248.8 1191.2,1249 1192.1,1249.2 1192.9,1249.4 1193.8,1249.4 1194.7,1249.3 1195.5,1249.2 1196.4,1249.2 1197.3,1249.3 1198.1,1249.6 1199,1249.8 1199.8,1249.9 1200.7,1249.8 1201.6,1249.6 1202.4,1249.3 1203.3,1249 1204.2,1248.8 1205,1248.8 1205.9,1248.9 1206.8,1249.2 1207.6,1249.5 1208.5,1250 1209.4,1250.4 1210.2,1250.7 1211.1,1251 1212,1251.1 1212.8,1251.1 1213.7,1250.9 1214.5,1250.7 1215.4,1250.5 1216.3,1250.5 1217.1,1250.6 1218,1250.9 1218.9,1251.2 1219.7,1251.4 1220.6,1251.6 1221.5,1251.7 1222.3,1251.9 1223.2,1252.2 1224.1,1252.4 1224.9,1252.5 1225.8,1252.7 1226.6,1252.8 1227.5,1253 1228.4,1253.1 1229.2,1253.2 1230.1,1253.3 1231,1253.2 1231.8,1253.2 1232.7,1253.1 1233.6,1252.9 1234.4,1252.7 1235.3,1252.6 1236.2,1252.7 1237,1252.9 1237.9,1253.2 1238.7,1253.4 1239.6,1253.6 1240.5,1253.8 1241.3,1254 1242.2,1254.2 1243.1,1254.6 1243.9,1254.9 1244.8,1255.2 1245.7,1255.3 1246.5,1255.3 1247.4,1255.3 1248.3,1255.4 1249.1,1255.6 1250,1255.8 1250.8,1255.9 1251.7,1256.1 1252.6,1256.1 1253.4,1256.2 1254.3,1256.1 1255.2,1256.1 1256,1256.1 1256.9,1256.1 1257.8,1256.1 1258.6,1256.1 1259.5,1256.1 1260.4,1256.2 1261.2,1256.5 1262.1,1256.8 1262.9,1257.1 1263.8,1257.3 1264.7,1257.4 1265.5,1257.5 1266.4,1257.5 1267.3,1257.6 1268.1,1257.7 1269,1257.9 1269.9,1258 1270.7,1258 1271.6,1257.9 1272.5,1257.8 1273.3,1257.8 1274.2,1257.9 1275.1,1258 1275.9,1257.9 1276.8,1257.6 1277.6,1257.1 1278.5,1256.6 1279.4,1256.1 1280.2,1255.8 1281.1,1255.6 1282,1255.5 1282.8,1255.4 1283.7,1255.4 1284.6,1255.5 1285.4,1255.8 1286.3,1256.1 1287.2,1256.3 1288,1256.3 1288.9,1256.1 1289.7,1255.9 1290.6,1255.7 1291.5,1255.7 1292.3,1255.9 1293.2,1256 1294.1,1256.1 1294.9,1256.1 1295.8,1255.9 1296.7,1255.7 1297.5,1255.5 1298.4,1255.4 1299.3,1255.2 1300.1,1255 1301,1254.8 1301.8,1254.6 1302.7,1254.5 1303.6,1254.4 1304.4,1254.2 1305.3,1254 1306.2,1253.9 1307,1254 1307.9,1254.4 1308.8,1254.9 1309.6,1255.5 1310.5,1255.8 1311.4,1255.9 1312.2,1255.7 1313.1,1255.5 1313.9,1255.3 1314.8,1255.3 1315.7,1255.4 1316.5,1255.6 1317.4,1255.8 1318.3,1256.1 1319.1,1256.3 1320,1256.5 1320.9,1256.7 1321.7,1256.8 1322.6,1256.9 1323.5,1256.8 1324.3,1256.7 1325.2,1256.5 1326,1256.4 1326.9,1256.4 1327.8,1256.4 1328.6,1256.4 1329.5,1256.5 1330.4,1256.6 1331.2,1256.7 1332.1,1256.7 1333,1256.6 1333.8,1256.5 1334.7,1256.3 1335.6,1256.1 1336.4,1256.1 1337.3,1256.2 1338.1,1256.3 1339,1256.5 1339.9,1256.6 1340.7,1256.7 1341.6,1256.7 1342.5,1256.6 1343.3,1256.6 1344.2,1256.5 1345.1,1256.5 1345.9,1256.6 1346.8,1256.7"/>
<path class="c" stroke="#00B0F0" stroke-width="8.0" d="M926.7,1242.3L927.6,1241.9 928.4,1241.5 929.3,1240.9 930.2,1240.2 931,1239.4 931.9,1238.6 932.8,1237.7 933.6,1236.9 934.5,1236.2 935.4,1235.6 936.2,1235.1 937.1,1234.6 937.9,1233.9 938.8,1233.1 939.7,1232.1 940.5,1230.9 941.4,1229.8 942.3,1228.7 943.1,1227.7 944,1226.8 944.9,1226 945.7,1225.3 946.6,1224.8 947.5,1224.3 948.3,1223.7 949.2,1222.9 950,1221.8 950.9,1220.6 951.8,1219.2 952.6,1218 953.5,1217 954.4,1216.2 955.2,1215.7 956.1,1215.2 957,1214.6 957.8,1213.8 958.7,1212.8 959.6,1211.7 960.4,1210.5 961.3,1209.5 962.1,1208.5 963,1207.8 963.9,1207.1 964.7,1206.4 965.6,1205.7 966.5,1205.1 967.3,1204.6 968.2,1204.3 969.1,1204.1 969.9,1203.9 970.8,1203.7 971.7,1203.4 972.5,1203.1 973.4,1202.6 974.2,1202 975.1,1201.3 976,1200.7 976.8,1200.1 977.7,1199.9 978.6,1199.8 979.4,1199.8 980.3,1199.9 981.2,1199.9 982,1200 982.9,1200.1 983.8,1200.2 984.6,1200.3 985.5,1200.2 986.3,1200 987.2,1199.8 988.1,1199.7 988.9,1199.5 989.8,1199.5 990.7,1199.6 991.5,1199.7 992.4,1199.9 993.3,1200.1 994.1,1200.3 995,1200.5 995.9,1200.6 996.7,1200.8 997.6,1201.1 998.4,1201.5 999.3,1202.1 1000.2,1202.7 1001,1203.2 1001.9,1203.5 1002.8,1203.7 1003.6,1203.8 1004.5,1204 1005.4,1204.3 1006.2,1204.5 1007.1,1204.9 1008,1205.3 1008.8,1205.8 1009.7,1206.3 1010.6,1206.8 1011.4,1207.2 1012.3,1207.7 1013.1,1208.4 1014,1209.1 1014.9,1209.8 1015.7,1210.3 1016.6,1210.6 1017.5,1210.8 1018.3,1211 1019.2,1211.5 1020.1,1212.3 1020.9,1213.3 1021.8,1214.2 1022.7,1214.9 1023.5,1215.4 1024.4,1215.7 1025.2,1215.8 1026.1,1215.9 1027,1216 1027.8,1216.2 1028.7,1216.5 1029.6,1216.9 1030.4,1217.3 1031.3,1217.7 1032.2,1218.2 1033,1218.8 1033.9,1219.5 1034.8,1220.1 1035.6,1220.7 1036.5,1221.3 1037.3,1222 1038.2,1222.7 1039.1,1223.4 1039.9,1224.1 1040.8,1224.7 1041.7,1225.2 1042.5,1225.8 1043.4,1226.3 1044.3,1226.9 1045.1,1227.6 1046,1228.2 1046.9,1228.8 1047.7,1229.3 1048.6,1229.7 1049.4,1230 1050.3,1230.2 1051.2,1230.4 1052,1230.5 1052.9,1230.5 1053.8,1230.5 1054.6,1230.4 1055.5,1230.4 1056.4,1230.6 1057.2,1230.9 1058.1,1231.5 1059,1232.1 1059.8,1232.7 1060.7,1233.2 1061.5,1233.7 1062.4,1234.1 1063.3,1234.7 1064.1,1235.3 1065,1236 1065.9,1236.7 1066.7,1237.4 1067.6,1237.9 1068.5,1238.3 1069.3,1238.7 1070.2,1239.1 1071.1,1239.6 1071.9,1240.1 1072.8,1240.6 1073.7,1241 1074.5,1241.4 1075.4,1241.5 1076.2,1241.6 1077.1,1241.6 1078,1241.7 1078.8,1241.7 1079.7,1241.7 1080.6,1241.8 1081.4,1242 1082.3,1242.4 1083.2,1242.8 1084,1243.3 1084.9,1243.7 1085.8,1244 1086.6,1244.3 1087.5,1244.5 1088.3,1244.7 1089.2,1244.9 1090.1,1245 1090.9,1245.2 1091.8,1245.3 1092.7,1245.4 1093.5,1245.4 1094.4,1245.4 1095.3,1245.2 1096.1,1245 1097,1244.8 1097.9,1244.6 1098.7,1244.6 1099.6,1244.8 1100.4,1245.2 1101.3,1245.7 1102.2,1246.4 1103,1246.9 1103.9,1247.4 1104.8,1247.6 1105.6,1247.8 1106.5,1247.9 1107.4,1248 1108.2,1248 1109.1,1248 1110,1247.9 1110.8,1247.8 1111.7,1247.7 1112.5,1247.6 1113.4,1247.6 1114.3,1247.5 1115.1,1247.4 1116,1247.3 1116.9,1247.2 1117.7,1247.2 1118.6,1247.3 1119.5,1247.3 1120.3,1247.2 1121.2,1247.1 1122.1,1246.8 1122.9,1246.4 1123.8,1246 1124.6,1245.6 1125.5,1245.3 1126.4,1245.2 1127.2,1245.3 1128.1,1245.5 1129,1245.8 1129.8,1246.1 1130.7,1246.4 1131.6,1246.7 1132.4,1246.9 1133.3,1246.9 1134.2,1246.9 1135,1246.7 1135.9,1246.5 1136.8,1246.3 1137.6,1246.3 1138.5,1246.5 1139.3,1246.9 1140.2,1247.4 1141.1,1247.9 1141.9,1248.4 1142.8,1248.7 1143.7,1248.8 1144.5,1248.8 1145.4,1248.7 1146.3,1248.6 1147.1,1248.6 1148,1248.6 1148.9,1248.8 1149.7,1249.1 1150.6,1249.4 1151.4,1249.6 1152.3,1249.6 1153.2,1249.4 1154,1249 1154.9,1248.7 1155.8,1248.4 1156.6,1248.3 1157.5,1248.4 1158.4,1248.5 1159.2,1248.8 1160.1,1249.2 1161,1249.6 1161.8,1249.9 1162.7,1250.1 1163.5,1250.3 1164.4,1250.5 1165.3,1250.7 1166.1,1251 1167,1251.2 1167.9,1251.2 1168.7,1251.2 1169.6,1251 1170.5,1250.8 1171.3,1250.5 1172.2,1250.4 1173.1,1250.3 1173.9,1250.4 1174.8,1250.6 1175.6,1251 1176.5,1251.3 1177.4,1251.5 1178.2,1251.5 1179.1,1251.4 1180,1251.2 1180.8,1251.1 1181.7,1250.9 1182.6,1250.8 1183.4,1250.6 1184.3,1250.5 1185.2,1250.4 1186,1250.2 1186.9,1250.2 1187.7,1250.2 1188.6,1250.3 1189.5,1250.5 1190.3,1250.7 1191.2,1251 1192.1,1251.2 1192.9,1251.4 1193.8,1251.6 1194.7,1251.8 1195.5,1251.9 1196.4,1252.1 1197.3,1252.4 1198.1,1252.7 1199,1253 1199.8,1253.1 1200.7,1253.2 1201.6,1253.2 1202.4,1253.2 1203.3,1253.3 1204.2,1253.4 1205,1253.4 1205.9,1253.3 1206.8,1253.1 1207.6,1252.8 1208.5,1252.5 1209.4,1252.4 1210.2,1252.5 1211.1,1252.8 1212,1253.2 1212.8,1253.7 1213.7,1254.1 1214.5,1254.5 1215.4,1254.7 1216.3,1254.8 1217.1,1255 1218,1255.1 1218.9,1255.3 1219.7,1255.4 1220.6,1255.5 1221.5,1255.6 1222.3,1255.7 1223.2,1255.6 1224.1,1255.4 1224.9,1255.1 1225.8,1254.8 1226.6,1254.7 1227.5,1254.8 1228.4,1254.8 1229.2,1254.9 1230.1,1255 1231,1255 1231.8,1255.1 1232.7,1255.2 1233.6,1255.2 1234.4,1255.2 1235.3,1255.1 1236.2,1255.1 1237,1255.2 1237.9,1255.4 1238.7,1255.7 1239.6,1256 1240.5,1256.2 1241.3,1256.4 1242.2,1256.4 1243.1,1256.3 1243.9,1256.3 1244.8,1256.4 1245.7,1256.6 1246.5,1257.1 1247.4,1257.7 1248.3,1258.2 1249.1,1258.4 1250,1258.3 1250.8,1258 1251.7,1257.6 1252.6,1257.3 1253.4,1257.3 1254.3,1257.5 1255.2,1257.8 1256,1258 1256.9,1258 1257.8,1257.9 1258.6,1257.7 1259.5,1257.6 1260.4,1257.4 1261.2,1257.3 1262.1,1257.1 1262.9,1256.8 1263.8,1256.4 1264.7,1256.1 1265.5,1255.9 1266.4,1255.8 1267.3,1255.9 1268.1,1256.2 1269,1256.7 1269.9,1257.1 1270.7,1257.5 1271.6,1257.7 1272.5,1257.7 1273.3,1257.7 1274.2,1257.7 1275.1,1257.7 1275.9,1257.8 1276.8,1258 1277.6,1258.2 1278.5,1258.4 1279.4,1258.4 1280.2,1258.3 1281.1,1258.1 1282,1258 1282.8,1257.8 1283.7,1257.5 1284.6,1257.2 1285.4,1256.9 1286.3,1256.7 1287.2,1256.7 1288,1256.9 1288.9,1257.1 1289.7,1257.4 1290.6,1257.6 1291.5,1257.9 1292.3,1258.2 1293.2,1258.5 1294.1,1258.6 1294.9,1258.6 1295.8,1258.3 1296.7,1257.9 1297.5,1257.5 1298.4,1257.2 1299.3,1257 1300.1,1257.1 1301,1257.3 1301.8,1257.6 1302.7,1258 1303.6,1258.3 1304.4,1258.5 1305.3,1258.6 1306.2,1258.7 1307,1258.6 1307.9,1258.5 1308.8,1258.3 1309.6,1258.3 1310.5,1258.3 1311.4,1258.4 1312.2,1258.6 1313.1,1258.8 1313.9,1258.9 1314.8,1258.9 1315.7,1258.8 1316.5,1258.5 1317.4,1258.3 1318.3,1258.3 1319.1,1258.3 1320,1258.4 1320.9,1258.5 1321.7,1258.4 1322.6,1258.3 1323.5,1258.2 1324.3,1258.2 1325.2,1258.4 1326,1258.6 1326.9,1258.8 1327.8,1259 1328.6,1259.1 1329.5,1259.2 1330.4,1259.3 1331.2,1259.4 1332.1,1259.5 1333,1259.6 1333.8,1259.6 1334.7,1259.5 1335.6,1259.2 1336.4,1258.8 1337.3,1258.3 1338.1,1257.9 1339,1257.7 1339.9,1257.7 1340.7,1257.8 1341.6,1258.1 1342.5,1258.5 1343.3,1259 1344.2,1259.6 1345.1,1260.1 1345.9,1260.5 1346.8,1260.6"/>
<path class="c" stroke="#002060" stroke-width="8.0" d="M926.7,1253.7L927.6,1253.1 928.4,1252.3 929.3,1251.4 930.2,1250.6 931,1249.8 931.9,1249.1 932.8,1248.5 933.6,1247.7 934.5,1246.6 935.4,1245.3 936.2,1244 937.1,1242.8 937.9,1241.9 938.8,1241.2 939.7,1240.7 940.5,1240.3 941.4,1240.1 942.3,1239.9 943.1,1239.9 944,1239.8 944.9,1239.8 945.7,1239.5 946.6,1239.1 947.5,1238.6 948.3,1237.9 949.2,1237.3 950,1236.9 950.9,1236.5 951.8,1236.4 952.6,1236.2 953.5,1236.1 954.4,1235.9 955.2,1235.7 956.1,1235.4 957,1235.1 957.8,1234.8 958.7,1234.5 959.6,1234 960.4,1233.5 961.3,1232.9 962.1,1232.2 963,1231.3 963.9,1230.2 964.7,1228.9 965.6,1227.6 966.5,1226.5 967.3,1225.7 968.2,1225.2 969.1,1225 969.9,1224.9 970.8,1224.8 971.7,1224.7 972.5,1224.4 973.4,1223.8 974.2,1223 975.1,1222 976,1220.9 976.8,1220 977.7,1219.3 978.6,1219 979.4,1218.9 980.3,1219.1 981.2,1219.2 982,1219.1 982.9,1218.9 983.8,1218.5 984.6,1218.2 985.5,1217.9 986.3,1217.6 987.2,1217.2 988.1,1216.9 988.9,1216.7 989.8,1216.6 990.7,1216.6 991.5,1216.6 992.4,1216.6 993.3,1216.5 994.1,1216.3 995,1216.2 995.9,1216.3 996.7,1216.7 997.6,1217.4 998.4,1218.3 999.3,1219.2 1000.2,1220.1 1001,1221 1001.9,1221.9 1002.8,1222.7 1003.6,1223.4 1004.5,1224 1005.4,1224.6 1006.2,1225.1 1007.1,1225.6 1008,1226 1008.8,1226.5 1009.7,1227.1 1010.6,1227.6 1011.4,1228.1 1012.3,1228.5 1013.1,1228.8 1014,1228.9 1014.9,1229 1015.7,1229.1 1016.6,1229.2 1017.5,1229.5 1018.3,1229.7 1019.2,1229.9 1020.1,1230.1 1020.9,1230.4 1021.8,1230.6 1022.7,1230.9 1023.5,1231.2 1024.4,1231.5 1025.2,1231.9 1026.1,1232.2 1027,1232.5 1027.8,1232.7 1028.7,1232.8 1029.6,1232.7 1030.4,1232.7 1031.3,1232.6 1032.2,1232.7 1033,1232.9 1033.9,1233.2 1034.8,1233.5 1035.6,1233.7 1036.5,1234 1037.3,1234.5 1038.2,1235 1039.1,1235.6 1039.9,1236.3 1040.8,1236.8 1041.7,1237.2 1042.5,1237.5 1043.4,1237.9 1044.3,1238.2 1045.1,1238.6 1046,1238.9 1046.9,1239.1 1047.7,1239.2 1048.6,1239.3 1049.4,1239.6 1050.3,1239.9 1051.2,1240.3 1052,1240.7 1052.9,1241 1053.8,1241.2 1054.6,1241.4 1055.5,1241.5 1056.4,1241.8 1057.2,1242.1 1058.1,1242.5 1059,1243 1059.8,1243.4 1060.7,1243.7 1061.5,1244.2 1062.4,1244.7 1063.3,1245.2 1064.1,1245.6 1065,1245.8 1065.9,1245.9 1066.7,1245.9 1067.6,1245.9 1068.5,1246.1 1069.3,1246.4 1070.2,1246.7 1071.1,1247 1071.9,1247.1 1072.8,1247.2 1073.7,1247.2 1074.5,1247.1 1075.4,1247.1 1076.2,1247 1077.1,1246.9 1078,1246.7 1078.8,1246.5 1079.7,1246.3 1080.6,1246.4 1081.4,1246.8 1082.3,1247.3 1083.2,1247.9 1084,1248.4 1084.9,1248.7 1085.8,1248.9 1086.6,1249 1087.5,1249 1088.3,1249 1089.2,1249 1090.1,1249 1090.9,1249.3 1091.8,1249.7 1092.7,1250.1 1093.5,1250.5 1094.4,1250.7 1095.3,1250.9 1096.1,1251.1 1097,1251.4 1097.9,1251.8 1098.7,1252.3 1099.6,1252.6 1100.4,1252.7 1101.3,1252.7 1102.2,1252.7 1103,1252.9 1103.9,1253.2 1104.8,1253.7 1105.6,1254.2 1106.5,1254.7 1107.4,1255.1 1108.2,1255.4 1109.1,1255.7 1110,1255.8 1110.8,1255.8 1111.7,1255.8 1112.5,1255.7 1113.4,1255.7 1114.3,1255.6 1115.1,1255.4 1116,1254.8 1116.9,1254.1 1117.7,1253.2 1118.6,1252.4 1119.5,1251.8 1120.3,1251.4 1121.2,1251.2 1122.1,1251.2 1122.9,1251.2 1123.8,1251.3 1124.6,1251.4 1125.5,1251.5 1126.4,1251.7 1127.2,1252 1128.1,1252.5 1129,1253 1129.8,1253.6 1130.7,1254.2 1131.6,1254.6 1132.4,1255 1133.3,1255.2 1134.2,1255.3 1135,1255.3 1135.9,1255.2 1136.8,1255.1 1137.6,1255 1138.5,1255 1139.3,1255 1140.2,1255.1 1141.1,1255 1141.9,1254.7 1142.8,1254.5 1143.7,1254.3 1144.5,1254.2 1145.4,1254.3 1146.3,1254.4 1147.1,1254.5 1148,1254.6 1148.9,1254.7 1149.7,1254.8 1150.6,1254.9 1151.4,1255 1152.3,1255.2 1153.2,1255.4 1154,1255.8 1154.9,1256.2 1155.8,1256.4 1156.6,1256.3 1157.5,1256 1158.4,1255.6 1159.2,1255.2 1160.1,1254.9 1161,1254.9 1161.8,1255 1162.7,1255.2 1163.5,1255.4 1164.4,1255.6 1165.3,1255.7 1166.1,1255.7 1167,1255.6 1167.9,1255.5 1168.7,1255.4 1169.6,1255.4 1170.5,1255.5 1171.3,1255.7 1172.2,1255.8 1173.1,1256 1173.9,1256 1174.8,1256 1175.6,1255.9 1176.5,1255.8 1177.4,1255.6 1178.2,1255.3 1179.1,1254.9 1180,1254.4 1180.8,1254 1181.7,1253.8 1182.6,1253.8 1183.4,1253.9 1184.3,1254 1185.2,1254.1 1186,1254 1186.9,1254 1187.7,1253.9 1188.6,1253.9 1189.5,1254 1190.3,1254.2 1191.2,1254.3 1192.1,1254.4 1192.9,1254.3 1193.8,1254.2 1194.7,1254.1 1195.5,1254.2 1196.4,1254.5 1197.3,1254.9 1198.1,1255.5 1199,1256 1199.8,1256.4 1200.7,1256.7 1201.6,1256.9 1202.4,1257.1 1203.3,1257.2 1204.2,1257.3 1205,1257.5 1205.9,1257.7 1206.8,1258 1207.6,1258.2 1208.5,1258.6 1209.4,1258.9 1210.2,1259.2 1211.1,1259.3 1212,1259.2 1212.8,1259 1213.7,1258.8 1214.5,1258.6 1215.4,1258.6 1216.3,1258.8 1217.1,1259.1 1218,1259.5 1218.9,1259.7 1219.7,1259.7 1220.6,1259.5 1221.5,1259.1 1222.3,1258.6 1223.2,1258.3 1224.1,1258.2 1224.9,1258.2 1225.8,1258.3 1226.6,1258.3 1227.5,1258.2 1228.4,1257.9 1229.2,1257.7 1230.1,1257.5 1231,1257.4 1231.8,1257.5 1232.7,1257.7 1233.6,1258 1234.4,1258.4 1235.3,1258.6 1236.2,1258.6 1237,1258.4 1237.9,1258.1 1238.7,1257.8 1239.6,1257.6 1240.5,1257.7 1241.3,1257.9 1242.2,1258 1243.1,1258.2 1243.9,1258.2 1244.8,1258.2 1245.7,1258.2 1246.5,1258.2 1247.4,1258.3 1248.3,1258.5 1249.1,1259 1250,1259.4 1250.8,1259.9 1251.7,1260.3 1252.6,1260.5 1253.4,1260.7 1254.3,1260.9 1255.2,1261 1256,1261.1 1256.9,1261 1257.8,1260.8 1258.6,1260.5 1259.5,1260.4 1260.4,1260.3 1261.2,1260.4 1262.1,1260.6 1262.9,1260.7 1263.8,1260.7 1264.7,1260.6 1265.5,1260.4 1266.4,1260.1 1267.3,1259.9 1268.1,1259.8 1269,1259.7 1269.9,1259.8 1270.7,1259.8 1271.6,1259.8 1272.5,1259.7 1273.3,1259.6 1274.2,1259.5 1275.1,1259.6 1275.9,1259.8 1276.8,1260 1277.6,1260.1 1278.5,1260.1 1279.4,1259.9 1280.2,1259.6 1281.1,1259.3 1282,1259 1282.8,1258.8 1283.7,1258.8 1284.6,1258.9 1285.4,1259.1 1286.3,1259.3 1287.2,1259.5 1288,1259.7 1288.9,1259.8 1289.7,1260.1 1290.6,1260.3 1291.5,1260.4 1292.3,1260.5 1293.2,1260.4 1294.1,1260.2 1294.9,1260 1295.8,1259.8 1296.7,1259.8 1297.5,1259.9 1298.4,1260.1 1299.3,1260.3 1300.1,1260.4 1301,1260.4 1301.8,1260.3 1302.7,1260.4 1303.6,1260.5 1304.4,1260.7 1305.3,1260.9 1306.2,1261.1 1307,1261.2 1307.9,1261.2 1308.8,1261.1 1309.6,1260.9 1310.5,1260.6 1311.4,1260.3 1312.2,1260.1 1313.1,1260.1 1313.9,1260.2 1314.8,1260.3 1315.7,1260.4 1316.5,1260.3 1317.4,1260.1 1318.3,1259.8 1319.1,1259.5 1320,1259.3 1320.9,1259.2 1321.7,1259.1 1322.6,1259 1323.5,1258.9 1324.3,1258.8 1325.2,1258.8 1326,1258.9 1326.9,1259.2 1327.8,1259.7 1328.6,1260.1 1329.5,1260.5 1330.4,1260.7 1331.2,1260.8 1332.1,1260.7 1333,1260.6 1333.8,1260.5 1334.7,1260.3 1335.6,1260.2 1336.4,1259.9 1337.3,1259.5 1338.1,1259.1 1339,1258.8 1339.9,1258.7 1340.7,1258.7 1341.6,1258.7 1342.5,1258.7 1343.3,1258.7 1344.2,1258.9 1345.1,1259.1 1345.9,1259.4 1346.8,1259.8"/>
</g>
<path d="M1369.9 990.2H1419" stroke="#C00000" stroke-width="7.5" stroke-linecap="round" fill="none"/>
<text class="lg" x="1424.5" y="1000.6">pH3</text>
<path d="M1369.9 1040.3H1419" stroke="#FFC000" stroke-width="7.5" stroke-linecap="round" fill="none"/>
<text class="lg" x="1424.5" y="1050.7">pH5</text>
<path d="M1369.9 1090.4H1419" stroke="#92D050" stroke-width="7.5" stroke-linecap="round" fill="none"/>
<text class="lg" x="1424.5" y="1100.8">pH7</text>
<path d="M1369.9 1140.5H1419" stroke="#00B0F0" stroke-width="7.5" stroke-linecap="round" fill="none"/>
<text class="lg" x="1424.5" y="1150.9">pH9</text>
<path d="M1369.9 1190.6H1419" stroke="#002060" stroke-width="7.5" stroke-linecap="round" fill="none"/>
<text class="lg" x="1424.5" y="1201">pH12</text>
</g>
</svg></body></html>
